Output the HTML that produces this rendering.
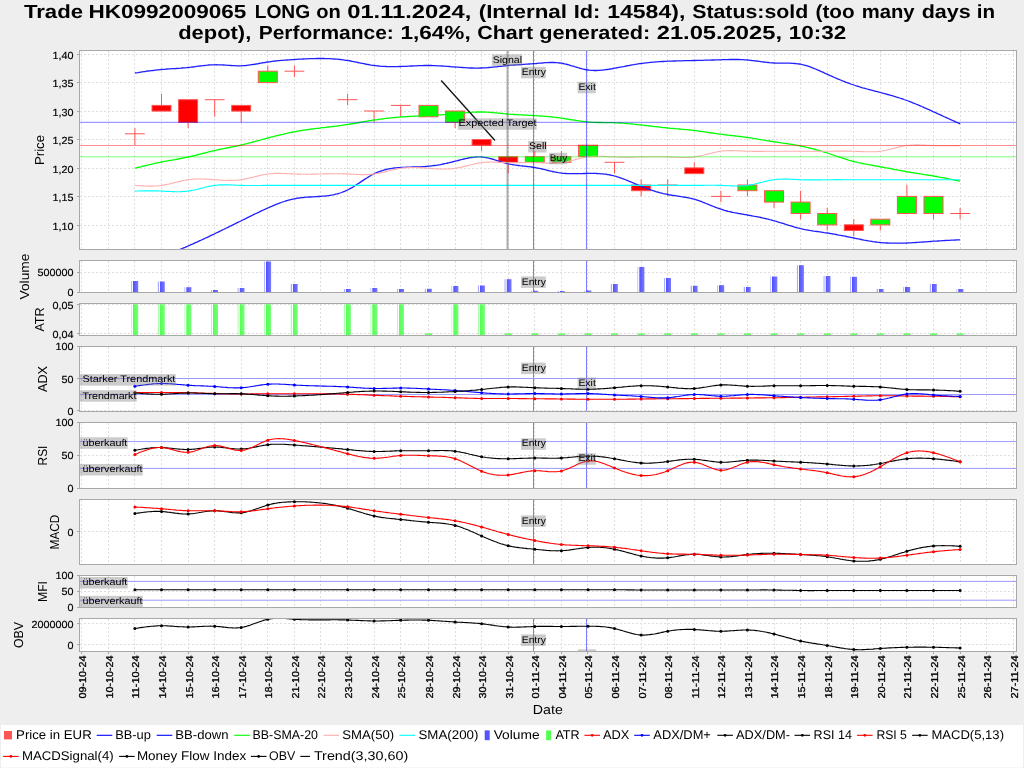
<!DOCTYPE html><html><head><meta charset="utf-8"><title>Trade chart</title>
<style>html,body{margin:0;padding:0;background:#eeeeee;overflow:hidden}svg{display:block;will-change:transform;transform:translateZ(0)}text{font-family:"Liberation Sans",sans-serif;fill:#000;text-rendering:geometricPrecision}.b{font-weight:bold}</style></head><body>
<svg width="1024" height="768" viewBox="0 0 1024 768">
<defs>
<linearGradient id="gv" x1="0" x2="1" y1="0" y2="0"><stop offset="0" stop-color="#b4b4ff"/><stop offset="0.13" stop-color="#a8a8ff"/><stop offset="0.16" stop-color="#fbfbff"/><stop offset="0.28" stop-color="#fbfbff"/><stop offset="0.31" stop-color="#5252ff"/><stop offset="1" stop-color="#7a7aff"/></linearGradient>
<linearGradient id="ga" x1="0" x2="1" y1="0" y2="0"><stop offset="0" stop-color="#b4ffb4"/><stop offset="0.13" stop-color="#a8ffa8"/><stop offset="0.16" stop-color="#fbfffb"/><stop offset="0.28" stop-color="#fbfffb"/><stop offset="0.31" stop-color="#52ff52"/><stop offset="1" stop-color="#7aff7a"/></linearGradient>
<clipPath id="c_price"><rect x="80.0" y="51.0" width="936.0" height="198.0"/></clipPath>
<clipPath id="c_vol"><rect x="80.0" y="261.0" width="936.0" height="31.0"/></clipPath>
<clipPath id="c_atr"><rect x="80.0" y="304.0" width="936.0" height="31.0"/></clipPath>
<clipPath id="c_adx"><rect x="80.0" y="347.0" width="936.0" height="64.0"/></clipPath>
<clipPath id="c_rsi"><rect x="80.0" y="423.0" width="936.0" height="65.0"/></clipPath>
<clipPath id="c_macd"><rect x="80.0" y="500.0" width="936.0" height="64.0"/></clipPath>
<clipPath id="c_mfi"><rect x="80.0" y="576.0" width="936.0" height="31.0"/></clipPath>
<clipPath id="c_obv"><rect x="80.0" y="619.0" width="936.0" height="32.0"/></clipPath>
</defs>
<rect width="1024" height="768" fill="#eeeeee"/>
<text class="b" x="23.9" y="18.0" font-size="18.9" textLength="59.1" lengthAdjust="spacingAndGlyphs">Trade</text>
<text class="b" x="88.5" y="18.0" font-size="18.9" textLength="157.8" lengthAdjust="spacingAndGlyphs">HK0992009065</text>
<text class="b" x="254.7" y="18.0" font-size="18.9" textLength="55.4" lengthAdjust="spacingAndGlyphs">LONG</text>
<text class="b" x="316.2" y="18.0" font-size="18.9" textLength="24.6" lengthAdjust="spacingAndGlyphs">on</text>
<text class="b" x="347.2" y="18.0" font-size="18.9" textLength="124.1" lengthAdjust="spacingAndGlyphs">01.11.2024,</text>
<text class="b" x="478.7" y="18.0" font-size="18.9" textLength="88.3" lengthAdjust="spacingAndGlyphs">(Internal</text>
<text class="b" x="573.7" y="18.0" font-size="18.9" textLength="26.6" lengthAdjust="spacingAndGlyphs">Id:</text>
<text class="b" x="607.2" y="18.0" font-size="18.9" textLength="78.1" lengthAdjust="spacingAndGlyphs">14584),</text>
<text class="b" x="692.2" y="18.0" font-size="18.9" textLength="116.1" lengthAdjust="spacingAndGlyphs">Status:sold</text>
<text class="b" x="815.5" y="18.0" font-size="18.9" textLength="39.1" lengthAdjust="spacingAndGlyphs">(too</text>
<text class="b" x="861.7" y="18.0" font-size="18.9" textLength="52.9" lengthAdjust="spacingAndGlyphs">many</text>
<text class="b" x="921.7" y="18.0" font-size="18.9" textLength="49.1" lengthAdjust="spacingAndGlyphs">days</text>
<text class="b" x="976.8" y="18.0" font-size="18.9" textLength="18.3" lengthAdjust="spacingAndGlyphs">in</text>
<text class="b" x="178.2" y="39.1" font-size="18.9" textLength="73.1" lengthAdjust="spacingAndGlyphs">depot),</text>
<text class="b" x="258.7" y="39.1" font-size="18.9" textLength="135.1" lengthAdjust="spacingAndGlyphs">Performance:</text>
<text class="b" x="400.4" y="39.1" font-size="18.9" textLength="70.3" lengthAdjust="spacingAndGlyphs">1,64%,</text>
<text class="b" x="477.2" y="39.1" font-size="18.9" textLength="56.1" lengthAdjust="spacingAndGlyphs">Chart</text>
<text class="b" x="539.2" y="39.1" font-size="18.9" textLength="111.1" lengthAdjust="spacingAndGlyphs">generated:</text>
<text class="b" x="656.7" y="39.1" font-size="18.9" textLength="125.3" lengthAdjust="spacingAndGlyphs">21.05.2025,</text>
<text class="b" x="788.7" y="39.1" font-size="18.9" textLength="57.6" lengthAdjust="spacingAndGlyphs">10:32</text>
<rect x="79.5" y="50.5" width="937.0" height="199.0" fill="#fff"/>
<path d="M81.5 51.0 V249.5 M108.5 51.0 V249.5 M134.5 51.0 V249.5 M161.5 51.0 V249.5 M188.5 51.0 V249.5 M214.5 51.0 V249.5 M241.5 51.0 V249.5 M267.5 51.0 V249.5 M294.5 51.0 V249.5 M320.5 51.0 V249.5 M347.5 51.0 V249.5 M374.5 51.0 V249.5 M400.5 51.0 V249.5 M428.5 51.0 V249.5 M455.5 51.0 V249.5 M481.5 51.0 V249.5 M508.5 51.0 V249.5 M534.5 51.0 V249.5 M561.5 51.0 V249.5 M587.5 51.0 V249.5 M614.5 51.0 V249.5 M641.5 51.0 V249.5 M667.5 51.0 V249.5 M694.5 51.0 V249.5 M720.5 51.0 V249.5 M747.5 51.0 V249.5 M774.5 51.0 V249.5 M800.5 51.0 V249.5 M827.5 51.0 V249.5 M853.5 51.0 V249.5 M880.5 51.0 V249.5 M906.5 51.0 V249.5 M933.5 51.0 V249.5 M960.5 51.0 V249.5 M986.5 51.0 V249.5 M1013.5 51.0 V249.5 M80.0 54.5 H1016.5 M80.0 82.5 H1016.5 M80.0 111.5 H1016.5 M80.0 139.5 H1016.5 M80.0 168.5 H1016.5 M80.0 196.5 H1016.5 M80.0 225.5 H1016.5" stroke="#dddddd" stroke-width="1" stroke-dasharray="2 2" fill="none"/>
<rect x="79.5" y="260.5" width="937.0" height="32.0" fill="#fff"/>
<path d="M81.5 261.0 V292.5 M108.5 261.0 V292.5 M134.5 261.0 V292.5 M161.5 261.0 V292.5 M188.5 261.0 V292.5 M214.5 261.0 V292.5 M241.5 261.0 V292.5 M267.5 261.0 V292.5 M294.5 261.0 V292.5 M320.5 261.0 V292.5 M347.5 261.0 V292.5 M374.5 261.0 V292.5 M400.5 261.0 V292.5 M428.5 261.0 V292.5 M455.5 261.0 V292.5 M481.5 261.0 V292.5 M508.5 261.0 V292.5 M534.5 261.0 V292.5 M561.5 261.0 V292.5 M587.5 261.0 V292.5 M614.5 261.0 V292.5 M641.5 261.0 V292.5 M667.5 261.0 V292.5 M694.5 261.0 V292.5 M720.5 261.0 V292.5 M747.5 261.0 V292.5 M774.5 261.0 V292.5 M800.5 261.0 V292.5 M827.5 261.0 V292.5 M853.5 261.0 V292.5 M880.5 261.0 V292.5 M906.5 261.0 V292.5 M933.5 261.0 V292.5 M960.5 261.0 V292.5 M986.5 261.0 V292.5 M1013.5 261.0 V292.5 M80.0 272.5 H1016.5 M80.0 292.5 H1016.5" stroke="#dddddd" stroke-width="1" stroke-dasharray="2 2" fill="none"/>
<rect x="79.5" y="303.5" width="937.0" height="32.0" fill="#fff"/>
<path d="M81.5 304.0 V335.5 M108.5 304.0 V335.5 M134.5 304.0 V335.5 M161.5 304.0 V335.5 M188.5 304.0 V335.5 M214.5 304.0 V335.5 M241.5 304.0 V335.5 M267.5 304.0 V335.5 M294.5 304.0 V335.5 M320.5 304.0 V335.5 M347.5 304.0 V335.5 M374.5 304.0 V335.5 M400.5 304.0 V335.5 M428.5 304.0 V335.5 M455.5 304.0 V335.5 M481.5 304.0 V335.5 M508.5 304.0 V335.5 M534.5 304.0 V335.5 M561.5 304.0 V335.5 M587.5 304.0 V335.5 M614.5 304.0 V335.5 M641.5 304.0 V335.5 M667.5 304.0 V335.5 M694.5 304.0 V335.5 M720.5 304.0 V335.5 M747.5 304.0 V335.5 M774.5 304.0 V335.5 M800.5 304.0 V335.5 M827.5 304.0 V335.5 M853.5 304.0 V335.5 M880.5 304.0 V335.5 M906.5 304.0 V335.5 M933.5 304.0 V335.5 M960.5 304.0 V335.5 M986.5 304.0 V335.5 M1013.5 304.0 V335.5 M80.0 304.5 H1016.5 M80.0 333.5 H1016.5" stroke="#dddddd" stroke-width="1" stroke-dasharray="2 2" fill="none"/>
<rect x="79.5" y="346.5" width="937.0" height="65.0" fill="#fff"/>
<path d="M81.5 347.0 V411.5 M108.5 347.0 V411.5 M134.5 347.0 V411.5 M161.5 347.0 V411.5 M188.5 347.0 V411.5 M214.5 347.0 V411.5 M241.5 347.0 V411.5 M267.5 347.0 V411.5 M294.5 347.0 V411.5 M320.5 347.0 V411.5 M347.5 347.0 V411.5 M374.5 347.0 V411.5 M400.5 347.0 V411.5 M428.5 347.0 V411.5 M455.5 347.0 V411.5 M481.5 347.0 V411.5 M508.5 347.0 V411.5 M534.5 347.0 V411.5 M561.5 347.0 V411.5 M587.5 347.0 V411.5 M614.5 347.0 V411.5 M641.5 347.0 V411.5 M667.5 347.0 V411.5 M694.5 347.0 V411.5 M720.5 347.0 V411.5 M747.5 347.0 V411.5 M774.5 347.0 V411.5 M800.5 347.0 V411.5 M827.5 347.0 V411.5 M853.5 347.0 V411.5 M880.5 347.0 V411.5 M906.5 347.0 V411.5 M933.5 347.0 V411.5 M960.5 347.0 V411.5 M986.5 347.0 V411.5 M1013.5 347.0 V411.5 M80.0 346.5 H1016.5 M80.0 378.5 H1016.5 M80.0 410.5 H1016.5" stroke="#dddddd" stroke-width="1" stroke-dasharray="2 2" fill="none"/>
<rect x="79.5" y="422.5" width="937.0" height="66.0" fill="#fff"/>
<path d="M81.5 423.0 V488.5 M108.5 423.0 V488.5 M134.5 423.0 V488.5 M161.5 423.0 V488.5 M188.5 423.0 V488.5 M214.5 423.0 V488.5 M241.5 423.0 V488.5 M267.5 423.0 V488.5 M294.5 423.0 V488.5 M320.5 423.0 V488.5 M347.5 423.0 V488.5 M374.5 423.0 V488.5 M400.5 423.0 V488.5 M428.5 423.0 V488.5 M455.5 423.0 V488.5 M481.5 423.0 V488.5 M508.5 423.0 V488.5 M534.5 423.0 V488.5 M561.5 423.0 V488.5 M587.5 423.0 V488.5 M614.5 423.0 V488.5 M641.5 423.0 V488.5 M667.5 423.0 V488.5 M694.5 423.0 V488.5 M720.5 423.0 V488.5 M747.5 423.0 V488.5 M774.5 423.0 V488.5 M800.5 423.0 V488.5 M827.5 423.0 V488.5 M853.5 423.0 V488.5 M880.5 423.0 V488.5 M906.5 423.0 V488.5 M933.5 423.0 V488.5 M960.5 423.0 V488.5 M986.5 423.0 V488.5 M1013.5 423.0 V488.5 M80.0 422.5 H1016.5 M80.0 455.5 H1016.5 M80.0 488.5 H1016.5" stroke="#dddddd" stroke-width="1" stroke-dasharray="2 2" fill="none"/>
<rect x="79.5" y="499.5" width="937.0" height="65.0" fill="#fff"/>
<path d="M81.5 500.0 V564.5 M108.5 500.0 V564.5 M134.5 500.0 V564.5 M161.5 500.0 V564.5 M188.5 500.0 V564.5 M214.5 500.0 V564.5 M241.5 500.0 V564.5 M267.5 500.0 V564.5 M294.5 500.0 V564.5 M320.5 500.0 V564.5 M347.5 500.0 V564.5 M374.5 500.0 V564.5 M400.5 500.0 V564.5 M428.5 500.0 V564.5 M455.5 500.0 V564.5 M481.5 500.0 V564.5 M508.5 500.0 V564.5 M534.5 500.0 V564.5 M561.5 500.0 V564.5 M587.5 500.0 V564.5 M614.5 500.0 V564.5 M641.5 500.0 V564.5 M667.5 500.0 V564.5 M694.5 500.0 V564.5 M720.5 500.0 V564.5 M747.5 500.0 V564.5 M774.5 500.0 V564.5 M800.5 500.0 V564.5 M827.5 500.0 V564.5 M853.5 500.0 V564.5 M880.5 500.0 V564.5 M906.5 500.0 V564.5 M933.5 500.0 V564.5 M960.5 500.0 V564.5 M986.5 500.0 V564.5 M1013.5 500.0 V564.5 M80.0 531.5 H1016.5" stroke="#dddddd" stroke-width="1" stroke-dasharray="2 2" fill="none"/>
<rect x="79.5" y="575.5" width="937.0" height="32.0" fill="#fff"/>
<path d="M81.5 576.0 V607.5 M108.5 576.0 V607.5 M134.5 576.0 V607.5 M161.5 576.0 V607.5 M188.5 576.0 V607.5 M214.5 576.0 V607.5 M241.5 576.0 V607.5 M267.5 576.0 V607.5 M294.5 576.0 V607.5 M320.5 576.0 V607.5 M347.5 576.0 V607.5 M374.5 576.0 V607.5 M400.5 576.0 V607.5 M428.5 576.0 V607.5 M455.5 576.0 V607.5 M481.5 576.0 V607.5 M508.5 576.0 V607.5 M534.5 576.0 V607.5 M561.5 576.0 V607.5 M587.5 576.0 V607.5 M614.5 576.0 V607.5 M641.5 576.0 V607.5 M667.5 576.0 V607.5 M694.5 576.0 V607.5 M720.5 576.0 V607.5 M747.5 576.0 V607.5 M774.5 576.0 V607.5 M800.5 576.0 V607.5 M827.5 576.0 V607.5 M853.5 576.0 V607.5 M880.5 576.0 V607.5 M906.5 576.0 V607.5 M933.5 576.0 V607.5 M960.5 576.0 V607.5 M986.5 576.0 V607.5 M1013.5 576.0 V607.5 M80.0 575.5 H1016.5 M80.0 591.5 H1016.5 M80.0 607.5 H1016.5" stroke="#dddddd" stroke-width="1" stroke-dasharray="2 2" fill="none"/>
<rect x="79.5" y="618.5" width="937.0" height="33.0" fill="#fff"/>
<path d="M81.5 619.0 V651.5 M108.5 619.0 V651.5 M134.5 619.0 V651.5 M161.5 619.0 V651.5 M188.5 619.0 V651.5 M214.5 619.0 V651.5 M241.5 619.0 V651.5 M267.5 619.0 V651.5 M294.5 619.0 V651.5 M320.5 619.0 V651.5 M347.5 619.0 V651.5 M374.5 619.0 V651.5 M400.5 619.0 V651.5 M428.5 619.0 V651.5 M455.5 619.0 V651.5 M481.5 619.0 V651.5 M508.5 619.0 V651.5 M534.5 619.0 V651.5 M561.5 619.0 V651.5 M587.5 619.0 V651.5 M614.5 619.0 V651.5 M641.5 619.0 V651.5 M667.5 619.0 V651.5 M694.5 619.0 V651.5 M720.5 619.0 V651.5 M747.5 619.0 V651.5 M774.5 619.0 V651.5 M800.5 619.0 V651.5 M827.5 619.0 V651.5 M853.5 619.0 V651.5 M880.5 619.0 V651.5 M906.5 619.0 V651.5 M933.5 619.0 V651.5 M960.5 619.0 V651.5 M986.5 619.0 V651.5 M1013.5 619.0 V651.5 M80.0 623.5 H1016.5 M80.0 644.5 H1016.5" stroke="#dddddd" stroke-width="1" stroke-dasharray="2 2" fill="none"/>
<g clip-path="url(#c_price)">
<path d="M134.9 128.1 V133.8" stroke="#ff5555" stroke-width="1"/>
<path d="M134.9 133.8 V145.2" stroke="#ff5555" stroke-width="1"/>
<path d="M125.0 133.8 H144.8" stroke="#ff5555" stroke-width="1"/>
<path d="M161.5 94.0 V105.4" stroke="#ff5555" stroke-width="1"/>
<rect x="152.0" y="105.4" width="19.0" height="5.7" fill="#ff0000" stroke="#ff5555" stroke-width="1"/>
<path d="M188.1 122.4 V128.1" stroke="#ff5555" stroke-width="1"/>
<rect x="178.6" y="99.7" width="19.0" height="22.8" fill="#ff0000" stroke="#ff5555" stroke-width="1"/>
<path d="M214.7 99.7 V116.7" stroke="#ff5555" stroke-width="1"/>
<path d="M204.8 99.7 H224.6" stroke="#ff5555" stroke-width="1"/>
<path d="M241.2 111.0 V122.4" stroke="#ff5555" stroke-width="1"/>
<rect x="231.7" y="105.4" width="19.0" height="5.7" fill="#ff0000" stroke="#ff5555" stroke-width="1"/>
<path d="M267.8 65.5 V71.2" stroke="#ff5555" stroke-width="1"/>
<rect x="258.3" y="71.2" width="19.0" height="11.4" fill="#00ff00" stroke="#ff5555" stroke-width="1"/>
<path d="M294.4 65.5 V71.2" stroke="#ff5555" stroke-width="1"/>
<path d="M294.4 71.2 V76.9" stroke="#ff5555" stroke-width="1"/>
<path d="M284.5 71.2 H304.3" stroke="#ff5555" stroke-width="1"/>
<path d="M347.6 94.0 V99.7" stroke="#ff5555" stroke-width="1"/>
<path d="M347.6 99.7 V105.4" stroke="#ff5555" stroke-width="1"/>
<path d="M337.7 99.7 H357.5" stroke="#ff5555" stroke-width="1"/>
<path d="M374.1 111.0 V122.4" stroke="#ff5555" stroke-width="1"/>
<path d="M364.2 111.0 H384.0" stroke="#ff5555" stroke-width="1"/>
<path d="M400.7 105.4 V116.7" stroke="#ff5555" stroke-width="1"/>
<path d="M390.8 105.4 H410.6" stroke="#ff5555" stroke-width="1"/>
<rect x="419.0" y="105.4" width="19.0" height="11.4" fill="#00ff00" stroke="#ff5555" stroke-width="1"/>
<path d="M455.1 122.4 V128.1" stroke="#ff5555" stroke-width="1"/>
<rect x="445.6" y="111.0" width="19.0" height="11.4" fill="#00ff00" stroke="#ff5555" stroke-width="1"/>
<path d="M481.6 145.2 V150.9" stroke="#ff5555" stroke-width="1"/>
<rect x="472.1" y="139.5" width="19.0" height="5.7" fill="#ff0000" stroke="#ff5555" stroke-width="1"/>
<path d="M508.2 162.3 V173.6" stroke="#ff5555" stroke-width="1"/>
<rect x="498.7" y="156.6" width="19.0" height="5.7" fill="#ff0000" stroke="#ff5555" stroke-width="1"/>
<path d="M534.8 150.9 V156.6" stroke="#ff5555" stroke-width="1"/>
<rect x="525.3" y="156.6" width="19.0" height="5.7" fill="#00ff00" stroke="#ff5555" stroke-width="1"/>
<path d="M561.4 150.9 V156.6" stroke="#ff5555" stroke-width="1"/>
<rect x="551.9" y="156.6" width="19.0" height="5.7" fill="#00ff00" stroke="#ff5555" stroke-width="1"/>
<rect x="578.5" y="145.2" width="19.0" height="11.4" fill="#00ff00" stroke="#ff5555" stroke-width="1"/>
<path d="M614.5 162.3 V173.6" stroke="#ff5555" stroke-width="1"/>
<path d="M604.6 162.3 H624.4" stroke="#ff5555" stroke-width="1"/>
<path d="M641.1 179.3 V185.0" stroke="#ff5555" stroke-width="1"/>
<path d="M641.1 190.7 V196.4" stroke="#ff5555" stroke-width="1"/>
<rect x="631.6" y="185.0" width="19.0" height="5.7" fill="#ff0000" stroke="#ff5555" stroke-width="1"/>
<path d="M667.7 179.3 V185.0" stroke="#ff5555" stroke-width="1"/>
<path d="M667.7 185.0 V196.4" stroke="#ff5555" stroke-width="1"/>
<path d="M657.8 185.0 H677.6" stroke="#ff5555" stroke-width="1"/>
<path d="M694.3 162.3 V167.9" stroke="#ff5555" stroke-width="1"/>
<rect x="684.8" y="167.9" width="19.0" height="5.7" fill="#ff0000" stroke="#ff5555" stroke-width="1"/>
<path d="M720.9 190.7 V196.4" stroke="#ff5555" stroke-width="1"/>
<path d="M720.9 196.4 V202.1" stroke="#ff5555" stroke-width="1"/>
<path d="M711.0 196.4 H730.8" stroke="#ff5555" stroke-width="1"/>
<path d="M747.4 179.3 V185.0" stroke="#ff5555" stroke-width="1"/>
<path d="M747.4 190.7 V196.4" stroke="#ff5555" stroke-width="1"/>
<rect x="737.9" y="185.0" width="19.0" height="5.7" fill="#00ff00" stroke="#ff5555" stroke-width="1"/>
<path d="M774.0 202.1 V207.8" stroke="#ff5555" stroke-width="1"/>
<rect x="764.5" y="190.7" width="19.0" height="11.4" fill="#00ff00" stroke="#ff5555" stroke-width="1"/>
<path d="M800.6 190.7 V202.1" stroke="#ff5555" stroke-width="1"/>
<path d="M800.6 213.5 V219.2" stroke="#ff5555" stroke-width="1"/>
<rect x="791.1" y="202.1" width="19.0" height="11.4" fill="#00ff00" stroke="#ff5555" stroke-width="1"/>
<path d="M827.2 207.8 V213.5" stroke="#ff5555" stroke-width="1"/>
<path d="M827.2 224.8 V230.5" stroke="#ff5555" stroke-width="1"/>
<rect x="817.7" y="213.5" width="19.0" height="11.4" fill="#00ff00" stroke="#ff5555" stroke-width="1"/>
<path d="M853.8 219.2 V224.8" stroke="#ff5555" stroke-width="1"/>
<path d="M853.8 230.5 V236.2" stroke="#ff5555" stroke-width="1"/>
<rect x="844.3" y="224.8" width="19.0" height="5.7" fill="#ff0000" stroke="#ff5555" stroke-width="1"/>
<path d="M880.3 224.8 V230.5" stroke="#ff5555" stroke-width="1"/>
<rect x="870.8" y="219.2" width="19.0" height="5.7" fill="#00ff00" stroke="#ff5555" stroke-width="1"/>
<path d="M906.9 185.0 V196.4" stroke="#ff5555" stroke-width="1"/>
<rect x="897.4" y="196.4" width="19.0" height="17.1" fill="#00ff00" stroke="#ff5555" stroke-width="1"/>
<path d="M933.5 213.5 V219.2" stroke="#ff5555" stroke-width="1"/>
<rect x="924.0" y="196.4" width="19.0" height="17.1" fill="#00ff00" stroke="#ff5555" stroke-width="1"/>
<path d="M960.1 207.8 V213.5" stroke="#ff5555" stroke-width="1"/>
<path d="M960.1 213.5 V219.2" stroke="#ff5555" stroke-width="1"/>
<path d="M950.2 213.5 H970.0" stroke="#ff5555" stroke-width="1"/>
<path d="M134.9 73.0 L136.4 72.8 L137.9 72.6 L139.4 72.3 L140.8 72.1 L142.3 71.9 L143.8 71.7 L145.3 71.5 L146.7 71.2 L148.2 71.0 L149.7 70.8 L151.2 70.6 L152.6 70.5 L154.1 70.3 L155.6 70.1 L157.1 69.9 L158.5 69.8 L160.0 69.6 L161.5 69.5 L163.0 69.4 L164.5 69.3 L165.9 69.1 L167.4 69.0 L168.9 68.9 L170.4 68.8 L171.8 68.7 L173.3 68.7 L174.8 68.6 L176.3 68.5 L177.7 68.4 L179.2 68.3 L180.7 68.2 L182.2 68.0 L183.6 67.9 L185.1 67.8 L186.6 67.7 L188.1 67.5 L189.6 67.3 L191.0 67.2 L192.5 67.0 L194.0 66.8 L195.5 66.6 L196.9 66.4 L198.4 66.2 L199.9 66.0 L201.4 65.8 L202.8 65.6 L204.3 65.5 L205.8 65.3 L207.3 65.2 L208.8 65.0 L210.2 64.9 L211.7 64.8 L213.2 64.8 L214.7 64.8 L216.1 64.7 L217.6 64.8 L219.1 64.8 L220.6 64.9 L222.0 64.9 L223.5 65.0 L225.0 65.1 L226.5 65.2 L227.9 65.3 L229.4 65.4 L230.9 65.5 L232.4 65.6 L233.9 65.7 L235.3 65.7 L236.8 65.8 L238.3 65.8 L239.8 65.8 L241.2 65.8 L242.7 65.7 L244.2 65.6 L245.7 65.5 L247.1 65.3 L248.6 65.1 L250.1 64.9 L251.6 64.7 L253.1 64.5 L254.5 64.3 L256.0 64.0 L257.5 63.8 L259.0 63.5 L260.4 63.2 L261.9 63.0 L263.4 62.7 L264.9 62.5 L266.3 62.2 L267.8 62.0 L269.3 61.8 L270.8 61.6 L272.2 61.4 L273.7 61.2 L275.2 61.0 L276.7 60.9 L278.2 60.7 L279.6 60.6 L281.1 60.4 L282.6 60.3 L284.1 60.2 L285.5 60.1 L287.0 60.0 L288.5 59.9 L290.0 59.8 L291.4 59.7 L292.9 59.6 L294.4 59.5 L295.9 59.4 L297.4 59.3 L298.8 59.2 L300.3 59.2 L301.8 59.1 L303.3 59.0 L304.7 58.9 L306.2 58.9 L307.7 58.8 L309.2 58.7 L310.6 58.7 L312.1 58.6 L313.6 58.6 L315.1 58.6 L316.5 58.5 L318.0 58.5 L319.5 58.5 L321.0 58.5 L322.5 58.5 L323.9 58.5 L325.4 58.6 L326.9 58.6 L328.4 58.7 L329.8 58.7 L331.3 58.8 L332.8 58.9 L334.3 59.0 L335.7 59.1 L337.2 59.2 L338.7 59.4 L340.2 59.5 L341.7 59.7 L343.1 59.9 L344.6 60.1 L346.1 60.3 L347.6 60.5 L349.0 60.7 L350.5 61.0 L352.0 61.3 L353.5 61.6 L354.9 61.9 L356.4 62.2 L357.9 62.5 L359.4 62.8 L360.8 63.1 L362.3 63.4 L363.8 63.7 L365.3 64.0 L366.8 64.3 L368.2 64.5 L369.7 64.8 L371.2 65.1 L372.7 65.3 L374.1 65.5 L375.6 65.7 L377.1 65.9 L378.6 66.0 L380.0 66.2 L381.5 66.3 L383.0 66.4 L384.5 66.4 L386.0 66.5 L387.4 66.6 L388.9 66.6 L390.4 66.6 L391.9 66.6 L393.3 66.6 L394.8 66.6 L396.3 66.6 L397.8 66.6 L399.2 66.5 L400.7 66.5 L402.2 66.4 L403.6 66.4 L405.1 66.3 L406.6 66.3 L408.0 66.2 L409.5 66.1 L410.9 66.0 L412.4 66.0 L413.9 65.9 L415.3 65.8 L416.8 65.8 L418.3 65.7 L419.7 65.7 L421.2 65.6 L422.6 65.6 L424.1 65.5 L425.6 65.5 L427.0 65.5 L428.5 65.5 L430.0 65.5 L431.4 65.5 L432.9 65.6 L434.4 65.6 L435.9 65.7 L437.3 65.8 L438.8 65.8 L440.3 65.9 L441.8 66.0 L443.2 66.1 L444.7 66.2 L446.2 66.3 L447.7 66.4 L449.2 66.5 L450.6 66.6 L452.1 66.8 L453.6 66.9 L455.1 67.0 L456.5 67.1 L458.0 67.2 L459.5 67.3 L461.0 67.4 L462.4 67.5 L463.9 67.6 L465.4 67.7 L466.9 67.8 L468.4 67.9 L469.8 68.0 L471.3 68.0 L472.8 68.0 L474.3 68.1 L475.7 68.1 L477.2 68.1 L478.7 68.1 L480.2 68.0 L481.6 68.0 L483.1 67.9 L484.6 67.9 L486.1 67.8 L487.5 67.6 L489.0 67.5 L490.5 67.4 L492.0 67.2 L493.5 67.1 L494.9 66.9 L496.4 66.8 L497.9 66.6 L499.4 66.4 L500.8 66.3 L502.3 66.1 L503.8 66.0 L505.3 65.8 L506.7 65.6 L508.2 65.5 L509.7 65.4 L511.2 65.2 L512.6 65.1 L514.1 65.0 L515.6 64.9 L517.1 64.8 L518.6 64.7 L520.0 64.6 L521.5 64.5 L523.0 64.4 L524.5 64.3 L525.9 64.2 L527.4 64.1 L528.9 64.0 L530.4 63.9 L531.8 63.8 L533.3 63.7 L534.8 63.6 L536.3 63.5 L537.8 63.3 L539.2 63.2 L540.7 63.1 L542.2 63.0 L543.7 62.8 L545.1 62.7 L546.6 62.7 L548.1 62.6 L549.6 62.5 L551.0 62.5 L552.5 62.5 L554.0 62.5 L555.5 62.6 L556.9 62.7 L558.4 62.8 L559.9 63.0 L561.4 63.2 L562.9 63.5 L564.3 63.8 L565.8 64.1 L567.3 64.5 L568.8 64.9 L570.2 65.3 L571.7 65.8 L573.2 66.2 L574.7 66.7 L576.1 67.1 L577.6 67.5 L579.1 68.0 L580.6 68.4 L582.1 68.8 L583.5 69.1 L585.0 69.5 L586.5 69.8 L588.0 70.0 L589.4 70.2 L590.9 70.3 L592.4 70.4 L593.9 70.5 L595.3 70.5 L596.8 70.5 L598.3 70.4 L599.8 70.3 L601.2 70.2 L602.7 70.1 L604.2 69.9 L605.7 69.7 L607.2 69.5 L608.6 69.3 L610.1 69.0 L611.6 68.8 L613.1 68.5 L614.5 68.2 L616.0 68.0 L617.5 67.7 L619.0 67.4 L620.4 67.1 L621.9 66.8 L623.4 66.6 L624.9 66.3 L626.4 66.0 L627.8 65.7 L629.3 65.5 L630.8 65.2 L632.3 64.9 L633.7 64.7 L635.2 64.4 L636.7 64.2 L638.2 63.9 L639.6 63.7 L641.1 63.5 L642.6 63.3 L644.1 63.1 L645.5 62.9 L647.0 62.8 L648.5 62.6 L650.0 62.4 L651.5 62.3 L652.9 62.2 L654.4 62.1 L655.9 61.9 L657.4 61.8 L658.8 61.7 L660.3 61.6 L661.8 61.5 L663.3 61.5 L664.7 61.4 L666.2 61.3 L667.7 61.2 L669.2 61.2 L670.7 61.1 L672.1 61.1 L673.6 61.0 L675.1 61.0 L676.6 60.9 L678.0 60.9 L679.5 60.8 L681.0 60.8 L682.5 60.8 L683.9 60.7 L685.4 60.7 L686.9 60.7 L688.4 60.6 L689.9 60.6 L691.3 60.6 L692.8 60.5 L694.3 60.5 L695.8 60.5 L697.2 60.4 L698.7 60.4 L700.2 60.3 L701.7 60.3 L703.1 60.3 L704.6 60.2 L706.1 60.2 L707.6 60.1 L709.0 60.1 L710.5 60.1 L712.0 60.0 L713.5 60.0 L715.0 59.9 L716.4 59.9 L717.9 59.8 L719.4 59.8 L720.9 59.8 L722.3 59.7 L723.8 59.7 L725.3 59.6 L726.8 59.6 L728.2 59.6 L729.7 59.5 L731.2 59.5 L732.7 59.5 L734.1 59.5 L735.6 59.5 L737.1 59.5 L738.6 59.5 L740.1 59.6 L741.5 59.6 L743.0 59.7 L744.5 59.8 L746.0 59.9 L747.4 60.0 L748.9 60.1 L750.4 60.3 L751.9 60.5 L753.3 60.6 L754.8 60.8 L756.3 61.0 L757.8 61.2 L759.3 61.4 L760.7 61.6 L762.2 61.8 L763.7 62.0 L765.2 62.2 L766.6 62.4 L768.1 62.5 L769.6 62.7 L771.1 62.8 L772.5 62.9 L774.0 63.0 L775.5 63.1 L777.0 63.1 L778.4 63.1 L779.9 63.1 L781.4 63.1 L782.9 63.1 L784.4 63.1 L785.8 63.1 L787.3 63.2 L788.8 63.2 L790.3 63.2 L791.7 63.3 L793.2 63.4 L794.7 63.5 L796.2 63.6 L797.6 63.8 L799.1 64.0 L800.6 64.2 L802.1 64.6 L803.6 64.9 L805.0 65.3 L806.5 65.7 L808.0 66.2 L809.5 66.7 L810.9 67.2 L812.4 67.8 L813.9 68.4 L815.4 69.0 L816.8 69.6 L818.3 70.2 L819.8 70.9 L821.3 71.6 L822.8 72.2 L824.2 72.9 L825.7 73.6 L827.2 74.2 L828.7 74.9 L830.1 75.6 L831.6 76.2 L833.1 76.9 L834.6 77.5 L836.0 78.2 L837.5 78.8 L839.0 79.4 L840.5 80.0 L841.9 80.6 L843.4 81.2 L844.9 81.8 L846.4 82.4 L847.9 82.9 L849.3 83.4 L850.8 84.0 L852.3 84.5 L853.8 85.0 L855.2 85.5 L856.7 86.0 L858.2 86.4 L859.7 86.9 L861.1 87.3 L862.6 87.8 L864.1 88.2 L865.6 88.6 L867.0 89.0 L868.5 89.4 L870.0 89.8 L871.5 90.2 L873.0 90.6 L874.4 91.0 L875.9 91.3 L877.4 91.7 L878.9 92.1 L880.3 92.5 L881.8 92.9 L883.3 93.3 L884.8 93.7 L886.2 94.1 L887.7 94.5 L889.2 94.9 L890.7 95.3 L892.2 95.7 L893.6 96.2 L895.1 96.6 L896.6 97.1 L898.1 97.5 L899.5 98.0 L901.0 98.5 L902.5 98.9 L904.0 99.5 L905.4 100.0 L906.9 100.5 L908.4 101.0 L909.9 101.6 L911.3 102.2 L912.8 102.8 L914.3 103.3 L915.8 104.0 L917.3 104.6 L918.7 105.2 L920.2 105.8 L921.7 106.5 L923.2 107.1 L924.6 107.8 L926.1 108.4 L927.6 109.1 L929.1 109.7 L930.5 110.4 L932.0 111.1 L933.5 111.8 L935.0 112.4 L936.5 113.1 L937.9 113.8 L939.4 114.4 L940.9 115.1 L942.4 115.8 L943.8 116.5 L945.3 117.1 L946.8 117.8 L948.3 118.5 L949.7 119.2 L951.2 119.8 L952.7 120.5 L954.2 121.2 L955.6 121.9 L957.1 122.5 L958.6 123.2 L960.1 123.9" fill="none" stroke="#2020ff" stroke-width="1.3" stroke-linejoin="round" />
<path d="M134.9 268.0 L136.4 267.4 L137.9 266.8 L139.4 266.2 L140.8 265.5 L142.3 264.9 L143.8 264.3 L145.3 263.7 L146.7 263.1 L148.2 262.5 L149.7 261.9 L151.2 261.2 L152.6 260.6 L154.1 260.0 L155.6 259.4 L157.1 258.8 L158.5 258.2 L160.0 257.6 L161.5 257.0 L163.0 256.4 L164.5 255.8 L165.9 255.2 L167.4 254.6 L168.9 254.0 L170.4 253.4 L171.8 252.8 L173.3 252.2 L174.8 251.6 L176.3 251.0 L177.7 250.4 L179.2 249.8 L180.7 249.1 L182.2 248.5 L183.6 247.9 L185.1 247.3 L186.6 246.6 L188.1 246.0 L189.6 245.4 L191.0 244.7 L192.5 244.1 L194.0 243.4 L195.5 242.7 L196.9 242.1 L198.4 241.4 L199.9 240.7 L201.4 240.0 L202.8 239.3 L204.3 238.7 L205.8 238.0 L207.3 237.3 L208.8 236.6 L210.2 235.9 L211.7 235.2 L213.2 234.5 L214.7 233.8 L216.1 233.0 L217.6 232.3 L219.1 231.6 L220.6 230.9 L222.0 230.2 L223.5 229.5 L225.0 228.7 L226.5 228.0 L227.9 227.3 L229.4 226.6 L230.9 225.8 L232.4 225.1 L233.9 224.4 L235.3 223.7 L236.8 222.9 L238.3 222.2 L239.8 221.5 L241.2 220.8 L242.7 220.0 L244.2 219.3 L245.7 218.6 L247.1 217.8 L248.6 217.1 L250.1 216.4 L251.6 215.7 L253.1 214.9 L254.5 214.2 L256.0 213.5 L257.5 212.8 L259.0 212.1 L260.4 211.4 L261.9 210.7 L263.4 210.0 L264.9 209.3 L266.3 208.7 L267.8 208.0 L269.3 207.3 L270.8 206.7 L272.2 206.1 L273.7 205.4 L275.2 204.8 L276.7 204.2 L278.2 203.7 L279.6 203.1 L281.1 202.5 L282.6 202.0 L284.1 201.5 L285.5 201.0 L287.0 200.6 L288.5 200.2 L290.0 199.8 L291.4 199.4 L292.9 199.1 L294.4 198.8 L295.9 198.5 L297.4 198.2 L298.8 198.0 L300.3 197.8 L301.8 197.6 L303.3 197.5 L304.7 197.4 L306.2 197.2 L307.7 197.1 L309.2 197.0 L310.6 197.0 L312.1 196.9 L313.6 196.8 L315.1 196.7 L316.5 196.6 L318.0 196.5 L319.5 196.5 L321.0 196.3 L322.5 196.2 L323.9 196.1 L325.4 196.0 L326.9 195.8 L328.4 195.6 L329.8 195.4 L331.3 195.1 L332.8 194.9 L334.3 194.6 L335.7 194.2 L337.2 193.9 L338.7 193.5 L340.2 193.0 L341.7 192.5 L343.1 191.9 L344.6 191.4 L346.1 190.7 L347.6 190.0 L349.0 189.2 L350.5 188.4 L352.0 187.6 L353.5 186.7 L354.9 185.8 L356.4 184.8 L357.9 183.8 L359.4 182.9 L360.8 181.9 L362.3 180.9 L363.8 179.9 L365.3 178.9 L366.8 178.0 L368.2 177.1 L369.7 176.2 L371.2 175.3 L372.7 174.5 L374.1 173.8 L375.6 173.0 L377.1 172.4 L378.6 171.8 L380.0 171.3 L381.5 170.8 L383.0 170.3 L384.5 169.9 L386.0 169.5 L387.4 169.2 L388.9 168.9 L390.4 168.6 L391.9 168.4 L393.3 168.2 L394.8 168.0 L396.3 167.9 L397.8 167.7 L399.2 167.6 L400.7 167.5 L402.2 167.4 L403.6 167.3 L405.1 167.3 L406.6 167.2 L408.0 167.2 L409.5 167.1 L410.9 167.1 L412.4 167.0 L413.9 167.0 L415.3 167.0 L416.8 166.9 L418.3 166.9 L419.7 166.8 L421.2 166.8 L422.6 166.7 L424.1 166.6 L425.6 166.5 L427.0 166.4 L428.5 166.2 L430.0 166.1 L431.4 165.9 L432.9 165.7 L434.4 165.5 L435.9 165.3 L437.3 165.1 L438.8 164.8 L440.3 164.6 L441.8 164.3 L443.2 164.0 L444.7 163.7 L446.2 163.4 L447.7 163.0 L449.2 162.7 L450.6 162.3 L452.1 162.0 L453.6 161.6 L455.1 161.2 L456.5 160.9 L458.0 160.5 L459.5 160.1 L461.0 159.7 L462.4 159.4 L463.9 159.0 L465.4 158.6 L466.9 158.3 L468.4 158.0 L469.8 157.7 L471.3 157.5 L472.8 157.3 L474.3 157.1 L475.7 157.0 L477.2 156.9 L478.7 156.9 L480.2 156.9 L481.6 157.0 L483.1 157.1 L484.6 157.3 L486.1 157.6 L487.5 157.9 L489.0 158.2 L490.5 158.6 L492.0 159.0 L493.5 159.4 L494.9 159.9 L496.4 160.3 L497.9 160.8 L499.4 161.2 L500.8 161.7 L502.3 162.1 L503.8 162.6 L505.3 163.0 L506.7 163.4 L508.2 163.8 L509.7 164.1 L511.2 164.4 L512.6 164.6 L514.1 164.9 L515.6 165.1 L517.1 165.3 L518.6 165.5 L520.0 165.7 L521.5 165.8 L523.0 166.0 L524.5 166.1 L525.9 166.3 L527.4 166.5 L528.9 166.6 L530.4 166.8 L531.8 167.0 L533.3 167.3 L534.8 167.5 L536.3 167.8 L537.8 168.1 L539.2 168.4 L540.7 168.7 L542.2 169.0 L543.7 169.4 L545.1 169.7 L546.6 170.1 L548.1 170.5 L549.6 170.8 L551.0 171.2 L552.5 171.5 L554.0 171.8 L555.5 172.1 L556.9 172.4 L558.4 172.7 L559.9 172.9 L561.4 173.1 L562.9 173.3 L564.3 173.4 L565.8 173.5 L567.3 173.6 L568.8 173.7 L570.2 173.7 L571.7 173.7 L573.2 173.7 L574.7 173.7 L576.1 173.7 L577.6 173.7 L579.1 173.6 L580.6 173.6 L582.1 173.6 L583.5 173.5 L585.0 173.5 L586.5 173.4 L588.0 173.4 L589.4 173.4 L590.9 173.4 L592.4 173.4 L593.9 173.4 L595.3 173.4 L596.8 173.5 L598.3 173.6 L599.8 173.6 L601.2 173.8 L602.7 173.9 L604.2 174.1 L605.7 174.2 L607.2 174.5 L608.6 174.7 L610.1 175.0 L611.6 175.3 L613.1 175.6 L614.5 176.0 L616.0 176.4 L617.5 176.9 L619.0 177.3 L620.4 177.8 L621.9 178.4 L623.4 178.9 L624.9 179.5 L626.4 180.1 L627.8 180.7 L629.3 181.3 L630.8 181.9 L632.3 182.5 L633.7 183.2 L635.2 183.8 L636.7 184.4 L638.2 185.1 L639.6 185.7 L641.1 186.3 L642.6 186.9 L644.1 187.5 L645.5 188.0 L647.0 188.6 L648.5 189.1 L650.0 189.7 L651.5 190.2 L652.9 190.6 L654.4 191.1 L655.9 191.6 L657.4 192.0 L658.8 192.4 L660.3 192.8 L661.8 193.2 L663.3 193.6 L664.7 193.9 L666.2 194.2 L667.7 194.5 L669.2 194.8 L670.7 195.0 L672.1 195.3 L673.6 195.5 L675.1 195.7 L676.6 195.9 L678.0 196.1 L679.5 196.3 L681.0 196.6 L682.5 196.8 L683.9 197.0 L685.4 197.3 L686.9 197.5 L688.4 197.8 L689.9 198.1 L691.3 198.5 L692.8 198.8 L694.3 199.2 L695.8 199.7 L697.2 200.2 L698.7 200.7 L700.2 201.2 L701.7 201.7 L703.1 202.3 L704.6 202.9 L706.1 203.5 L707.6 204.1 L709.0 204.7 L710.5 205.3 L712.0 205.9 L713.5 206.5 L715.0 207.1 L716.4 207.7 L717.9 208.2 L719.4 208.7 L720.9 209.2 L722.3 209.7 L723.8 210.2 L725.3 210.6 L726.8 211.0 L728.2 211.4 L729.7 211.7 L731.2 212.0 L732.7 212.4 L734.1 212.7 L735.6 212.9 L737.1 213.2 L738.6 213.5 L740.1 213.7 L741.5 214.0 L743.0 214.2 L744.5 214.5 L746.0 214.7 L747.4 215.0 L748.9 215.3 L750.4 215.5 L751.9 215.8 L753.3 216.1 L754.8 216.3 L756.3 216.6 L757.8 216.9 L759.3 217.2 L760.7 217.5 L762.2 217.8 L763.7 218.2 L765.2 218.5 L766.6 218.8 L768.1 219.2 L769.6 219.6 L771.1 219.9 L772.5 220.3 L774.0 220.8 L775.5 221.2 L777.0 221.6 L778.4 222.1 L779.9 222.5 L781.4 223.0 L782.9 223.4 L784.4 223.9 L785.8 224.4 L787.3 224.8 L788.8 225.3 L790.3 225.7 L791.7 226.2 L793.2 226.6 L794.7 227.1 L796.2 227.5 L797.6 227.9 L799.1 228.2 L800.6 228.6 L802.1 228.9 L803.6 229.3 L805.0 229.6 L806.5 229.8 L808.0 230.1 L809.5 230.4 L810.9 230.6 L812.4 230.8 L813.9 231.1 L815.4 231.3 L816.8 231.5 L818.3 231.7 L819.8 231.9 L821.3 232.1 L822.8 232.3 L824.2 232.6 L825.7 232.8 L827.2 233.0 L828.7 233.2 L830.1 233.5 L831.6 233.7 L833.1 234.0 L834.6 234.2 L836.0 234.5 L837.5 234.8 L839.0 235.1 L840.5 235.3 L841.9 235.6 L843.4 235.9 L844.9 236.2 L846.4 236.5 L847.9 236.8 L849.3 237.1 L850.8 237.4 L852.3 237.7 L853.8 238.0 L855.2 238.3 L856.7 238.6 L858.2 238.9 L859.7 239.2 L861.1 239.5 L862.6 239.8 L864.1 240.1 L865.6 240.3 L867.0 240.6 L868.5 240.9 L870.0 241.1 L871.5 241.3 L873.0 241.6 L874.4 241.8 L875.9 242.0 L877.4 242.2 L878.9 242.3 L880.3 242.5 L881.8 242.6 L883.3 242.8 L884.8 242.9 L886.2 243.0 L887.7 243.0 L889.2 243.1 L890.7 243.2 L892.2 243.2 L893.6 243.2 L895.1 243.2 L896.6 243.2 L898.1 243.2 L899.5 243.2 L901.0 243.2 L902.5 243.2 L904.0 243.1 L905.4 243.1 L906.9 243.0 L908.4 242.9 L909.9 242.9 L911.3 242.8 L912.8 242.7 L914.3 242.6 L915.8 242.5 L917.3 242.4 L918.7 242.3 L920.2 242.2 L921.7 242.1 L923.2 242.0 L924.6 241.9 L926.1 241.8 L927.6 241.7 L929.1 241.6 L930.5 241.5 L932.0 241.4 L933.5 241.2 L935.0 241.2 L936.5 241.1 L937.9 241.0 L939.4 240.9 L940.9 240.8 L942.4 240.7 L943.8 240.6 L945.3 240.5 L946.8 240.4 L948.3 240.4 L949.7 240.3 L951.2 240.2 L952.7 240.1 L954.2 240.1 L955.6 240.0 L957.1 239.9 L958.6 239.8 L960.1 239.8" fill="none" stroke="#2020ff" stroke-width="1.3" stroke-linejoin="round" />
<path d="M134.9 168.2 L136.4 167.9 L137.9 167.5 L139.4 167.1 L140.8 166.8 L142.3 166.4 L143.8 166.0 L145.3 165.7 L146.7 165.3 L148.2 164.9 L149.7 164.6 L151.2 164.3 L152.6 163.9 L154.1 163.6 L155.6 163.2 L157.1 162.9 L158.5 162.6 L160.0 162.3 L161.5 162.0 L163.0 161.7 L164.5 161.4 L165.9 161.1 L167.4 160.9 L168.9 160.6 L170.4 160.3 L171.8 160.1 L173.3 159.8 L174.8 159.6 L176.3 159.3 L177.7 159.0 L179.2 158.8 L180.7 158.5 L182.2 158.2 L183.6 157.9 L185.1 157.6 L186.6 157.3 L188.1 157.0 L189.6 156.7 L191.0 156.3 L192.5 156.0 L194.0 155.6 L195.5 155.3 L196.9 154.9 L198.4 154.5 L199.9 154.2 L201.4 153.8 L202.8 153.4 L204.3 153.0 L205.8 152.7 L207.3 152.3 L208.8 151.9 L210.2 151.5 L211.7 151.2 L213.2 150.8 L214.7 150.5 L216.1 150.2 L217.6 149.8 L219.1 149.5 L220.6 149.2 L222.0 148.9 L223.5 148.6 L225.0 148.3 L226.5 148.0 L227.9 147.8 L229.4 147.5 L230.9 147.2 L232.4 146.9 L233.9 146.6 L235.3 146.3 L236.8 146.0 L238.3 145.7 L239.8 145.3 L241.2 145.0 L242.7 144.7 L244.2 144.3 L245.7 143.9 L247.1 143.6 L248.6 143.2 L250.1 142.8 L251.6 142.4 L253.1 142.0 L254.5 141.6 L256.0 141.2 L257.5 140.8 L259.0 140.4 L260.4 140.0 L261.9 139.6 L263.4 139.2 L264.9 138.8 L266.3 138.4 L267.8 138.0 L269.3 137.6 L270.8 137.2 L272.2 136.8 L273.7 136.4 L275.2 136.1 L276.7 135.7 L278.2 135.3 L279.6 135.0 L281.1 134.6 L282.6 134.3 L284.1 133.9 L285.5 133.6 L287.0 133.3 L288.5 132.9 L290.0 132.6 L291.4 132.3 L292.9 132.0 L294.4 131.8 L295.9 131.5 L297.4 131.2 L298.8 131.0 L300.3 130.7 L301.8 130.5 L303.3 130.2 L304.7 130.0 L306.2 129.8 L307.7 129.6 L309.2 129.4 L310.6 129.2 L312.1 129.0 L313.6 128.8 L315.1 128.6 L316.5 128.4 L318.0 128.3 L319.5 128.1 L321.0 127.9 L322.5 127.7 L323.9 127.6 L325.4 127.4 L326.9 127.2 L328.4 127.0 L329.8 126.9 L331.3 126.7 L332.8 126.5 L334.3 126.3 L335.7 126.1 L337.2 126.0 L338.7 125.8 L340.2 125.6 L341.7 125.4 L343.1 125.2 L344.6 124.9 L346.1 124.7 L347.6 124.5 L349.0 124.3 L350.5 124.0 L352.0 123.8 L353.5 123.5 L354.9 123.3 L356.4 123.0 L357.9 122.8 L359.4 122.5 L360.8 122.2 L362.3 122.0 L363.8 121.7 L365.3 121.5 L366.8 121.2 L368.2 121.0 L369.7 120.7 L371.2 120.5 L372.7 120.2 L374.1 120.0 L375.6 119.8 L377.1 119.6 L378.6 119.3 L380.0 119.1 L381.5 119.0 L383.0 118.8 L384.5 118.6 L386.0 118.4 L387.4 118.2 L388.9 118.1 L390.4 117.9 L391.9 117.8 L393.3 117.6 L394.8 117.5 L396.3 117.4 L397.8 117.2 L399.2 117.1 L400.7 117.0 L402.2 116.9 L403.6 116.8 L405.1 116.7 L406.6 116.6 L408.0 116.5 L409.5 116.4 L410.9 116.4 L412.4 116.3 L413.9 116.2 L415.3 116.1 L416.8 116.1 L418.3 116.0 L419.7 115.9 L421.2 115.8 L422.6 115.8 L424.1 115.7 L425.6 115.6 L427.0 115.6 L428.5 115.5 L430.0 115.4 L431.4 115.4 L432.9 115.3 L434.4 115.2 L435.9 115.1 L437.3 115.0 L438.8 114.9 L440.3 114.9 L441.8 114.8 L443.2 114.7 L444.7 114.6 L446.2 114.5 L447.7 114.4 L449.2 114.2 L450.6 114.1 L452.1 114.0 L453.6 113.9 L455.1 113.8 L456.5 113.6 L458.0 113.5 L459.5 113.3 L461.0 113.2 L462.4 113.1 L463.9 112.9 L465.4 112.8 L466.9 112.7 L468.4 112.5 L469.8 112.4 L471.3 112.3 L472.8 112.2 L474.3 112.2 L475.7 112.1 L477.2 112.0 L478.7 112.0 L480.2 112.0 L481.6 112.0 L483.1 112.0 L484.6 112.1 L486.1 112.1 L487.5 112.2 L489.0 112.3 L490.5 112.4 L492.0 112.5 L493.5 112.7 L494.9 112.8 L496.4 112.9 L497.9 113.1 L499.4 113.2 L500.8 113.4 L502.3 113.5 L503.8 113.7 L505.3 113.8 L506.7 114.0 L508.2 114.1 L509.7 114.2 L511.2 114.3 L512.6 114.4 L514.1 114.5 L515.6 114.6 L517.1 114.7 L518.6 114.8 L520.0 114.9 L521.5 114.9 L523.0 115.0 L524.5 115.1 L525.9 115.2 L527.4 115.2 L528.9 115.3 L530.4 115.4 L531.8 115.4 L533.3 115.5 L534.8 115.6 L536.3 115.7 L537.8 115.8 L539.2 115.9 L540.7 116.0 L542.2 116.1 L543.7 116.2 L545.1 116.3 L546.6 116.4 L548.1 116.6 L549.6 116.7 L551.0 116.8 L552.5 117.0 L554.0 117.2 L555.5 117.3 L556.9 117.5 L558.4 117.7 L559.9 117.9 L561.4 118.1 L562.9 118.3 L564.3 118.5 L565.8 118.8 L567.3 119.0 L568.8 119.3 L570.2 119.5 L571.7 119.8 L573.2 120.0 L574.7 120.2 L576.1 120.5 L577.6 120.7 L579.1 120.9 L580.6 121.1 L582.1 121.3 L583.5 121.5 L585.0 121.7 L586.5 121.9 L588.0 122.0 L589.4 122.1 L590.9 122.2 L592.4 122.3 L593.9 122.4 L595.3 122.4 L596.8 122.5 L598.3 122.5 L599.8 122.5 L601.2 122.5 L602.7 122.6 L604.2 122.6 L605.7 122.6 L607.2 122.6 L608.6 122.6 L610.1 122.6 L611.6 122.7 L613.1 122.7 L614.5 122.8 L616.0 122.8 L617.5 122.9 L619.0 123.0 L620.4 123.0 L621.9 123.1 L623.4 123.2 L624.9 123.4 L626.4 123.5 L627.8 123.6 L629.3 123.7 L630.8 123.9 L632.3 124.0 L633.7 124.2 L635.2 124.3 L636.7 124.5 L638.2 124.7 L639.6 124.8 L641.1 125.0 L642.6 125.2 L644.1 125.3 L645.5 125.5 L647.0 125.7 L648.5 125.9 L650.0 126.0 L651.5 126.2 L652.9 126.4 L654.4 126.6 L655.9 126.7 L657.4 126.9 L658.8 127.1 L660.3 127.2 L661.8 127.4 L663.3 127.6 L664.7 127.7 L666.2 127.9 L667.7 128.0 L669.2 128.1 L670.7 128.3 L672.1 128.4 L673.6 128.5 L675.1 128.7 L676.6 128.8 L678.0 128.9 L679.5 129.0 L681.0 129.2 L682.5 129.3 L683.9 129.4 L685.4 129.6 L686.9 129.7 L688.4 129.9 L689.9 130.0 L691.3 130.2 L692.8 130.3 L694.3 130.5 L695.8 130.7 L697.2 130.9 L698.7 131.1 L700.2 131.3 L701.7 131.5 L703.1 131.7 L704.6 131.9 L706.1 132.1 L707.6 132.3 L709.0 132.5 L710.5 132.8 L712.0 133.0 L713.5 133.2 L715.0 133.4 L716.4 133.6 L717.9 133.8 L719.4 134.1 L720.9 134.2 L722.3 134.4 L723.8 134.6 L725.3 134.8 L726.8 135.0 L728.2 135.2 L729.7 135.3 L731.2 135.5 L732.7 135.7 L734.1 135.9 L735.6 136.0 L737.1 136.2 L738.6 136.4 L740.1 136.5 L741.5 136.7 L743.0 136.9 L744.5 137.1 L746.0 137.3 L747.4 137.5 L748.9 137.7 L750.4 137.9 L751.9 138.1 L753.3 138.4 L754.8 138.6 L756.3 138.8 L757.8 139.1 L759.3 139.3 L760.7 139.6 L762.2 139.8 L763.7 140.1 L765.2 140.3 L766.6 140.6 L768.1 140.8 L769.6 141.0 L771.1 141.3 L772.5 141.5 L774.0 141.8 L775.5 142.0 L777.0 142.2 L778.4 142.4 L779.9 142.6 L781.4 142.9 L782.9 143.1 L784.4 143.3 L785.8 143.5 L787.3 143.7 L788.8 144.0 L790.3 144.2 L791.7 144.4 L793.2 144.7 L794.7 144.9 L796.2 145.2 L797.6 145.4 L799.1 145.7 L800.6 146.0 L802.1 146.3 L803.6 146.6 L805.0 146.9 L806.5 147.3 L808.0 147.6 L809.5 148.0 L810.9 148.3 L812.4 148.7 L813.9 149.1 L815.4 149.5 L816.8 149.9 L818.3 150.3 L819.8 150.7 L821.3 151.2 L822.8 151.6 L824.2 152.1 L825.7 152.5 L827.2 153.0 L828.7 153.5 L830.1 154.0 L831.6 154.5 L833.1 155.0 L834.6 155.5 L836.0 156.0 L837.5 156.5 L839.0 157.0 L840.5 157.4 L841.9 157.9 L843.4 158.4 L844.9 158.9 L846.4 159.4 L847.9 159.8 L849.3 160.3 L850.8 160.7 L852.3 161.1 L853.8 161.5 L855.2 161.9 L856.7 162.2 L858.2 162.6 L859.7 162.9 L861.1 163.2 L862.6 163.5 L864.1 163.8 L865.6 164.1 L867.0 164.4 L868.5 164.7 L870.0 164.9 L871.5 165.2 L873.0 165.5 L874.4 165.7 L875.9 166.0 L877.4 166.2 L878.9 166.5 L880.3 166.8 L881.8 167.0 L883.3 167.3 L884.8 167.6 L886.2 167.8 L887.7 168.1 L889.2 168.4 L890.7 168.7 L892.2 169.0 L893.6 169.3 L895.1 169.6 L896.6 169.8 L898.1 170.1 L899.5 170.4 L901.0 170.7 L902.5 171.0 L904.0 171.2 L905.4 171.5 L906.9 171.8 L908.4 172.0 L909.9 172.2 L911.3 172.5 L912.8 172.7 L914.3 173.0 L915.8 173.2 L917.3 173.4 L918.7 173.6 L920.2 173.9 L921.7 174.1 L923.2 174.3 L924.6 174.6 L926.1 174.8 L927.6 175.0 L929.1 175.3 L930.5 175.5 L932.0 175.7 L933.5 176.0 L935.0 176.3 L936.5 176.5 L937.9 176.8 L939.4 177.1 L940.9 177.3 L942.4 177.6 L943.8 177.9 L945.3 178.2 L946.8 178.5 L948.3 178.8 L949.7 179.1 L951.2 179.4 L952.7 179.7 L954.2 180.0 L955.6 180.3 L957.1 180.6 L958.6 180.9 L960.1 181.2" fill="none" stroke="#00ff00" stroke-width="1.3" stroke-linejoin="round" />
<path d="M134.9 185.4 L136.4 185.5 L137.9 185.6 L139.4 185.7 L140.8 185.8 L142.3 185.9 L143.8 185.9 L145.3 186.0 L146.7 186.0 L148.2 186.1 L149.7 186.1 L151.2 186.1 L152.6 186.1 L154.1 186.0 L155.6 186.0 L157.1 185.9 L158.5 185.7 L160.0 185.6 L161.5 185.4 L163.0 185.1 L164.5 184.9 L165.9 184.6 L167.4 184.3 L168.9 184.0 L170.4 183.6 L171.8 183.3 L173.3 182.9 L174.8 182.5 L176.3 182.2 L177.7 181.8 L179.2 181.4 L180.7 181.1 L182.2 180.8 L183.6 180.5 L185.1 180.2 L186.6 179.9 L188.1 179.7 L189.6 179.5 L191.0 179.3 L192.5 179.2 L194.0 179.1 L195.5 179.0 L196.9 179.0 L198.4 179.0 L199.9 178.9 L201.4 179.0 L202.8 179.0 L204.3 179.1 L205.8 179.1 L207.3 179.2 L208.8 179.3 L210.2 179.4 L211.7 179.5 L213.2 179.6 L214.7 179.7 L216.1 179.8 L217.6 179.9 L219.1 180.0 L220.6 180.1 L222.0 180.2 L223.5 180.2 L225.0 180.3 L226.5 180.4 L227.9 180.4 L229.4 180.4 L230.9 180.4 L232.4 180.4 L233.9 180.3 L235.3 180.3 L236.8 180.2 L238.3 180.0 L239.8 179.9 L241.2 179.7 L242.7 179.4 L244.2 179.2 L245.7 178.9 L247.1 178.6 L248.6 178.2 L250.1 177.9 L251.6 177.5 L253.1 177.2 L254.5 176.8 L256.0 176.4 L257.5 176.1 L259.0 175.7 L260.4 175.4 L261.9 175.0 L263.4 174.7 L264.9 174.5 L266.3 174.2 L267.8 174.0 L269.3 173.8 L270.8 173.7 L272.2 173.6 L273.7 173.5 L275.2 173.4 L276.7 173.4 L278.2 173.4 L279.6 173.4 L281.1 173.4 L282.6 173.5 L284.1 173.5 L285.5 173.6 L287.0 173.6 L288.5 173.7 L290.0 173.8 L291.4 173.9 L292.9 173.9 L294.4 174.0 L295.9 174.0 L297.4 174.1 L298.8 174.1 L300.3 174.1 L301.8 174.2 L303.3 174.2 L304.7 174.2 L306.2 174.2 L307.7 174.2 L309.2 174.2 L310.6 174.2 L312.1 174.1 L313.6 174.1 L315.1 174.1 L316.5 174.1 L318.0 174.0 L319.5 174.0 L321.0 174.0 L322.5 174.0 L323.9 173.9 L325.4 173.9 L326.9 173.9 L328.4 173.9 L329.8 173.8 L331.3 173.8 L332.8 173.8 L334.3 173.8 L335.7 173.8 L337.2 173.8 L338.7 173.8 L340.2 173.8 L341.7 173.8 L343.1 173.9 L344.6 173.9 L346.1 173.9 L347.6 174.0 L349.0 174.1 L350.5 174.1 L352.0 174.2 L353.5 174.3 L354.9 174.3 L356.4 174.4 L357.9 174.5 L359.4 174.5 L360.8 174.6 L362.3 174.6 L363.8 174.6 L365.3 174.6 L366.8 174.6 L368.2 174.5 L369.7 174.4 L371.2 174.3 L372.7 174.2 L374.1 174.0 L375.6 173.8 L377.1 173.5 L378.6 173.3 L380.0 172.9 L381.5 172.6 L383.0 172.3 L384.5 171.9 L386.0 171.6 L387.4 171.2 L388.9 170.8 L390.4 170.5 L391.9 170.1 L393.3 169.7 L394.8 169.4 L396.3 169.1 L397.8 168.8 L399.2 168.5 L400.7 168.3 L402.2 168.1 L403.6 167.9 L405.1 167.8 L406.6 167.7 L408.0 167.6 L409.5 167.6 L410.9 167.5 L412.4 167.5 L413.9 167.5 L415.3 167.5 L416.8 167.6 L418.3 167.6 L419.7 167.7 L421.2 167.8 L422.6 167.9 L424.1 168.0 L425.6 168.1 L427.0 168.2 L428.5 168.3 L430.0 168.4 L431.4 168.5 L432.9 168.6 L434.4 168.7 L435.9 168.8 L437.3 168.9 L438.8 168.9 L440.3 169.0 L441.8 169.0 L443.2 169.0 L444.7 169.0 L446.2 169.0 L447.7 169.0 L449.2 168.9 L450.6 168.8 L452.1 168.7 L453.6 168.5 L455.1 168.3 L456.5 168.1 L458.0 167.8 L459.5 167.5 L461.0 167.2 L462.4 166.9 L463.9 166.5 L465.4 166.1 L466.9 165.8 L468.4 165.4 L469.8 165.0 L471.3 164.7 L472.8 164.3 L474.3 164.0 L475.7 163.6 L477.2 163.3 L478.7 163.1 L480.2 162.8 L481.6 162.6 L483.1 162.4 L484.6 162.3 L486.1 162.2 L487.5 162.1 L489.0 162.1 L490.5 162.0 L492.0 162.0 L493.5 162.1 L494.9 162.1 L496.4 162.1 L497.9 162.2 L499.4 162.3 L500.8 162.3 L502.3 162.4 L503.8 162.4 L505.3 162.5 L506.7 162.6 L508.2 162.6 L509.7 162.6 L511.2 162.7 L512.6 162.7 L514.1 162.7 L515.6 162.7 L517.1 162.7 L518.6 162.6 L520.0 162.6 L521.5 162.6 L523.0 162.6 L524.5 162.6 L525.9 162.6 L527.4 162.5 L528.9 162.5 L530.4 162.5 L531.8 162.6 L533.3 162.6 L534.8 162.6 L536.3 162.7 L537.8 162.7 L539.2 162.8 L540.7 162.8 L542.2 162.9 L543.7 163.0 L545.1 163.0 L546.6 163.1 L548.1 163.1 L549.6 163.2 L551.0 163.2 L552.5 163.2 L554.0 163.2 L555.5 163.1 L556.9 163.0 L558.4 162.9 L559.9 162.8 L561.4 162.6 L562.9 162.4 L564.3 162.1 L565.8 161.9 L567.3 161.6 L568.8 161.2 L570.2 160.9 L571.7 160.5 L573.2 160.2 L574.7 159.8 L576.1 159.4 L577.6 159.0 L579.1 158.7 L580.6 158.3 L582.1 158.0 L583.5 157.7 L585.0 157.4 L586.5 157.1 L588.0 156.9 L589.4 156.7 L590.9 156.6 L592.4 156.5 L593.9 156.4 L595.3 156.3 L596.8 156.3 L598.3 156.3 L599.8 156.3 L601.2 156.3 L602.7 156.4 L604.2 156.4 L605.7 156.5 L607.2 156.6 L608.6 156.6 L610.1 156.7 L611.6 156.8 L613.1 156.9 L614.5 156.9 L616.0 157.0 L617.5 157.0 L619.0 157.1 L620.4 157.1 L621.9 157.1 L623.4 157.1 L624.9 157.1 L626.4 157.1 L627.8 157.1 L629.3 157.1 L630.8 157.1 L632.3 157.1 L633.7 157.1 L635.2 157.0 L636.7 157.0 L638.2 157.0 L639.6 156.9 L641.1 156.9 L642.6 156.9 L644.1 156.9 L645.5 156.8 L647.0 156.8 L648.5 156.8 L650.0 156.8 L651.5 156.7 L652.9 156.7 L654.4 156.7 L655.9 156.7 L657.4 156.7 L658.8 156.7 L660.3 156.7 L661.8 156.8 L663.3 156.8 L664.7 156.8 L666.2 156.9 L667.7 156.9 L669.2 157.0 L670.7 157.1 L672.1 157.1 L673.6 157.2 L675.1 157.3 L676.6 157.3 L678.0 157.4 L679.5 157.5 L681.0 157.5 L682.5 157.5 L683.9 157.5 L685.4 157.5 L686.9 157.5 L688.4 157.4 L689.9 157.4 L691.3 157.2 L692.8 157.1 L694.3 156.9 L695.8 156.7 L697.2 156.4 L698.7 156.2 L700.2 155.9 L701.7 155.5 L703.1 155.2 L704.6 154.8 L706.1 154.4 L707.6 154.1 L709.0 153.7 L710.5 153.3 L712.0 153.0 L713.5 152.6 L715.0 152.3 L716.4 152.0 L717.9 151.7 L719.4 151.4 L720.9 151.2 L722.3 151.0 L723.8 150.9 L725.3 150.8 L726.8 150.7 L728.2 150.7 L729.7 150.6 L731.2 150.6 L732.7 150.6 L734.1 150.7 L735.6 150.7 L737.1 150.8 L738.6 150.8 L740.1 150.9 L741.5 151.0 L743.0 151.0 L744.5 151.1 L746.0 151.2 L747.4 151.2 L748.9 151.3 L750.4 151.3 L751.9 151.3 L753.3 151.4 L754.8 151.4 L756.3 151.4 L757.8 151.4 L759.3 151.4 L760.7 151.4 L762.2 151.4 L763.7 151.4 L765.2 151.3 L766.6 151.3 L768.1 151.3 L769.6 151.3 L771.1 151.3 L772.5 151.2 L774.0 151.2 L775.5 151.2 L777.0 151.2 L778.4 151.2 L779.9 151.2 L781.4 151.2 L782.9 151.2 L784.4 151.2 L785.8 151.2 L787.3 151.2 L788.8 151.2 L790.3 151.2 L791.7 151.2 L793.2 151.2 L794.7 151.2 L796.2 151.2 L797.6 151.2 L799.1 151.2 L800.6 151.2 L802.1 151.2 L803.6 151.2 L805.0 151.3 L806.5 151.3 L808.0 151.3 L809.5 151.3 L810.9 151.3 L812.4 151.3 L813.9 151.3 L815.4 151.3 L816.8 151.3 L818.3 151.3 L819.8 151.3 L821.3 151.3 L822.8 151.3 L824.2 151.3 L825.7 151.2 L827.2 151.2 L828.7 151.2 L830.1 151.2 L831.6 151.2 L833.1 151.2 L834.6 151.1 L836.0 151.1 L837.5 151.1 L839.0 151.1 L840.5 151.1 L841.9 151.1 L843.4 151.1 L844.9 151.1 L846.4 151.1 L847.9 151.1 L849.3 151.1 L850.8 151.1 L852.3 151.2 L853.8 151.2 L855.2 151.3 L856.7 151.4 L858.2 151.4 L859.7 151.5 L861.1 151.6 L862.6 151.6 L864.1 151.7 L865.6 151.8 L867.0 151.8 L868.5 151.8 L870.0 151.8 L871.5 151.8 L873.0 151.8 L874.4 151.8 L875.9 151.7 L877.4 151.6 L878.9 151.4 L880.3 151.2 L881.8 151.0 L883.3 150.8 L884.8 150.5 L886.2 150.2 L887.7 149.8 L889.2 149.5 L890.7 149.1 L892.2 148.8 L893.6 148.4 L895.1 148.0 L896.6 147.6 L898.1 147.3 L899.5 146.9 L901.0 146.6 L902.5 146.3 L904.0 146.0 L905.4 145.8 L906.9 145.5 L908.4 145.4 L909.9 145.2 L911.3 145.1 L912.8 145.0 L914.3 145.0 L915.8 144.9 L917.3 144.9 L918.7 144.9 L920.2 145.0 L921.7 145.0 L923.2 145.1 L924.6 145.1 L926.1 145.2 L927.6 145.3 L929.1 145.3 L930.5 145.4 L932.0 145.5 L933.5 145.5 L935.0 145.6 L936.5 145.6 L937.9 145.7 L939.4 145.7 L940.9 145.7 L942.4 145.7 L943.8 145.7 L945.3 145.7 L946.8 145.7 L948.3 145.7 L949.7 145.7 L951.2 145.7 L952.7 145.7 L954.2 145.6 L955.6 145.6 L957.1 145.6 L958.6 145.6 L960.1 145.5" fill="none" stroke="#ffafaf" stroke-width="1.1" stroke-linejoin="round" />
<path d="M134.9 191.1 L136.4 191.0 L137.9 191.0 L139.4 191.0 L140.8 191.0 L142.3 190.9 L143.8 190.9 L145.3 190.9 L146.7 190.9 L148.2 190.9 L149.7 190.9 L151.2 190.9 L152.6 190.9 L154.1 190.9 L155.6 190.9 L157.1 190.9 L158.5 191.0 L160.0 191.0 L161.5 191.1 L163.0 191.1 L164.5 191.2 L165.9 191.3 L167.4 191.3 L168.9 191.4 L170.4 191.5 L171.8 191.6 L173.3 191.6 L174.8 191.7 L176.3 191.7 L177.7 191.7 L179.2 191.7 L180.7 191.7 L182.2 191.6 L183.6 191.5 L185.1 191.4 L186.6 191.3 L188.1 191.1 L189.6 190.9 L191.0 190.6 L192.5 190.3 L194.0 190.0 L195.5 189.7 L196.9 189.3 L198.4 189.0 L199.9 188.6 L201.4 188.2 L202.8 187.8 L204.3 187.5 L205.8 187.1 L207.3 186.8 L208.8 186.4 L210.2 186.1 L211.7 185.9 L213.2 185.6 L214.7 185.4 L216.1 185.2 L217.6 185.1 L219.1 184.9 L220.6 184.9 L222.0 184.8 L223.5 184.8 L225.0 184.8 L226.5 184.8 L227.9 184.8 L229.4 184.9 L230.9 184.9 L232.4 185.0 L233.9 185.0 L235.3 185.1 L236.8 185.2 L238.3 185.3 L239.8 185.3 L241.2 185.4 L242.7 185.4 L244.2 185.5 L245.7 185.5 L247.1 185.5 L248.6 185.5 L250.1 185.5 L251.6 185.5 L253.1 185.5 L254.5 185.5 L256.0 185.5 L257.5 185.5 L259.0 185.5 L260.4 185.5 L261.9 185.5 L263.4 185.4 L264.9 185.4 L266.3 185.4 L267.8 185.4 L269.3 185.4 L270.8 185.4 L272.2 185.3 L273.7 185.3 L275.2 185.3 L276.7 185.3 L278.2 185.3 L279.6 185.3 L281.1 185.3 L282.6 185.3 L284.1 185.3 L285.5 185.3 L287.0 185.4 L288.5 185.4 L290.0 185.4 L291.4 185.4 L292.9 185.4 L294.4 185.4 L295.9 185.4 L297.4 185.4 L298.8 185.4 L300.3 185.4 L301.8 185.4 L303.3 185.4 L304.7 185.4 L306.2 185.4 L307.7 185.4 L309.2 185.4 L310.6 185.4 L312.1 185.4 L313.6 185.4 L315.1 185.4 L316.5 185.4 L318.0 185.4 L319.5 185.4 L321.0 185.4 L322.5 185.4 L323.9 185.4 L325.4 185.4 L326.9 185.4 L328.4 185.4 L329.8 185.4 L331.3 185.4 L332.8 185.4 L334.3 185.4 L335.7 185.4 L337.2 185.4 L338.7 185.4 L340.2 185.4 L341.7 185.4 L343.1 185.4 L344.6 185.4 L346.1 185.4 L347.6 185.4 L349.0 185.4 L350.5 185.4 L352.0 185.4 L353.5 185.4 L354.9 185.4 L356.4 185.4 L357.9 185.4 L359.4 185.4 L360.8 185.4 L362.3 185.4 L363.8 185.4 L365.3 185.4 L366.8 185.4 L368.2 185.4 L369.7 185.4 L371.2 185.4 L372.7 185.4 L374.1 185.4 L375.6 185.4 L377.1 185.4 L378.6 185.4 L380.0 185.4 L381.5 185.4 L383.0 185.4 L384.5 185.4 L386.0 185.4 L387.4 185.4 L388.9 185.4 L390.4 185.4 L391.9 185.4 L393.3 185.4 L394.8 185.4 L396.3 185.4 L397.8 185.4 L399.2 185.4 L400.7 185.4 L402.2 185.4 L403.6 185.4 L405.1 185.4 L406.6 185.4 L408.0 185.4 L409.5 185.4 L410.9 185.4 L412.4 185.4 L413.9 185.4 L415.3 185.4 L416.8 185.4 L418.3 185.4 L419.7 185.4 L421.2 185.4 L422.6 185.4 L424.1 185.4 L425.6 185.4 L427.0 185.4 L428.5 185.4 L430.0 185.4 L431.4 185.4 L432.9 185.4 L434.4 185.4 L435.9 185.4 L437.3 185.4 L438.8 185.4 L440.3 185.4 L441.8 185.4 L443.2 185.4 L444.7 185.4 L446.2 185.4 L447.7 185.4 L449.2 185.4 L450.6 185.4 L452.1 185.4 L453.6 185.4 L455.1 185.4 L456.5 185.4 L458.0 185.4 L459.5 185.4 L461.0 185.4 L462.4 185.4 L463.9 185.4 L465.4 185.4 L466.9 185.4 L468.4 185.4 L469.8 185.4 L471.3 185.4 L472.8 185.4 L474.3 185.4 L475.7 185.4 L477.2 185.4 L478.7 185.4 L480.2 185.4 L481.6 185.4 L483.1 185.4 L484.6 185.4 L486.1 185.4 L487.5 185.4 L489.0 185.4 L490.5 185.4 L492.0 185.4 L493.5 185.4 L494.9 185.4 L496.4 185.4 L497.9 185.4 L499.4 185.4 L500.8 185.4 L502.3 185.4 L503.8 185.4 L505.3 185.4 L506.7 185.4 L508.2 185.4 L509.7 185.4 L511.2 185.4 L512.6 185.4 L514.1 185.4 L515.6 185.4 L517.1 185.4 L518.6 185.4 L520.0 185.4 L521.5 185.4 L523.0 185.4 L524.5 185.4 L525.9 185.4 L527.4 185.4 L528.9 185.4 L530.4 185.4 L531.8 185.4 L533.3 185.4 L534.8 185.4 L536.3 185.4 L537.8 185.4 L539.2 185.4 L540.7 185.4 L542.2 185.4 L543.7 185.4 L545.1 185.4 L546.6 185.4 L548.1 185.4 L549.6 185.4 L551.0 185.4 L552.5 185.4 L554.0 185.4 L555.5 185.4 L556.9 185.4 L558.4 185.4 L559.9 185.4 L561.4 185.4 L562.9 185.4 L564.3 185.4 L565.8 185.4 L567.3 185.4 L568.8 185.4 L570.2 185.4 L571.7 185.4 L573.2 185.4 L574.7 185.4 L576.1 185.4 L577.6 185.4 L579.1 185.4 L580.6 185.4 L582.1 185.4 L583.5 185.4 L585.0 185.4 L586.5 185.4 L588.0 185.4 L589.4 185.4 L590.9 185.4 L592.4 185.4 L593.9 185.4 L595.3 185.4 L596.8 185.4 L598.3 185.4 L599.8 185.4 L601.2 185.4 L602.7 185.4 L604.2 185.4 L605.7 185.4 L607.2 185.4 L608.6 185.4 L610.1 185.4 L611.6 185.4 L613.1 185.4 L614.5 185.4 L616.0 185.4 L617.5 185.4 L619.0 185.4 L620.4 185.4 L621.9 185.4 L623.4 185.4 L624.9 185.4 L626.4 185.4 L627.8 185.4 L629.3 185.4 L630.8 185.4 L632.3 185.4 L633.7 185.4 L635.2 185.4 L636.7 185.4 L638.2 185.4 L639.6 185.4 L641.1 185.4 L642.6 185.4 L644.1 185.4 L645.5 185.4 L647.0 185.4 L648.5 185.4 L650.0 185.4 L651.5 185.4 L652.9 185.4 L654.4 185.4 L655.9 185.4 L657.4 185.4 L658.8 185.4 L660.3 185.4 L661.8 185.4 L663.3 185.4 L664.7 185.4 L666.2 185.4 L667.7 185.4 L669.2 185.4 L670.7 185.4 L672.1 185.4 L673.6 185.4 L675.1 185.4 L676.6 185.4 L678.0 185.4 L679.5 185.4 L681.0 185.4 L682.5 185.4 L683.9 185.4 L685.4 185.4 L686.9 185.4 L688.4 185.4 L689.9 185.4 L691.3 185.4 L692.8 185.4 L694.3 185.4 L695.8 185.4 L697.2 185.3 L698.7 185.3 L700.2 185.3 L701.7 185.3 L703.1 185.3 L704.6 185.3 L706.1 185.2 L707.6 185.2 L709.0 185.2 L710.5 185.2 L712.0 185.2 L713.5 185.2 L715.0 185.2 L716.4 185.3 L717.9 185.3 L719.4 185.3 L720.9 185.4 L722.3 185.4 L723.8 185.5 L725.3 185.6 L726.8 185.6 L728.2 185.7 L729.7 185.8 L731.2 185.9 L732.7 185.9 L734.1 186.0 L735.6 186.0 L737.1 186.0 L738.6 186.0 L740.1 186.0 L741.5 185.9 L743.0 185.8 L744.5 185.7 L746.0 185.6 L747.4 185.4 L748.9 185.2 L750.4 184.9 L751.9 184.6 L753.3 184.3 L754.8 184.0 L756.3 183.6 L757.8 183.3 L759.3 182.9 L760.7 182.5 L762.2 182.2 L763.7 181.8 L765.2 181.4 L766.6 181.1 L768.1 180.8 L769.6 180.4 L771.1 180.2 L772.5 179.9 L774.0 179.7 L775.5 179.5 L777.0 179.4 L778.4 179.3 L779.9 179.2 L781.4 179.1 L782.9 179.1 L784.4 179.1 L785.8 179.1 L787.3 179.1 L788.8 179.2 L790.3 179.2 L791.7 179.3 L793.2 179.3 L794.7 179.4 L796.2 179.5 L797.6 179.6 L799.1 179.6 L800.6 179.7 L802.1 179.7 L803.6 179.8 L805.0 179.8 L806.5 179.8 L808.0 179.8 L809.5 179.9 L810.9 179.9 L812.4 179.9 L813.9 179.8 L815.4 179.8 L816.8 179.8 L818.3 179.8 L819.8 179.8 L821.3 179.8 L822.8 179.7 L824.2 179.7 L825.7 179.7 L827.2 179.7 L828.7 179.7 L830.1 179.7 L831.6 179.7 L833.1 179.7 L834.6 179.6 L836.0 179.6 L837.5 179.6 L839.0 179.6 L840.5 179.6 L841.9 179.7 L843.4 179.7 L844.9 179.7 L846.4 179.7 L847.9 179.7 L849.3 179.7 L850.8 179.7 L852.3 179.7 L853.8 179.7 L855.2 179.7 L856.7 179.7 L858.2 179.7 L859.7 179.7 L861.1 179.7 L862.6 179.7 L864.1 179.7 L865.6 179.7 L867.0 179.7 L868.5 179.7 L870.0 179.7 L871.5 179.7 L873.0 179.7 L874.4 179.7 L875.9 179.7 L877.4 179.7 L878.9 179.7 L880.3 179.7 L881.8 179.7 L883.3 179.7 L884.8 179.7 L886.2 179.7 L887.7 179.7 L889.2 179.7 L890.7 179.7 L892.2 179.7 L893.6 179.7 L895.1 179.7 L896.6 179.7 L898.1 179.7 L899.5 179.7 L901.0 179.7 L902.5 179.7 L904.0 179.7 L905.4 179.7 L906.9 179.7 L908.4 179.7 L909.9 179.7 L911.3 179.7 L912.8 179.7 L914.3 179.7 L915.8 179.7 L917.3 179.7 L918.7 179.7 L920.2 179.7 L921.7 179.7 L923.2 179.7 L924.6 179.7 L926.1 179.7 L927.6 179.7 L929.1 179.7 L930.5 179.7 L932.0 179.7 L933.5 179.7 L935.0 179.7 L936.5 179.7 L937.9 179.7 L939.4 179.7 L940.9 179.7 L942.4 179.7 L943.8 179.7 L945.3 179.7 L946.8 179.7 L948.3 179.7 L949.7 179.7 L951.2 179.7 L952.7 179.7 L954.2 179.7 L955.6 179.7 L957.1 179.7 L958.6 179.7 L960.1 179.7" fill="none" stroke="#00ffff" stroke-width="1.15" stroke-linejoin="round" />
<path d="M441.2 80.5 L495 140.5" stroke="#111" stroke-width="1.3"/>
<path d="M79.5 122.35 H1016.5" stroke="#0000ff" stroke-opacity="0.4" stroke-width="1.15"/>
<path d="M79.5 145.45 H1016.5" stroke="#ff0000" stroke-opacity="0.45" stroke-width="1.05"/>
<path d="M79.5 156.7 H1016.5" stroke="#00ff00" stroke-opacity="0.34" stroke-width="1.6"/>
<path d="M507.5 50.5 V249.5" stroke="#5a5a5a" stroke-opacity="0.5" stroke-width="2"/>
<path d="M533.5 50.5 V249.5 M586.5 50.5 V249.5" stroke="#0000ff" stroke-opacity="0.5" stroke-width="1.05"/>
<rect x="491.9" y="54.4" width="30.2" height="11.5" fill="#808080" fill-opacity="0.4"/><text x="492.7" y="62.5" font-size="9.6" textLength="29.4" lengthAdjust="spacingAndGlyphs">Signal</text>
<rect x="521.0" y="66.8" width="24.8" height="11.5" fill="#808080" fill-opacity="0.4"/><text x="521.8" y="74.9" font-size="9.6" textLength="24.0" lengthAdjust="spacingAndGlyphs">Entry</text>
<rect x="577.6" y="81.8" width="18.2" height="11.5" fill="#808080" fill-opacity="0.4"/><text x="578.4" y="89.9" font-size="9.6" textLength="17.4" lengthAdjust="spacingAndGlyphs">Exit</text>
<rect x="457.8" y="118.3" width="78.8" height="11.5" fill="#808080" fill-opacity="0.4"/><text x="458.6" y="126.4" font-size="9.6" textLength="78.0" lengthAdjust="spacingAndGlyphs">Expected Target</text>
<rect x="528.2" y="141.0" width="18.4" height="11.5" fill="#808080" fill-opacity="0.4"/><text x="529.0" y="149.1" font-size="9.6" textLength="17.6" lengthAdjust="spacingAndGlyphs">Sell</text>
<rect x="549.0" y="152.8" width="18.2" height="11.5" fill="#808080" fill-opacity="0.4"/><text x="549.8" y="160.9" font-size="9.6" textLength="17.4" lengthAdjust="spacingAndGlyphs">Buy</text>
</g>
<g clip-path="url(#c_vol)">
<path d="M533.5 260.5 V292.5" stroke="#7c7cff" stroke-width="1"/>
<path d="M586.5 260.5 V292.5" stroke="#7c7cff" stroke-width="1"/>
<rect x="131.2" y="281.0" width="7" height="11.5" fill="url(#gv)"/>
<rect x="157.8" y="281.5" width="7" height="11.0" fill="url(#gv)"/>
<rect x="184.4" y="287.2" width="7" height="5.2" fill="url(#gv)"/>
<rect x="211.0" y="290.0" width="7" height="2.5" fill="url(#gv)"/>
<rect x="237.5" y="288.0" width="7" height="4.5" fill="url(#gv)"/>
<rect x="264.1" y="261.5" width="7" height="31.0" fill="url(#gv)"/>
<rect x="290.7" y="284.0" width="7" height="8.5" fill="url(#gv)"/>
<rect x="343.9" y="289.0" width="7" height="3.5" fill="url(#gv)"/>
<rect x="370.4" y="288.0" width="7" height="4.5" fill="url(#gv)"/>
<rect x="397.0" y="289.0" width="7" height="3.5" fill="url(#gv)"/>
<rect x="424.8" y="288.8" width="7" height="3.8" fill="url(#gv)"/>
<rect x="451.4" y="286.0" width="7" height="6.5" fill="url(#gv)"/>
<rect x="477.9" y="285.5" width="7" height="7.0" fill="url(#gv)"/>
<rect x="504.5" y="279.2" width="7" height="13.2" fill="url(#gv)"/>
<rect x="531.1" y="290.8" width="7" height="1.8" fill="url(#gv)"/>
<rect x="557.7" y="291.0" width="7" height="1.5" fill="url(#gv)"/>
<rect x="584.3" y="290.5" width="7" height="2.0" fill="url(#gv)"/>
<rect x="610.8" y="284.0" width="7" height="8.5" fill="url(#gv)"/>
<rect x="637.4" y="267.0" width="7" height="25.5" fill="url(#gv)"/>
<rect x="664.0" y="278.0" width="7" height="14.5" fill="url(#gv)"/>
<rect x="690.6" y="285.8" width="7" height="6.8" fill="url(#gv)"/>
<rect x="717.2" y="285.2" width="7" height="7.2" fill="url(#gv)"/>
<rect x="743.7" y="287.0" width="7" height="5.5" fill="url(#gv)"/>
<rect x="770.3" y="276.5" width="7" height="16.0" fill="url(#gv)"/>
<rect x="796.9" y="265.2" width="7" height="27.2" fill="url(#gv)"/>
<rect x="823.5" y="276.0" width="7" height="16.5" fill="url(#gv)"/>
<rect x="850.1" y="276.8" width="7" height="15.8" fill="url(#gv)"/>
<rect x="876.6" y="289.0" width="7" height="3.5" fill="url(#gv)"/>
<rect x="903.2" y="287.0" width="7" height="5.5" fill="url(#gv)"/>
<rect x="929.8" y="284.0" width="7" height="8.5" fill="url(#gv)"/>
<rect x="956.4" y="289.0" width="7" height="3.5" fill="url(#gv)"/>
<rect x="521.0" y="276.4" width="24.8" height="11.5" fill="#808080" fill-opacity="0.4"/><text x="521.8" y="284.5" font-size="9.6" textLength="24.0" lengthAdjust="spacingAndGlyphs">Entry</text>
</g>
<g clip-path="url(#c_atr)">
<rect x="131.2" y="304.3" width="7" height="31.2" fill="url(#ga)"/>
<rect x="157.8" y="304.3" width="7" height="31.2" fill="url(#ga)"/>
<rect x="184.4" y="304.3" width="7" height="31.2" fill="url(#ga)"/>
<rect x="211.0" y="304.3" width="7" height="31.2" fill="url(#ga)"/>
<rect x="237.5" y="304.3" width="7" height="31.2" fill="url(#ga)"/>
<rect x="264.1" y="304.3" width="7" height="31.2" fill="url(#ga)"/>
<rect x="290.7" y="304.3" width="7" height="31.2" fill="url(#ga)"/>
<rect x="343.9" y="304.3" width="7" height="31.2" fill="url(#ga)"/>
<rect x="370.4" y="304.3" width="7" height="31.2" fill="url(#ga)"/>
<rect x="397.0" y="304.3" width="7" height="31.2" fill="url(#ga)"/>
<rect x="425.0" y="333.4" width="7" height="2.1" fill="#66ff66"/>
<rect x="451.4" y="304.3" width="7" height="31.2" fill="url(#ga)"/>
<rect x="477.9" y="304.3" width="7" height="31.2" fill="url(#ga)"/>
<rect x="504.7" y="333.4" width="7" height="2.1" fill="#66ff66"/>
<rect x="531.3" y="333.4" width="7" height="2.1" fill="#66ff66"/>
<rect x="557.9" y="333.4" width="7" height="2.1" fill="#66ff66"/>
<rect x="584.5" y="333.4" width="7" height="2.1" fill="#66ff66"/>
<rect x="611.0" y="333.4" width="7" height="2.1" fill="#66ff66"/>
<rect x="637.6" y="333.4" width="7" height="2.1" fill="#66ff66"/>
<rect x="664.2" y="333.4" width="7" height="2.1" fill="#66ff66"/>
<rect x="690.8" y="333.4" width="7" height="2.1" fill="#66ff66"/>
<rect x="717.4" y="333.4" width="7" height="2.1" fill="#66ff66"/>
<rect x="743.9" y="333.4" width="7" height="2.1" fill="#66ff66"/>
<rect x="770.5" y="333.4" width="7" height="2.1" fill="#66ff66"/>
<rect x="797.1" y="333.4" width="7" height="2.1" fill="#66ff66"/>
<rect x="823.7" y="333.4" width="7" height="2.1" fill="#66ff66"/>
<rect x="850.3" y="333.4" width="7" height="2.1" fill="#66ff66"/>
<rect x="876.8" y="333.4" width="7" height="2.1" fill="#66ff66"/>
<rect x="903.4" y="333.4" width="7" height="2.1" fill="#66ff66"/>
<rect x="930.0" y="333.4" width="7" height="2.1" fill="#66ff66"/>
<rect x="956.6" y="333.4" width="7" height="2.1" fill="#66ff66"/>
</g>
<g clip-path="url(#c_adx)">
<path d="M533.5 346.5 V411.5" stroke="#7c7cff" stroke-width="1"/>
<path d="M586.5 346.5 V411.5" stroke="#7c7cff" stroke-width="1"/>
<path d="M79.5 378.5 H1016.5" stroke="#9a9aff" stroke-width="1"/>
<path d="M79.5 394.5 H1016.5" stroke="#9a9aff" stroke-width="1"/>
<path d="M134.9 392.5 L136.4 392.5 L137.9 392.5 L139.4 392.5 L140.8 392.5 L142.3 392.5 L143.8 392.5 L145.3 392.5 L146.7 392.5 L148.2 392.5 L149.7 392.5 L151.2 392.5 L152.6 392.5 L154.1 392.5 L155.6 392.5 L157.1 392.5 L158.5 392.5 L160.0 392.5 L161.5 392.5 L163.0 392.5 L164.5 392.5 L165.9 392.5 L167.4 392.5 L168.9 392.5 L170.4 392.5 L171.8 392.5 L173.3 392.6 L174.8 392.6 L176.3 392.6 L177.7 392.6 L179.2 392.6 L180.7 392.6 L182.2 392.6 L183.6 392.7 L185.1 392.7 L186.6 392.7 L188.1 392.8 L189.6 392.8 L191.0 392.8 L192.5 392.8 L194.0 392.9 L195.5 392.9 L196.9 393.0 L198.4 393.0 L199.9 393.0 L201.4 393.1 L202.8 393.1 L204.3 393.2 L205.8 393.2 L207.3 393.3 L208.8 393.3 L210.2 393.4 L211.7 393.4 L213.2 393.5 L214.7 393.5 L216.1 393.5 L217.6 393.6 L219.1 393.6 L220.6 393.7 L222.0 393.7 L223.5 393.7 L225.0 393.8 L226.5 393.8 L227.9 393.8 L229.4 393.9 L230.9 393.9 L232.4 393.9 L233.9 393.9 L235.3 394.0 L236.8 394.0 L238.3 394.0 L239.8 394.0 L241.2 394.0 L242.7 394.0 L244.2 394.0 L245.7 394.0 L247.1 394.0 L248.6 394.0 L250.1 394.0 L251.6 393.9 L253.1 393.9 L254.5 393.9 L256.0 393.9 L257.5 393.9 L259.0 393.9 L260.4 393.8 L261.9 393.8 L263.4 393.8 L264.9 393.8 L266.3 393.8 L267.8 393.8 L269.3 393.7 L270.8 393.7 L272.2 393.7 L273.7 393.7 L275.2 393.7 L276.7 393.7 L278.2 393.7 L279.6 393.7 L281.1 393.7 L282.6 393.7 L284.1 393.7 L285.5 393.7 L287.0 393.7 L288.5 393.7 L290.0 393.7 L291.4 393.7 L292.9 393.7 L294.4 393.8 L295.9 393.8 L297.4 393.8 L298.8 393.8 L300.3 393.8 L301.8 393.8 L303.3 393.8 L304.7 393.8 L306.2 393.8 L307.7 393.8 L309.2 393.8 L310.6 393.8 L312.1 393.8 L313.6 393.8 L315.1 393.8 L316.5 393.8 L318.0 393.8 L319.5 393.8 L321.0 393.8 L322.5 393.8 L323.9 393.9 L325.4 393.9 L326.9 393.9 L328.4 393.9 L329.8 393.9 L331.3 393.9 L332.8 393.9 L334.3 394.0 L335.7 394.0 L337.2 394.0 L338.7 394.0 L340.2 394.1 L341.7 394.1 L343.1 394.1 L344.6 394.2 L346.1 394.2 L347.6 394.2 L349.0 394.3 L350.5 394.3 L352.0 394.4 L353.5 394.4 L354.9 394.5 L356.4 394.5 L357.9 394.6 L359.4 394.6 L360.8 394.7 L362.3 394.8 L363.8 394.8 L365.3 394.9 L366.8 394.9 L368.2 395.0 L369.7 395.1 L371.2 395.1 L372.7 395.2 L374.1 395.2 L375.6 395.3 L377.1 395.4 L378.6 395.4 L380.0 395.5 L381.5 395.6 L383.0 395.6 L384.5 395.7 L386.0 395.7 L387.4 395.8 L388.9 395.8 L390.4 395.9 L391.9 395.9 L393.3 396.0 L394.8 396.1 L396.3 396.1 L397.8 396.2 L399.2 396.2 L400.7 396.2 L402.2 396.3 L403.6 396.3 L405.1 396.4 L406.6 396.4 L408.0 396.5 L409.5 396.5 L410.9 396.6 L412.4 396.6 L413.9 396.6 L415.3 396.7 L416.8 396.7 L418.3 396.7 L419.7 396.8 L421.2 396.8 L422.6 396.9 L424.1 396.9 L425.6 396.9 L427.0 397.0 L428.5 397.0 L430.0 397.0 L431.4 397.1 L432.9 397.1 L434.4 397.2 L435.9 397.2 L437.3 397.2 L438.8 397.3 L440.3 397.3 L441.8 397.3 L443.2 397.4 L444.7 397.4 L446.2 397.5 L447.7 397.5 L449.2 397.6 L450.6 397.6 L452.1 397.7 L453.6 397.7 L455.1 397.8 L456.5 397.8 L458.0 397.8 L459.5 397.9 L461.0 397.9 L462.4 398.0 L463.9 398.0 L465.4 398.1 L466.9 398.1 L468.4 398.2 L469.8 398.2 L471.3 398.3 L472.8 398.3 L474.3 398.4 L475.7 398.4 L477.2 398.4 L478.7 398.5 L480.2 398.5 L481.6 398.5 L483.1 398.5 L484.6 398.5 L486.1 398.5 L487.5 398.5 L489.0 398.5 L490.5 398.5 L492.0 398.5 L493.5 398.5 L494.9 398.5 L496.4 398.5 L497.9 398.5 L499.4 398.5 L500.8 398.5 L502.3 398.5 L503.8 398.5 L505.3 398.5 L506.7 398.5 L508.2 398.5 L509.7 398.5 L511.2 398.5 L512.6 398.5 L514.1 398.5 L515.6 398.5 L517.1 398.5 L518.6 398.6 L520.0 398.6 L521.5 398.6 L523.0 398.6 L524.5 398.6 L525.9 398.6 L527.4 398.7 L528.9 398.7 L530.4 398.7 L531.8 398.7 L533.3 398.7 L534.8 398.8 L536.3 398.8 L537.8 398.8 L539.2 398.8 L540.7 398.8 L542.2 398.8 L543.7 398.8 L545.1 398.9 L546.6 398.9 L548.1 398.9 L549.6 398.9 L551.0 398.9 L552.5 398.9 L554.0 398.9 L555.5 398.9 L556.9 399.0 L558.4 399.0 L559.9 399.0 L561.4 399.0 L562.9 399.0 L564.3 399.0 L565.8 399.0 L567.3 399.1 L568.8 399.1 L570.2 399.1 L571.7 399.1 L573.2 399.1 L574.7 399.1 L576.1 399.2 L577.6 399.2 L579.1 399.2 L580.6 399.2 L582.1 399.2 L583.5 399.2 L585.0 399.2 L586.5 399.2 L588.0 399.2 L589.4 399.3 L590.9 399.3 L592.4 399.3 L593.9 399.3 L595.3 399.3 L596.8 399.3 L598.3 399.3 L599.8 399.3 L601.2 399.3 L602.7 399.3 L604.2 399.3 L605.7 399.3 L607.2 399.3 L608.6 399.3 L610.1 399.3 L611.6 399.3 L613.1 399.3 L614.5 399.2 L616.0 399.2 L617.5 399.2 L619.0 399.2 L620.4 399.2 L621.9 399.2 L623.4 399.2 L624.9 399.2 L626.4 399.2 L627.8 399.1 L629.3 399.1 L630.8 399.1 L632.3 399.1 L633.7 399.1 L635.2 399.1 L636.7 399.0 L638.2 399.0 L639.6 399.0 L641.1 399.0 L642.6 399.0 L644.1 399.0 L645.5 399.0 L647.0 398.9 L648.5 398.9 L650.0 398.9 L651.5 398.9 L652.9 398.9 L654.4 398.9 L655.9 398.9 L657.4 398.8 L658.8 398.8 L660.3 398.8 L661.8 398.8 L663.3 398.8 L664.7 398.8 L666.2 398.8 L667.7 398.8 L669.2 398.7 L670.7 398.7 L672.1 398.7 L673.6 398.7 L675.1 398.7 L676.6 398.7 L678.0 398.7 L679.5 398.6 L681.0 398.6 L682.5 398.6 L683.9 398.6 L685.4 398.6 L686.9 398.6 L688.4 398.6 L689.9 398.5 L691.3 398.5 L692.8 398.5 L694.3 398.5 L695.8 398.5 L697.2 398.5 L698.7 398.5 L700.2 398.4 L701.7 398.4 L703.1 398.4 L704.6 398.4 L706.1 398.4 L707.6 398.4 L709.0 398.4 L710.5 398.3 L712.0 398.3 L713.5 398.3 L715.0 398.3 L716.4 398.3 L717.9 398.3 L719.4 398.3 L720.9 398.2 L722.3 398.2 L723.8 398.2 L725.3 398.2 L726.8 398.2 L728.2 398.2 L729.7 398.2 L731.2 398.1 L732.7 398.1 L734.1 398.1 L735.6 398.1 L737.1 398.1 L738.6 398.1 L740.1 398.1 L741.5 398.1 L743.0 398.0 L744.5 398.0 L746.0 398.0 L747.4 398.0 L748.9 398.0 L750.4 398.0 L751.9 398.0 L753.3 398.0 L754.8 397.9 L756.3 397.9 L757.8 397.9 L759.3 397.9 L760.7 397.9 L762.2 397.9 L763.7 397.9 L765.2 397.9 L766.6 397.8 L768.1 397.8 L769.6 397.8 L771.1 397.8 L772.5 397.8 L774.0 397.8 L775.5 397.7 L777.0 397.7 L778.4 397.7 L779.9 397.7 L781.4 397.6 L782.9 397.6 L784.4 397.6 L785.8 397.5 L787.3 397.5 L788.8 397.5 L790.3 397.5 L791.7 397.4 L793.2 397.4 L794.7 397.4 L796.2 397.3 L797.6 397.3 L799.1 397.3 L800.6 397.2 L802.1 397.2 L803.6 397.2 L805.0 397.2 L806.5 397.1 L808.0 397.1 L809.5 397.1 L810.9 397.0 L812.4 397.0 L813.9 397.0 L815.4 397.0 L816.8 396.9 L818.3 396.9 L819.8 396.9 L821.3 396.9 L822.8 396.8 L824.2 396.8 L825.7 396.8 L827.2 396.8 L828.7 396.7 L830.1 396.7 L831.6 396.7 L833.1 396.6 L834.6 396.6 L836.0 396.6 L837.5 396.6 L839.0 396.5 L840.5 396.5 L841.9 396.5 L843.4 396.5 L844.9 396.4 L846.4 396.4 L847.9 396.4 L849.3 396.3 L850.8 396.3 L852.3 396.3 L853.8 396.2 L855.2 396.2 L856.7 396.2 L858.2 396.1 L859.7 396.1 L861.1 396.1 L862.6 396.0 L864.1 396.0 L865.6 396.0 L867.0 395.9 L868.5 395.9 L870.0 395.9 L871.5 395.9 L873.0 395.8 L874.4 395.8 L875.9 395.8 L877.4 395.8 L878.9 395.8 L880.3 395.8 L881.8 395.7 L883.3 395.7 L884.8 395.7 L886.2 395.8 L887.7 395.8 L889.2 395.8 L890.7 395.8 L892.2 395.8 L893.6 395.8 L895.1 395.8 L896.6 395.9 L898.1 395.9 L899.5 395.9 L901.0 395.9 L902.5 395.9 L904.0 396.0 L905.4 396.0 L906.9 396.0 L908.4 396.0 L909.9 396.0 L911.3 396.0 L912.8 396.1 L914.3 396.1 L915.8 396.1 L917.3 396.1 L918.7 396.1 L920.2 396.1 L921.7 396.1 L923.2 396.1 L924.6 396.2 L926.1 396.2 L927.6 396.2 L929.1 396.2 L930.5 396.2 L932.0 396.2 L933.5 396.2 L935.0 396.3 L936.5 396.3 L937.9 396.3 L939.4 396.3 L940.9 396.4 L942.4 396.4 L943.8 396.4 L945.3 396.4 L946.8 396.5 L948.3 396.5 L949.7 396.5 L951.2 396.6 L952.7 396.6 L954.2 396.6 L955.6 396.7 L957.1 396.7 L958.6 396.7 L960.1 396.8" fill="none" stroke="#ff0000" stroke-width="1.1" stroke-linejoin="round" />
<circle cx="134.9" cy="392.5" r="1.5" fill="#ff0000"/><circle cx="161.5" cy="392.5" r="1.5" fill="#ff0000"/><circle cx="188.1" cy="392.8" r="1.5" fill="#ff0000"/><circle cx="214.7" cy="393.5" r="1.5" fill="#ff0000"/><circle cx="241.2" cy="394.0" r="1.5" fill="#ff0000"/><circle cx="267.8" cy="393.8" r="1.5" fill="#ff0000"/><circle cx="294.4" cy="393.8" r="1.5" fill="#ff0000"/><circle cx="347.6" cy="394.2" r="1.5" fill="#ff0000"/><circle cx="374.1" cy="395.2" r="1.5" fill="#ff0000"/><circle cx="400.7" cy="396.2" r="1.5" fill="#ff0000"/><circle cx="428.5" cy="397.0" r="1.5" fill="#ff0000"/><circle cx="455.1" cy="397.8" r="1.5" fill="#ff0000"/><circle cx="481.6" cy="398.5" r="1.5" fill="#ff0000"/><circle cx="508.2" cy="398.5" r="1.5" fill="#ff0000"/><circle cx="534.8" cy="398.8" r="1.5" fill="#ff0000"/><circle cx="561.4" cy="399.0" r="1.5" fill="#ff0000"/><circle cx="588.0" cy="399.2" r="1.5" fill="#ff0000"/><circle cx="614.5" cy="399.2" r="1.5" fill="#ff0000"/><circle cx="641.1" cy="399.0" r="1.5" fill="#ff0000"/><circle cx="667.7" cy="398.8" r="1.5" fill="#ff0000"/><circle cx="694.3" cy="398.5" r="1.5" fill="#ff0000"/><circle cx="720.9" cy="398.2" r="1.5" fill="#ff0000"/><circle cx="747.4" cy="398.0" r="1.5" fill="#ff0000"/><circle cx="774.0" cy="397.8" r="1.5" fill="#ff0000"/><circle cx="800.6" cy="397.2" r="1.5" fill="#ff0000"/><circle cx="827.2" cy="396.8" r="1.5" fill="#ff0000"/><circle cx="853.8" cy="396.2" r="1.5" fill="#ff0000"/><circle cx="880.3" cy="395.8" r="1.5" fill="#ff0000"/><circle cx="906.9" cy="396.0" r="1.5" fill="#ff0000"/><circle cx="933.5" cy="396.2" r="1.5" fill="#ff0000"/><circle cx="960.1" cy="396.8" r="1.5" fill="#ff0000"/>
<path d="M134.9 386.2 L136.4 386.0 L137.9 385.8 L139.4 385.6 L140.8 385.4 L142.3 385.2 L143.8 385.0 L145.3 384.8 L146.7 384.6 L148.2 384.4 L149.7 384.2 L151.2 384.1 L152.6 383.9 L154.1 383.8 L155.6 383.7 L157.1 383.6 L158.5 383.6 L160.0 383.5 L161.5 383.5 L163.0 383.5 L164.5 383.5 L165.9 383.6 L167.4 383.6 L168.9 383.7 L170.4 383.8 L171.8 383.9 L173.3 384.0 L174.8 384.1 L176.3 384.2 L177.7 384.4 L179.2 384.5 L180.7 384.6 L182.2 384.8 L183.6 384.9 L185.1 385.0 L186.6 385.1 L188.1 385.2 L189.6 385.3 L191.0 385.4 L192.5 385.5 L194.0 385.6 L195.5 385.7 L196.9 385.7 L198.4 385.8 L199.9 385.8 L201.4 385.9 L202.8 385.9 L204.3 386.0 L205.8 386.0 L207.3 386.1 L208.8 386.2 L210.2 386.2 L211.7 386.3 L213.2 386.4 L214.7 386.5 L216.1 386.6 L217.6 386.7 L219.1 386.8 L220.6 387.0 L222.0 387.1 L223.5 387.2 L225.0 387.3 L226.5 387.4 L227.9 387.6 L229.4 387.7 L230.9 387.7 L232.4 387.8 L233.9 387.9 L235.3 387.9 L236.8 387.9 L238.3 387.9 L239.8 387.8 L241.2 387.8 L242.7 387.6 L244.2 387.5 L245.7 387.4 L247.1 387.2 L248.6 387.0 L250.1 386.8 L251.6 386.5 L253.1 386.3 L254.5 386.1 L256.0 385.8 L257.5 385.6 L259.0 385.3 L260.4 385.1 L261.9 384.9 L263.4 384.7 L264.9 384.5 L266.3 384.4 L267.8 384.2 L269.3 384.1 L270.8 384.1 L272.2 384.0 L273.7 384.0 L275.2 384.0 L276.7 384.0 L278.2 384.0 L279.6 384.1 L281.1 384.2 L282.6 384.2 L284.1 384.3 L285.5 384.4 L287.0 384.5 L288.5 384.6 L290.0 384.7 L291.4 384.8 L292.9 384.9 L294.4 385.0 L295.9 385.1 L297.4 385.2 L298.8 385.3 L300.3 385.3 L301.8 385.4 L303.3 385.5 L304.7 385.5 L306.2 385.6 L307.7 385.6 L309.2 385.7 L310.6 385.7 L312.1 385.8 L313.6 385.8 L315.1 385.9 L316.5 385.9 L318.0 385.9 L319.5 386.0 L321.0 386.0 L322.5 386.1 L323.9 386.1 L325.4 386.1 L326.9 386.2 L328.4 386.2 L329.8 386.3 L331.3 386.3 L332.8 386.3 L334.3 386.4 L335.7 386.4 L337.2 386.5 L338.7 386.6 L340.2 386.6 L341.7 386.7 L343.1 386.8 L344.6 386.8 L346.1 386.9 L347.6 387.0 L349.0 387.1 L350.5 387.2 L352.0 387.3 L353.5 387.4 L354.9 387.5 L356.4 387.6 L357.9 387.7 L359.4 387.8 L360.8 387.9 L362.3 388.0 L363.8 388.1 L365.3 388.2 L366.8 388.3 L368.2 388.3 L369.7 388.4 L371.2 388.4 L372.7 388.5 L374.1 388.5 L375.6 388.5 L377.1 388.5 L378.6 388.5 L380.0 388.5 L381.5 388.5 L383.0 388.4 L384.5 388.4 L386.0 388.4 L387.4 388.3 L388.9 388.3 L390.4 388.2 L391.9 388.2 L393.3 388.1 L394.8 388.1 L396.3 388.1 L397.8 388.0 L399.2 388.0 L400.7 388.0 L402.2 388.0 L403.6 388.0 L405.1 388.0 L406.6 388.0 L408.0 388.1 L409.5 388.1 L410.9 388.2 L412.4 388.2 L413.9 388.3 L415.3 388.3 L416.8 388.4 L418.3 388.5 L419.7 388.5 L421.2 388.6 L422.6 388.7 L424.1 388.8 L425.6 388.8 L427.0 388.9 L428.5 389.0 L430.0 389.1 L431.4 389.2 L432.9 389.2 L434.4 389.3 L435.9 389.4 L437.3 389.5 L438.8 389.5 L440.3 389.6 L441.8 389.7 L443.2 389.8 L444.7 389.8 L446.2 389.9 L447.7 390.0 L449.2 390.1 L450.6 390.2 L452.1 390.3 L453.6 390.4 L455.1 390.5 L456.5 390.6 L458.0 390.7 L459.5 390.8 L461.0 391.0 L462.4 391.1 L463.9 391.2 L465.4 391.3 L466.9 391.5 L468.4 391.6 L469.8 391.7 L471.3 391.9 L472.8 392.0 L474.3 392.1 L475.7 392.3 L477.2 392.4 L478.7 392.5 L480.2 392.6 L481.6 392.8 L483.1 392.9 L484.6 393.0 L486.1 393.1 L487.5 393.2 L489.0 393.3 L490.5 393.4 L492.0 393.5 L493.5 393.6 L494.9 393.6 L496.4 393.7 L497.9 393.8 L499.4 393.8 L500.8 393.9 L502.3 393.9 L503.8 394.0 L505.3 394.0 L506.7 394.0 L508.2 394.0 L509.7 394.0 L511.2 394.0 L512.6 394.0 L514.1 393.9 L515.6 393.9 L517.1 393.9 L518.6 393.8 L520.0 393.8 L521.5 393.8 L523.0 393.7 L524.5 393.7 L525.9 393.6 L527.4 393.6 L528.9 393.6 L530.4 393.5 L531.8 393.5 L533.3 393.5 L534.8 393.5 L536.3 393.5 L537.8 393.5 L539.2 393.5 L540.7 393.6 L542.2 393.6 L543.7 393.6 L545.1 393.7 L546.6 393.7 L548.1 393.8 L549.6 393.8 L551.0 393.8 L552.5 393.9 L554.0 393.9 L555.5 394.0 L556.9 394.0 L558.4 394.0 L559.9 394.0 L561.4 394.0 L562.9 394.0 L564.3 394.0 L565.8 393.9 L567.3 393.9 L568.8 393.9 L570.2 393.8 L571.7 393.8 L573.2 393.7 L574.7 393.7 L576.1 393.6 L577.6 393.6 L579.1 393.6 L580.6 393.5 L582.1 393.5 L583.5 393.5 L585.0 393.5 L586.5 393.5 L588.0 393.5 L589.4 393.5 L590.9 393.6 L592.4 393.6 L593.9 393.7 L595.3 393.7 L596.8 393.8 L598.3 393.9 L599.8 394.0 L601.2 394.1 L602.7 394.2 L604.2 394.3 L605.7 394.4 L607.2 394.5 L608.6 394.6 L610.1 394.7 L611.6 394.8 L613.1 394.9 L614.5 395.0 L616.0 395.1 L617.5 395.2 L619.0 395.3 L620.4 395.3 L621.9 395.4 L623.4 395.5 L624.9 395.5 L626.4 395.6 L627.8 395.7 L629.3 395.8 L630.8 395.8 L632.3 395.9 L633.7 396.0 L635.2 396.1 L636.7 396.2 L638.2 396.3 L639.6 396.4 L641.1 396.5 L642.6 396.6 L644.1 396.7 L645.5 396.9 L647.0 397.0 L648.5 397.1 L650.0 397.3 L651.5 397.4 L652.9 397.5 L654.4 397.6 L655.9 397.7 L657.4 397.8 L658.8 397.9 L660.3 397.9 L661.8 397.9 L663.3 397.9 L664.7 397.9 L666.2 397.8 L667.7 397.8 L669.2 397.6 L670.7 397.5 L672.1 397.3 L673.6 397.1 L675.1 396.9 L676.6 396.7 L678.0 396.5 L679.5 396.2 L681.0 396.0 L682.5 395.8 L683.9 395.5 L685.4 395.3 L686.9 395.1 L688.4 394.9 L689.9 394.8 L691.3 394.7 L692.8 394.6 L694.3 394.5 L695.8 394.5 L697.2 394.5 L698.7 394.5 L700.2 394.6 L701.7 394.7 L703.1 394.8 L704.6 394.9 L706.1 395.1 L707.6 395.2 L709.0 395.4 L710.5 395.5 L712.0 395.7 L713.5 395.8 L715.0 395.9 L716.4 396.1 L717.9 396.1 L719.4 396.2 L720.9 396.2 L722.3 396.3 L723.8 396.2 L725.3 396.2 L726.8 396.1 L728.2 396.0 L729.7 395.9 L731.2 395.8 L732.7 395.7 L734.1 395.6 L735.6 395.4 L737.1 395.3 L738.6 395.1 L740.1 395.0 L741.5 394.9 L743.0 394.8 L744.5 394.7 L746.0 394.6 L747.4 394.5 L748.9 394.5 L750.4 394.4 L751.9 394.4 L753.3 394.4 L754.8 394.5 L756.3 394.5 L757.8 394.6 L759.3 394.6 L760.7 394.7 L762.2 394.8 L763.7 394.9 L765.2 395.0 L766.6 395.1 L768.1 395.3 L769.6 395.4 L771.1 395.5 L772.5 395.6 L774.0 395.8 L775.5 395.9 L777.0 396.0 L778.4 396.1 L779.9 396.2 L781.4 396.3 L782.9 396.4 L784.4 396.5 L785.8 396.6 L787.3 396.7 L788.8 396.8 L790.3 396.9 L791.7 397.0 L793.2 397.1 L794.7 397.2 L796.2 397.3 L797.6 397.3 L799.1 397.4 L800.6 397.5 L802.1 397.6 L803.6 397.7 L805.0 397.7 L806.5 397.8 L808.0 397.9 L809.5 397.9 L810.9 398.0 L812.4 398.0 L813.9 398.1 L815.4 398.2 L816.8 398.2 L818.3 398.3 L819.8 398.3 L821.3 398.4 L822.8 398.4 L824.2 398.4 L825.7 398.5 L827.2 398.5 L828.7 398.5 L830.1 398.6 L831.6 398.6 L833.1 398.6 L834.6 398.6 L836.0 398.7 L837.5 398.7 L839.0 398.7 L840.5 398.7 L841.9 398.8 L843.4 398.8 L844.9 398.8 L846.4 398.9 L847.9 398.9 L849.3 399.0 L850.8 399.1 L852.3 399.2 L853.8 399.2 L855.2 399.3 L856.7 399.5 L858.2 399.6 L859.7 399.7 L861.1 399.8 L862.6 399.9 L864.1 400.0 L865.6 400.1 L867.0 400.2 L868.5 400.2 L870.0 400.3 L871.5 400.3 L873.0 400.3 L874.4 400.2 L875.9 400.2 L877.4 400.1 L878.9 399.9 L880.3 399.8 L881.8 399.5 L883.3 399.3 L884.8 399.0 L886.2 398.7 L887.7 398.3 L889.2 398.0 L890.7 397.6 L892.2 397.2 L893.6 396.8 L895.1 396.5 L896.6 396.1 L898.1 395.7 L899.5 395.4 L901.0 395.0 L902.5 394.7 L904.0 394.4 L905.4 394.2 L906.9 394.0 L908.4 393.8 L909.9 393.7 L911.3 393.6 L912.8 393.6 L914.3 393.6 L915.8 393.6 L917.3 393.6 L918.7 393.7 L920.2 393.8 L921.7 393.9 L923.2 394.0 L924.6 394.1 L926.1 394.3 L927.6 394.4 L929.1 394.6 L930.5 394.7 L932.0 394.9 L933.5 395.0 L935.0 395.1 L936.5 395.3 L937.9 395.4 L939.4 395.5 L940.9 395.6 L942.4 395.7 L943.8 395.8 L945.3 395.8 L946.8 395.9 L948.3 396.0 L949.7 396.1 L951.2 396.1 L952.7 396.2 L954.2 396.3 L955.6 396.3 L957.1 396.4 L958.6 396.4 L960.1 396.5" fill="none" stroke="#0000ff" stroke-width="1.1" stroke-linejoin="round" />
<circle cx="134.9" cy="386.2" r="1.5" fill="#0000ff"/><circle cx="161.5" cy="383.5" r="1.5" fill="#0000ff"/><circle cx="188.1" cy="385.2" r="1.5" fill="#0000ff"/><circle cx="214.7" cy="386.5" r="1.5" fill="#0000ff"/><circle cx="241.2" cy="387.8" r="1.5" fill="#0000ff"/><circle cx="267.8" cy="384.2" r="1.5" fill="#0000ff"/><circle cx="294.4" cy="385.0" r="1.5" fill="#0000ff"/><circle cx="347.6" cy="387.0" r="1.5" fill="#0000ff"/><circle cx="374.1" cy="388.5" r="1.5" fill="#0000ff"/><circle cx="400.7" cy="388.0" r="1.5" fill="#0000ff"/><circle cx="428.5" cy="389.0" r="1.5" fill="#0000ff"/><circle cx="455.1" cy="390.5" r="1.5" fill="#0000ff"/><circle cx="481.6" cy="392.8" r="1.5" fill="#0000ff"/><circle cx="508.2" cy="394.0" r="1.5" fill="#0000ff"/><circle cx="534.8" cy="393.5" r="1.5" fill="#0000ff"/><circle cx="561.4" cy="394.0" r="1.5" fill="#0000ff"/><circle cx="588.0" cy="393.5" r="1.5" fill="#0000ff"/><circle cx="614.5" cy="395.0" r="1.5" fill="#0000ff"/><circle cx="641.1" cy="396.5" r="1.5" fill="#0000ff"/><circle cx="667.7" cy="397.8" r="1.5" fill="#0000ff"/><circle cx="694.3" cy="394.5" r="1.5" fill="#0000ff"/><circle cx="720.9" cy="396.2" r="1.5" fill="#0000ff"/><circle cx="747.4" cy="394.5" r="1.5" fill="#0000ff"/><circle cx="774.0" cy="395.8" r="1.5" fill="#0000ff"/><circle cx="800.6" cy="397.5" r="1.5" fill="#0000ff"/><circle cx="827.2" cy="398.5" r="1.5" fill="#0000ff"/><circle cx="853.8" cy="399.2" r="1.5" fill="#0000ff"/><circle cx="880.3" cy="399.8" r="1.5" fill="#0000ff"/><circle cx="906.9" cy="394.0" r="1.5" fill="#0000ff"/><circle cx="933.5" cy="395.0" r="1.5" fill="#0000ff"/><circle cx="960.1" cy="396.5" r="1.5" fill="#0000ff"/>
<path d="M134.9 393.0 L136.4 393.1 L137.9 393.2 L139.4 393.3 L140.8 393.5 L142.3 393.6 L143.8 393.7 L145.3 393.8 L146.7 393.9 L148.2 393.9 L149.7 394.0 L151.2 394.1 L152.6 394.1 L154.1 394.2 L155.6 394.2 L157.1 394.3 L158.5 394.3 L160.0 394.3 L161.5 394.2 L163.0 394.2 L164.5 394.2 L165.9 394.1 L167.4 394.0 L168.9 394.0 L170.4 393.9 L171.8 393.8 L173.3 393.7 L174.8 393.6 L176.3 393.5 L177.7 393.4 L179.2 393.3 L180.7 393.3 L182.2 393.2 L183.6 393.1 L185.1 393.1 L186.6 393.0 L188.1 393.0 L189.6 393.0 L191.0 393.0 L192.5 393.0 L194.0 393.0 L195.5 393.1 L196.9 393.1 L198.4 393.2 L199.9 393.2 L201.4 393.3 L202.8 393.3 L204.3 393.4 L205.8 393.5 L207.3 393.5 L208.8 393.6 L210.2 393.6 L211.7 393.7 L213.2 393.7 L214.7 393.8 L216.1 393.8 L217.6 393.8 L219.1 393.8 L220.6 393.8 L222.0 393.8 L223.5 393.7 L225.0 393.7 L226.5 393.7 L227.9 393.7 L229.4 393.7 L230.9 393.6 L232.4 393.6 L233.9 393.6 L235.3 393.6 L236.8 393.6 L238.3 393.7 L239.8 393.7 L241.2 393.8 L242.7 393.8 L244.2 393.9 L245.7 394.0 L247.1 394.1 L248.6 394.2 L250.1 394.3 L251.6 394.4 L253.1 394.5 L254.5 394.7 L256.0 394.8 L257.5 394.9 L259.0 395.1 L260.4 395.2 L261.9 395.3 L263.4 395.4 L264.9 395.5 L266.3 395.7 L267.8 395.8 L269.3 395.8 L270.8 395.9 L272.2 396.0 L273.7 396.0 L275.2 396.1 L276.7 396.1 L278.2 396.1 L279.6 396.2 L281.1 396.2 L282.6 396.2 L284.1 396.2 L285.5 396.2 L287.0 396.2 L288.5 396.1 L290.0 396.1 L291.4 396.1 L292.9 396.0 L294.4 396.0 L295.9 396.0 L297.4 395.9 L298.8 395.8 L300.3 395.8 L301.8 395.7 L303.3 395.6 L304.7 395.6 L306.2 395.5 L307.7 395.4 L309.2 395.3 L310.6 395.3 L312.1 395.2 L313.6 395.1 L315.1 395.0 L316.5 394.9 L318.0 394.8 L319.5 394.7 L321.0 394.6 L322.5 394.5 L323.9 394.4 L325.4 394.3 L326.9 394.1 L328.4 394.0 L329.8 393.9 L331.3 393.8 L332.8 393.7 L334.3 393.6 L335.7 393.5 L337.2 393.3 L338.7 393.2 L340.2 393.1 L341.7 393.0 L343.1 392.9 L344.6 392.7 L346.1 392.6 L347.6 392.5 L349.0 392.4 L350.5 392.3 L352.0 392.2 L353.5 392.0 L354.9 391.9 L356.4 391.8 L357.9 391.7 L359.4 391.6 L360.8 391.5 L362.3 391.4 L363.8 391.4 L365.3 391.3 L366.8 391.2 L368.2 391.2 L369.7 391.1 L371.2 391.1 L372.7 391.0 L374.1 391.0 L375.6 391.0 L377.1 391.0 L378.6 391.0 L380.0 391.0 L381.5 391.0 L383.0 391.1 L384.5 391.1 L386.0 391.1 L387.4 391.2 L388.9 391.2 L390.4 391.3 L391.9 391.3 L393.3 391.4 L394.8 391.5 L396.3 391.5 L397.8 391.6 L399.2 391.7 L400.7 391.8 L402.2 391.8 L403.6 391.9 L405.1 391.9 L406.6 392.0 L408.0 392.1 L409.5 392.1 L410.9 392.2 L412.4 392.2 L413.9 392.3 L415.3 392.3 L416.8 392.4 L418.3 392.4 L419.7 392.4 L421.2 392.5 L422.6 392.5 L424.1 392.5 L425.6 392.5 L427.0 392.5 L428.5 392.5 L430.0 392.5 L431.4 392.5 L432.9 392.4 L434.4 392.4 L435.9 392.4 L437.3 392.3 L438.8 392.3 L440.3 392.2 L441.8 392.2 L443.2 392.1 L444.7 392.0 L446.2 392.0 L447.7 391.9 L449.2 391.8 L450.6 391.7 L452.1 391.7 L453.6 391.6 L455.1 391.5 L456.5 391.4 L458.0 391.3 L459.5 391.2 L461.0 391.1 L462.4 391.1 L463.9 391.0 L465.4 390.9 L466.9 390.8 L468.4 390.7 L469.8 390.5 L471.3 390.4 L472.8 390.3 L474.3 390.2 L475.7 390.1 L477.2 389.9 L478.7 389.8 L480.2 389.7 L481.6 389.5 L483.1 389.3 L484.6 389.2 L486.1 389.0 L487.5 388.8 L489.0 388.7 L490.5 388.5 L492.0 388.3 L493.5 388.2 L494.9 388.0 L496.4 387.9 L497.9 387.7 L499.4 387.6 L500.8 387.4 L502.3 387.3 L503.8 387.2 L505.3 387.1 L506.7 387.1 L508.2 387.0 L509.7 387.0 L511.2 386.9 L512.6 386.9 L514.1 386.9 L515.6 386.9 L517.1 387.0 L518.6 387.0 L520.0 387.1 L521.5 387.1 L523.0 387.2 L524.5 387.3 L525.9 387.3 L527.4 387.4 L528.9 387.5 L530.4 387.5 L531.8 387.6 L533.3 387.7 L534.8 387.8 L536.3 387.8 L537.8 387.9 L539.2 387.9 L540.7 388.0 L542.2 388.0 L543.7 388.0 L545.1 388.1 L546.6 388.1 L548.1 388.2 L549.6 388.2 L551.0 388.2 L552.5 388.3 L554.0 388.3 L555.5 388.3 L556.9 388.4 L558.4 388.4 L559.9 388.5 L561.4 388.5 L562.9 388.6 L564.3 388.6 L565.8 388.7 L567.3 388.7 L568.8 388.8 L570.2 388.8 L571.7 388.9 L573.2 389.0 L574.7 389.0 L576.1 389.1 L577.6 389.1 L579.1 389.1 L580.6 389.2 L582.1 389.2 L583.5 389.2 L585.0 389.2 L586.5 389.3 L588.0 389.2 L589.4 389.2 L590.9 389.2 L592.4 389.2 L593.9 389.1 L595.3 389.1 L596.8 389.0 L598.3 388.9 L599.8 388.9 L601.2 388.8 L602.7 388.7 L604.2 388.6 L605.7 388.5 L607.2 388.4 L608.6 388.3 L610.1 388.1 L611.6 388.0 L613.1 387.9 L614.5 387.8 L616.0 387.6 L617.5 387.5 L619.0 387.3 L620.4 387.2 L621.9 387.1 L623.4 386.9 L624.9 386.8 L626.4 386.7 L627.8 386.5 L629.3 386.4 L630.8 386.3 L632.3 386.2 L633.7 386.1 L635.2 386.0 L636.7 385.9 L638.2 385.8 L639.6 385.8 L641.1 385.8 L642.6 385.7 L644.1 385.7 L645.5 385.7 L647.0 385.7 L648.5 385.7 L650.0 385.8 L651.5 385.8 L652.9 385.9 L654.4 386.0 L655.9 386.0 L657.4 386.1 L658.8 386.2 L660.3 386.3 L661.8 386.5 L663.3 386.6 L664.7 386.7 L666.2 386.9 L667.7 387.0 L669.2 387.2 L670.7 387.3 L672.1 387.5 L673.6 387.6 L675.1 387.8 L676.6 387.9 L678.0 388.1 L679.5 388.2 L681.0 388.3 L682.5 388.4 L683.9 388.5 L685.4 388.6 L686.9 388.6 L688.4 388.7 L689.9 388.7 L691.3 388.6 L692.8 388.6 L694.3 388.5 L695.8 388.4 L697.2 388.2 L698.7 388.1 L700.2 387.9 L701.7 387.7 L703.1 387.4 L704.6 387.2 L706.1 387.0 L707.6 386.7 L709.0 386.5 L710.5 386.2 L712.0 386.0 L713.5 385.8 L715.0 385.6 L716.4 385.4 L717.9 385.2 L719.4 385.1 L720.9 385.0 L722.3 384.9 L723.8 384.9 L725.3 384.9 L726.8 384.9 L728.2 385.0 L729.7 385.0 L731.2 385.1 L732.7 385.2 L734.1 385.3 L735.6 385.4 L737.1 385.5 L738.6 385.7 L740.1 385.8 L741.5 385.9 L743.0 386.0 L744.5 386.1 L746.0 386.2 L747.4 386.2 L748.9 386.3 L750.4 386.3 L751.9 386.4 L753.3 386.4 L754.8 386.3 L756.3 386.3 L757.8 386.3 L759.3 386.3 L760.7 386.2 L762.2 386.2 L763.7 386.1 L765.2 386.1 L766.6 386.0 L768.1 385.9 L769.6 385.9 L771.1 385.8 L772.5 385.8 L774.0 385.8 L775.5 385.7 L777.0 385.7 L778.4 385.7 L779.9 385.7 L781.4 385.7 L782.9 385.7 L784.4 385.7 L785.8 385.7 L787.3 385.7 L788.8 385.7 L790.3 385.7 L791.7 385.7 L793.2 385.7 L794.7 385.7 L796.2 385.7 L797.6 385.8 L799.1 385.8 L800.6 385.8 L802.1 385.7 L803.6 385.7 L805.0 385.7 L806.5 385.7 L808.0 385.7 L809.5 385.7 L810.9 385.6 L812.4 385.6 L813.9 385.6 L815.4 385.6 L816.8 385.5 L818.3 385.5 L819.8 385.5 L821.3 385.5 L822.8 385.5 L824.2 385.5 L825.7 385.5 L827.2 385.5 L828.7 385.5 L830.1 385.5 L831.6 385.6 L833.1 385.6 L834.6 385.6 L836.0 385.7 L837.5 385.7 L839.0 385.8 L840.5 385.8 L841.9 385.9 L843.4 385.9 L844.9 386.0 L846.4 386.0 L847.9 386.1 L849.3 386.1 L850.8 386.2 L852.3 386.2 L853.8 386.2 L855.2 386.3 L856.7 386.3 L858.2 386.3 L859.7 386.4 L861.1 386.4 L862.6 386.4 L864.1 386.4 L865.6 386.4 L867.0 386.5 L868.5 386.5 L870.0 386.5 L871.5 386.6 L873.0 386.6 L874.4 386.7 L875.9 386.7 L877.4 386.8 L878.9 386.9 L880.3 387.0 L881.8 387.1 L883.3 387.2 L884.8 387.4 L886.2 387.5 L887.7 387.7 L889.2 387.8 L890.7 388.0 L892.2 388.1 L893.6 388.3 L895.1 388.4 L896.6 388.6 L898.1 388.7 L899.5 388.9 L901.0 389.0 L902.5 389.2 L904.0 389.3 L905.4 389.4 L906.9 389.5 L908.4 389.6 L909.9 389.7 L911.3 389.7 L912.8 389.8 L914.3 389.8 L915.8 389.8 L917.3 389.9 L918.7 389.9 L920.2 389.9 L921.7 389.9 L923.2 389.9 L924.6 389.9 L926.1 389.9 L927.6 389.9 L929.1 389.9 L930.5 390.0 L932.0 390.0 L933.5 390.0 L935.0 390.0 L936.5 390.1 L937.9 390.1 L939.4 390.2 L940.9 390.2 L942.4 390.3 L943.8 390.3 L945.3 390.4 L946.8 390.5 L948.3 390.6 L949.7 390.6 L951.2 390.7 L952.7 390.8 L954.2 390.9 L955.6 391.0 L957.1 391.1 L958.6 391.2 L960.1 391.2" fill="none" stroke="#000" stroke-width="1.1" stroke-linejoin="round" />
<circle cx="134.9" cy="393.0" r="1.5" fill="#000"/><circle cx="161.5" cy="394.2" r="1.5" fill="#000"/><circle cx="188.1" cy="393.0" r="1.5" fill="#000"/><circle cx="214.7" cy="393.8" r="1.5" fill="#000"/><circle cx="241.2" cy="393.8" r="1.5" fill="#000"/><circle cx="267.8" cy="395.8" r="1.5" fill="#000"/><circle cx="294.4" cy="396.0" r="1.5" fill="#000"/><circle cx="347.6" cy="392.5" r="1.5" fill="#000"/><circle cx="374.1" cy="391.0" r="1.5" fill="#000"/><circle cx="400.7" cy="391.8" r="1.5" fill="#000"/><circle cx="428.5" cy="392.5" r="1.5" fill="#000"/><circle cx="455.1" cy="391.5" r="1.5" fill="#000"/><circle cx="481.6" cy="389.5" r="1.5" fill="#000"/><circle cx="508.2" cy="387.0" r="1.5" fill="#000"/><circle cx="534.8" cy="387.8" r="1.5" fill="#000"/><circle cx="561.4" cy="388.5" r="1.5" fill="#000"/><circle cx="588.0" cy="389.2" r="1.5" fill="#000"/><circle cx="614.5" cy="387.8" r="1.5" fill="#000"/><circle cx="641.1" cy="385.8" r="1.5" fill="#000"/><circle cx="667.7" cy="387.0" r="1.5" fill="#000"/><circle cx="694.3" cy="388.5" r="1.5" fill="#000"/><circle cx="720.9" cy="385.0" r="1.5" fill="#000"/><circle cx="747.4" cy="386.2" r="1.5" fill="#000"/><circle cx="774.0" cy="385.8" r="1.5" fill="#000"/><circle cx="800.6" cy="385.8" r="1.5" fill="#000"/><circle cx="827.2" cy="385.5" r="1.5" fill="#000"/><circle cx="853.8" cy="386.2" r="1.5" fill="#000"/><circle cx="880.3" cy="387.0" r="1.5" fill="#000"/><circle cx="906.9" cy="389.5" r="1.5" fill="#000"/><circle cx="933.5" cy="390.0" r="1.5" fill="#000"/><circle cx="960.1" cy="391.2" r="1.5" fill="#000"/>
<rect x="79.5" y="374.1" width="96.2" height="11.5" fill="#808080" fill-opacity="0.4"/><text x="82.4" y="382.2" font-size="9.6" textLength="93.0" lengthAdjust="spacingAndGlyphs">Starker Trendmarkt</text>
<rect x="79.5" y="390.2" width="57.2" height="11.5" fill="#808080" fill-opacity="0.4"/><text x="82.4" y="399.0" font-size="9.6" textLength="54.0" lengthAdjust="spacingAndGlyphs">Trendmarkt</text>
<rect x="521.0" y="362.6" width="24.8" height="11.5" fill="#808080" fill-opacity="0.4"/><text x="521.8" y="370.7" font-size="9.6" textLength="24.0" lengthAdjust="spacingAndGlyphs">Entry</text>
<rect x="577.6" y="377.5" width="18.2" height="11.5" fill="#808080" fill-opacity="0.4"/><text x="578.4" y="385.6" font-size="9.6" textLength="17.4" lengthAdjust="spacingAndGlyphs">Exit</text>
</g>
<g clip-path="url(#c_rsi)">
<path d="M533.5 422.5 V488.5" stroke="#7c7cff" stroke-width="1"/>
<path d="M586.5 422.5 V488.5" stroke="#7c7cff" stroke-width="1"/>
<path d="M79.5 441.6 H1016.5" stroke="#9a9aff" stroke-width="1"/>
<path d="M79.5 468.4 H1016.5" stroke="#9a9aff" stroke-width="1"/>
<path d="M134.9 450.2 L136.4 450.0 L137.9 449.8 L139.4 449.5 L140.8 449.3 L142.3 449.0 L143.8 448.8 L145.3 448.6 L146.7 448.4 L148.2 448.2 L149.7 448.1 L151.2 447.9 L152.6 447.8 L154.1 447.7 L155.6 447.6 L157.1 447.5 L158.5 447.5 L160.0 447.5 L161.5 447.5 L163.0 447.6 L164.5 447.6 L165.9 447.7 L167.4 447.9 L168.9 448.0 L170.4 448.2 L171.8 448.3 L173.3 448.5 L174.8 448.7 L176.3 448.8 L177.7 449.0 L179.2 449.1 L180.7 449.2 L182.2 449.3 L183.6 449.4 L185.1 449.5 L186.6 449.5 L188.1 449.5 L189.6 449.5 L191.0 449.4 L192.5 449.3 L194.0 449.1 L195.5 449.0 L196.9 448.8 L198.4 448.6 L199.9 448.4 L201.4 448.2 L202.8 448.0 L204.3 447.8 L205.8 447.6 L207.3 447.4 L208.8 447.3 L210.2 447.2 L211.7 447.1 L213.2 447.0 L214.7 447.0 L216.1 447.0 L217.6 447.1 L219.1 447.2 L220.6 447.3 L222.0 447.4 L223.5 447.6 L225.0 447.7 L226.5 447.9 L227.9 448.1 L229.4 448.3 L230.9 448.5 L232.4 448.6 L233.9 448.7 L235.3 448.9 L236.8 449.0 L238.3 449.0 L239.8 449.0 L241.2 449.0 L242.7 448.9 L244.2 448.8 L245.7 448.7 L247.1 448.5 L248.6 448.3 L250.1 448.0 L251.6 447.8 L253.1 447.5 L254.5 447.2 L256.0 446.9 L257.5 446.6 L259.0 446.3 L260.4 446.0 L261.9 445.7 L263.4 445.4 L264.9 445.2 L266.3 444.9 L267.8 444.8 L269.3 444.6 L270.8 444.4 L272.2 444.3 L273.7 444.3 L275.2 444.2 L276.7 444.2 L278.2 444.2 L279.6 444.2 L281.1 444.2 L282.6 444.3 L284.1 444.3 L285.5 444.4 L287.0 444.5 L288.5 444.6 L290.0 444.7 L291.4 444.8 L292.9 444.9 L294.4 445.0 L295.9 445.1 L297.4 445.2 L298.8 445.3 L300.3 445.5 L301.8 445.6 L303.3 445.7 L304.7 445.8 L306.2 445.9 L307.7 446.0 L309.2 446.1 L310.6 446.3 L312.1 446.4 L313.6 446.5 L315.1 446.6 L316.5 446.7 L318.0 446.9 L319.5 447.0 L321.0 447.1 L322.5 447.2 L323.9 447.3 L325.4 447.5 L326.9 447.6 L328.4 447.7 L329.8 447.9 L331.3 448.0 L332.8 448.1 L334.3 448.2 L335.7 448.4 L337.2 448.5 L338.7 448.6 L340.2 448.8 L341.7 448.9 L343.1 449.1 L344.6 449.2 L346.1 449.4 L347.6 449.5 L349.0 449.6 L350.5 449.8 L352.0 449.9 L353.5 450.1 L354.9 450.2 L356.4 450.4 L357.9 450.5 L359.4 450.6 L360.8 450.8 L362.3 450.9 L363.8 451.0 L365.3 451.1 L366.8 451.2 L368.2 451.3 L369.7 451.4 L371.2 451.4 L372.7 451.5 L374.1 451.5 L375.6 451.5 L377.1 451.5 L378.6 451.5 L380.0 451.5 L381.5 451.5 L383.0 451.4 L384.5 451.4 L386.0 451.3 L387.4 451.3 L388.9 451.2 L390.4 451.1 L391.9 451.1 L393.3 451.0 L394.8 450.9 L396.3 450.9 L397.8 450.8 L399.2 450.8 L400.7 450.8 L402.2 450.7 L403.6 450.7 L405.1 450.7 L406.6 450.7 L408.0 450.7 L409.5 450.7 L410.9 450.7 L412.4 450.7 L413.9 450.7 L415.3 450.7 L416.8 450.7 L418.3 450.7 L419.7 450.8 L421.2 450.8 L422.6 450.8 L424.1 450.8 L425.6 450.8 L427.0 450.8 L428.5 450.8 L430.0 450.7 L431.4 450.7 L432.9 450.7 L434.4 450.6 L435.9 450.6 L437.3 450.6 L438.8 450.6 L440.3 450.5 L441.8 450.5 L443.2 450.5 L444.7 450.6 L446.2 450.6 L447.7 450.6 L449.2 450.7 L450.6 450.8 L452.1 450.9 L453.6 451.1 L455.1 451.2 L456.5 451.5 L458.0 451.7 L459.5 451.9 L461.0 452.2 L462.4 452.5 L463.9 452.8 L465.4 453.1 L466.9 453.5 L468.4 453.8 L469.8 454.2 L471.3 454.5 L472.8 454.9 L474.3 455.2 L475.7 455.5 L477.2 455.9 L478.7 456.2 L480.2 456.5 L481.6 456.8 L483.1 457.0 L484.6 457.2 L486.1 457.5 L487.5 457.7 L489.0 457.8 L490.5 458.0 L492.0 458.1 L493.5 458.3 L494.9 458.4 L496.4 458.5 L497.9 458.6 L499.4 458.6 L500.8 458.7 L502.3 458.7 L503.8 458.7 L505.3 458.8 L506.7 458.8 L508.2 458.8 L509.7 458.7 L511.2 458.7 L512.6 458.7 L514.1 458.6 L515.6 458.6 L517.1 458.5 L518.6 458.5 L520.0 458.4 L521.5 458.4 L523.0 458.3 L524.5 458.3 L525.9 458.2 L527.4 458.2 L528.9 458.1 L530.4 458.1 L531.8 458.0 L533.3 458.0 L534.8 458.0 L536.3 458.0 L537.8 458.0 L539.2 458.0 L540.7 458.0 L542.2 458.1 L543.7 458.1 L545.1 458.1 L546.6 458.1 L548.1 458.2 L549.6 458.2 L551.0 458.2 L552.5 458.2 L554.0 458.2 L555.5 458.2 L556.9 458.2 L558.4 458.1 L559.9 458.1 L561.4 458.0 L562.9 457.9 L564.3 457.8 L565.8 457.7 L567.3 457.6 L568.8 457.4 L570.2 457.3 L571.7 457.2 L573.2 457.0 L574.7 456.9 L576.1 456.7 L577.6 456.6 L579.1 456.5 L580.6 456.3 L582.1 456.2 L583.5 456.2 L585.0 456.1 L586.5 456.0 L588.0 456.0 L589.4 456.0 L590.9 456.0 L592.4 456.1 L593.9 456.1 L595.3 456.2 L596.8 456.3 L598.3 456.4 L599.8 456.6 L601.2 456.7 L602.7 456.9 L604.2 457.1 L605.7 457.3 L607.2 457.5 L608.6 457.7 L610.1 458.0 L611.6 458.2 L613.1 458.5 L614.5 458.8 L616.0 459.0 L617.5 459.3 L619.0 459.6 L620.4 459.9 L621.9 460.2 L623.4 460.4 L624.9 460.7 L626.4 461.0 L627.8 461.3 L629.3 461.5 L630.8 461.8 L632.3 462.0 L633.7 462.2 L635.2 462.4 L636.7 462.6 L638.2 462.8 L639.6 462.9 L641.1 463.0 L642.6 463.1 L644.1 463.1 L645.5 463.2 L647.0 463.2 L648.5 463.2 L650.0 463.1 L651.5 463.1 L652.9 463.0 L654.4 462.9 L655.9 462.8 L657.4 462.7 L658.8 462.5 L660.3 462.4 L661.8 462.2 L663.3 462.1 L664.7 461.9 L666.2 461.7 L667.7 461.5 L669.2 461.3 L670.7 461.1 L672.1 460.9 L673.6 460.7 L675.1 460.5 L676.6 460.3 L678.0 460.1 L679.5 459.9 L681.0 459.8 L682.5 459.6 L683.9 459.5 L685.4 459.4 L686.9 459.3 L688.4 459.2 L689.9 459.2 L691.3 459.2 L692.8 459.2 L694.3 459.2 L695.8 459.3 L697.2 459.5 L698.7 459.6 L700.2 459.8 L701.7 460.0 L703.1 460.2 L704.6 460.4 L706.1 460.6 L707.6 460.8 L709.0 461.0 L710.5 461.2 L712.0 461.4 L713.5 461.6 L715.0 461.8 L716.4 462.0 L717.9 462.1 L719.4 462.2 L720.9 462.2 L722.3 462.3 L723.8 462.3 L725.3 462.2 L726.8 462.2 L728.2 462.1 L729.7 462.0 L731.2 461.8 L732.7 461.7 L734.1 461.5 L735.6 461.4 L737.1 461.2 L738.6 461.1 L740.1 460.9 L741.5 460.7 L743.0 460.6 L744.5 460.5 L746.0 460.3 L747.4 460.2 L748.9 460.2 L750.4 460.1 L751.9 460.1 L753.3 460.1 L754.8 460.1 L756.3 460.1 L757.8 460.1 L759.3 460.2 L760.7 460.2 L762.2 460.3 L763.7 460.4 L765.2 460.5 L766.6 460.5 L768.1 460.6 L769.6 460.7 L771.1 460.8 L772.5 460.9 L774.0 461.0 L775.5 461.1 L777.0 461.2 L778.4 461.2 L779.9 461.3 L781.4 461.4 L782.9 461.5 L784.4 461.5 L785.8 461.6 L787.3 461.7 L788.8 461.7 L790.3 461.8 L791.7 461.9 L793.2 461.9 L794.7 462.0 L796.2 462.0 L797.6 462.1 L799.1 462.2 L800.6 462.2 L802.1 462.3 L803.6 462.4 L805.0 462.5 L806.5 462.5 L808.0 462.6 L809.5 462.7 L810.9 462.8 L812.4 462.9 L813.9 463.0 L815.4 463.1 L816.8 463.2 L818.3 463.3 L819.8 463.4 L821.3 463.5 L822.8 463.6 L824.2 463.7 L825.7 463.9 L827.2 464.0 L828.7 464.1 L830.1 464.3 L831.6 464.4 L833.1 464.6 L834.6 464.7 L836.0 464.9 L837.5 465.0 L839.0 465.1 L840.5 465.3 L841.9 465.4 L843.4 465.5 L844.9 465.6 L846.4 465.7 L847.9 465.8 L849.3 465.9 L850.8 465.9 L852.3 466.0 L853.8 466.0 L855.2 466.0 L856.7 466.0 L858.2 465.9 L859.7 465.9 L861.1 465.8 L862.6 465.7 L864.1 465.6 L865.6 465.5 L867.0 465.4 L868.5 465.2 L870.0 465.1 L871.5 464.9 L873.0 464.7 L874.4 464.5 L875.9 464.2 L877.4 464.0 L878.9 463.8 L880.3 463.5 L881.8 463.2 L883.3 463.0 L884.8 462.7 L886.2 462.4 L887.7 462.1 L889.2 461.8 L890.7 461.5 L892.2 461.2 L893.6 460.9 L895.1 460.6 L896.6 460.3 L898.1 460.1 L899.5 459.8 L901.0 459.6 L902.5 459.3 L904.0 459.1 L905.4 458.9 L906.9 458.8 L908.4 458.6 L909.9 458.5 L911.3 458.4 L912.8 458.3 L914.3 458.2 L915.8 458.2 L917.3 458.1 L918.7 458.1 L920.2 458.1 L921.7 458.1 L923.2 458.2 L924.6 458.2 L926.1 458.3 L927.6 458.4 L929.1 458.4 L930.5 458.5 L932.0 458.6 L933.5 458.8 L935.0 458.9 L936.5 459.0 L937.9 459.1 L939.4 459.3 L940.9 459.4 L942.4 459.6 L943.8 459.7 L945.3 459.9 L946.8 460.1 L948.3 460.3 L949.7 460.4 L951.2 460.6 L952.7 460.8 L954.2 461.0 L955.6 461.2 L957.1 461.4 L958.6 461.6 L960.1 461.8" fill="none" stroke="#000" stroke-width="1.1" stroke-linejoin="round" />
<circle cx="134.9" cy="450.2" r="1.5" fill="#000"/><circle cx="161.5" cy="447.5" r="1.5" fill="#000"/><circle cx="188.1" cy="449.5" r="1.5" fill="#000"/><circle cx="214.7" cy="447.0" r="1.5" fill="#000"/><circle cx="241.2" cy="449.0" r="1.5" fill="#000"/><circle cx="267.8" cy="444.8" r="1.5" fill="#000"/><circle cx="294.4" cy="445.0" r="1.5" fill="#000"/><circle cx="347.6" cy="449.5" r="1.5" fill="#000"/><circle cx="374.1" cy="451.5" r="1.5" fill="#000"/><circle cx="400.7" cy="450.8" r="1.5" fill="#000"/><circle cx="428.5" cy="450.8" r="1.5" fill="#000"/><circle cx="455.1" cy="451.2" r="1.5" fill="#000"/><circle cx="481.6" cy="456.8" r="1.5" fill="#000"/><circle cx="508.2" cy="458.8" r="1.5" fill="#000"/><circle cx="534.8" cy="458.0" r="1.5" fill="#000"/><circle cx="561.4" cy="458.0" r="1.5" fill="#000"/><circle cx="588.0" cy="456.0" r="1.5" fill="#000"/><circle cx="614.5" cy="458.8" r="1.5" fill="#000"/><circle cx="641.1" cy="463.0" r="1.5" fill="#000"/><circle cx="667.7" cy="461.5" r="1.5" fill="#000"/><circle cx="694.3" cy="459.2" r="1.5" fill="#000"/><circle cx="720.9" cy="462.2" r="1.5" fill="#000"/><circle cx="747.4" cy="460.2" r="1.5" fill="#000"/><circle cx="774.0" cy="461.0" r="1.5" fill="#000"/><circle cx="800.6" cy="462.2" r="1.5" fill="#000"/><circle cx="827.2" cy="464.0" r="1.5" fill="#000"/><circle cx="853.8" cy="466.0" r="1.5" fill="#000"/><circle cx="880.3" cy="463.5" r="1.5" fill="#000"/><circle cx="906.9" cy="458.8" r="1.5" fill="#000"/><circle cx="933.5" cy="458.8" r="1.5" fill="#000"/><circle cx="960.1" cy="461.8" r="1.5" fill="#000"/>
<path d="M134.9 454.5 L136.4 453.9 L137.9 453.3 L139.4 452.6 L140.8 452.0 L142.3 451.5 L143.8 450.9 L145.3 450.4 L146.7 449.9 L148.2 449.4 L149.7 449.0 L151.2 448.6 L152.6 448.2 L154.1 448.0 L155.6 447.7 L157.1 447.6 L158.5 447.5 L160.0 447.5 L161.5 447.5 L163.0 447.6 L164.5 447.8 L165.9 448.1 L167.4 448.4 L168.9 448.7 L170.4 449.1 L171.8 449.5 L173.3 449.9 L174.8 450.3 L176.3 450.7 L177.7 451.1 L179.2 451.4 L180.7 451.7 L182.2 452.0 L183.6 452.1 L185.1 452.3 L186.6 452.3 L188.1 452.2 L189.6 452.1 L191.0 451.9 L192.5 451.6 L194.0 451.2 L195.5 450.7 L196.9 450.3 L198.4 449.8 L199.9 449.2 L201.4 448.7 L202.8 448.2 L204.3 447.7 L205.8 447.2 L207.3 446.7 L208.8 446.3 L210.2 446.0 L211.7 445.7 L213.2 445.6 L214.7 445.5 L216.1 445.5 L217.6 445.7 L219.1 445.9 L220.6 446.1 L222.0 446.5 L223.5 446.9 L225.0 447.3 L226.5 447.7 L227.9 448.2 L229.4 448.6 L230.9 449.0 L232.4 449.4 L233.9 449.8 L235.3 450.1 L236.8 450.3 L238.3 450.5 L239.8 450.5 L241.2 450.5 L242.7 450.3 L244.2 450.1 L245.7 449.7 L247.1 449.3 L248.6 448.8 L250.1 448.2 L251.6 447.6 L253.1 446.9 L254.5 446.2 L256.0 445.5 L257.5 444.7 L259.0 444.0 L260.4 443.3 L261.9 442.6 L263.4 441.9 L264.9 441.3 L266.3 440.8 L267.8 440.2 L269.3 439.8 L270.8 439.5 L272.2 439.2 L273.7 439.0 L275.2 438.8 L276.7 438.7 L278.2 438.6 L279.6 438.6 L281.1 438.7 L282.6 438.8 L284.1 438.9 L285.5 439.0 L287.0 439.2 L288.5 439.4 L290.0 439.7 L291.4 439.9 L292.9 440.2 L294.4 440.5 L295.9 440.8 L297.4 441.1 L298.8 441.4 L300.3 441.7 L301.8 442.0 L303.3 442.4 L304.7 442.7 L306.2 443.0 L307.7 443.4 L309.2 443.7 L310.6 444.1 L312.1 444.5 L313.6 444.8 L315.1 445.2 L316.5 445.6 L318.0 445.9 L319.5 446.3 L321.0 446.7 L322.5 447.1 L323.9 447.5 L325.4 447.9 L326.9 448.3 L328.4 448.6 L329.8 449.0 L331.3 449.4 L332.8 449.8 L334.3 450.2 L335.7 450.6 L337.2 451.0 L338.7 451.4 L340.2 451.8 L341.7 452.2 L343.1 452.6 L344.6 453.0 L346.1 453.4 L347.6 453.8 L349.0 454.1 L350.5 454.5 L352.0 454.9 L353.5 455.2 L354.9 455.6 L356.4 455.9 L357.9 456.3 L359.4 456.6 L360.8 456.8 L362.3 457.1 L363.8 457.4 L365.3 457.6 L366.8 457.8 L368.2 457.9 L369.7 458.1 L371.2 458.2 L372.7 458.2 L374.1 458.2 L375.6 458.2 L377.1 458.2 L378.6 458.1 L380.0 458.0 L381.5 457.9 L383.0 457.7 L384.5 457.5 L386.0 457.4 L387.4 457.2 L388.9 457.0 L390.4 456.7 L391.9 456.5 L393.3 456.3 L394.8 456.1 L396.3 456.0 L397.8 455.8 L399.2 455.6 L400.7 455.5 L402.2 455.4 L403.6 455.3 L405.1 455.2 L406.6 455.2 L408.0 455.2 L409.5 455.2 L410.9 455.2 L412.4 455.2 L413.9 455.2 L415.3 455.3 L416.8 455.3 L418.3 455.4 L419.7 455.4 L421.2 455.5 L422.6 455.5 L424.1 455.6 L425.6 455.7 L427.0 455.7 L428.5 455.8 L430.0 455.8 L431.4 455.8 L432.9 455.9 L434.4 455.9 L435.9 455.9 L437.3 456.0 L438.8 456.1 L440.3 456.1 L441.8 456.3 L443.2 456.4 L444.7 456.5 L446.2 456.7 L447.7 457.0 L449.2 457.2 L450.6 457.5 L452.1 457.9 L453.6 458.3 L455.1 458.8 L456.5 459.3 L458.0 459.8 L459.5 460.4 L461.0 461.1 L462.4 461.8 L463.9 462.5 L465.4 463.2 L466.9 464.0 L468.4 464.8 L469.8 465.5 L471.3 466.3 L472.8 467.1 L474.3 467.8 L475.7 468.6 L477.2 469.3 L478.7 470.0 L480.2 470.6 L481.6 471.2 L483.1 471.8 L484.6 472.4 L486.1 472.8 L487.5 473.3 L489.0 473.7 L490.5 474.0 L492.0 474.3 L493.5 474.6 L494.9 474.8 L496.4 475.0 L497.9 475.1 L499.4 475.2 L500.8 475.3 L502.3 475.3 L503.8 475.3 L505.3 475.2 L506.7 475.1 L508.2 475.0 L509.7 474.8 L511.2 474.6 L512.6 474.4 L514.1 474.1 L515.6 473.8 L517.1 473.5 L518.6 473.2 L520.0 472.9 L521.5 472.6 L523.0 472.3 L524.5 472.0 L525.9 471.7 L527.4 471.5 L528.9 471.3 L530.4 471.1 L531.8 470.9 L533.3 470.8 L534.8 470.8 L536.3 470.7 L537.8 470.8 L539.2 470.8 L540.7 470.9 L542.2 471.0 L543.7 471.2 L545.1 471.3 L546.6 471.4 L548.1 471.6 L549.6 471.7 L551.0 471.8 L552.5 471.8 L554.0 471.8 L555.5 471.8 L556.9 471.7 L558.4 471.5 L559.9 471.3 L561.4 471.0 L562.9 470.6 L564.3 470.1 L565.8 469.6 L567.3 469.0 L568.8 468.4 L570.2 467.7 L571.7 467.1 L573.2 466.4 L574.7 465.7 L576.1 465.0 L577.6 464.3 L579.1 463.6 L580.6 463.0 L582.1 462.5 L583.5 462.0 L585.0 461.6 L586.5 461.2 L588.0 461.0 L589.4 460.9 L590.9 460.8 L592.4 460.9 L593.9 461.0 L595.3 461.2 L596.8 461.5 L598.3 461.8 L599.8 462.2 L601.2 462.7 L602.7 463.2 L604.2 463.7 L605.7 464.3 L607.2 464.9 L608.6 465.5 L610.1 466.1 L611.6 466.7 L613.1 467.4 L614.5 468.0 L616.0 468.6 L617.5 469.2 L619.0 469.8 L620.4 470.4 L621.9 470.9 L623.4 471.5 L624.9 472.0 L626.4 472.5 L627.8 472.9 L629.3 473.3 L630.8 473.7 L632.3 474.1 L633.7 474.4 L635.2 474.7 L636.7 475.0 L638.2 475.2 L639.6 475.4 L641.1 475.5 L642.6 475.6 L644.1 475.6 L645.5 475.6 L647.0 475.6 L648.5 475.5 L650.0 475.4 L651.5 475.2 L652.9 475.0 L654.4 474.7 L655.9 474.5 L657.4 474.1 L658.8 473.8 L660.3 473.3 L661.8 472.9 L663.3 472.4 L664.7 471.9 L666.2 471.3 L667.7 470.8 L669.2 470.1 L670.7 469.5 L672.1 468.8 L673.6 468.1 L675.1 467.4 L676.6 466.8 L678.0 466.1 L679.5 465.5 L681.0 464.9 L682.5 464.3 L683.9 463.8 L685.4 463.3 L686.9 462.9 L688.4 462.6 L689.9 462.4 L691.3 462.2 L692.8 462.2 L694.3 462.2 L695.8 462.4 L697.2 462.7 L698.7 463.1 L700.2 463.5 L701.7 464.0 L703.1 464.6 L704.6 465.2 L706.1 465.8 L707.6 466.4 L709.0 467.0 L710.5 467.6 L712.0 468.2 L713.5 468.7 L715.0 469.2 L716.4 469.6 L717.9 469.9 L719.4 470.1 L720.9 470.2 L722.3 470.2 L723.8 470.1 L725.3 469.9 L726.8 469.6 L728.2 469.2 L729.7 468.7 L731.2 468.2 L732.7 467.7 L734.1 467.1 L735.6 466.5 L737.1 465.9 L738.6 465.2 L740.1 464.6 L741.5 464.1 L743.0 463.5 L744.5 463.0 L746.0 462.6 L747.4 462.2 L748.9 462.0 L750.4 461.8 L751.9 461.6 L753.3 461.6 L754.8 461.6 L756.3 461.6 L757.8 461.7 L759.3 461.9 L760.7 462.1 L762.2 462.3 L763.7 462.5 L765.2 462.8 L766.6 463.1 L768.1 463.4 L769.6 463.8 L771.1 464.1 L772.5 464.4 L774.0 464.8 L775.5 465.1 L777.0 465.4 L778.4 465.7 L779.9 465.9 L781.4 466.2 L782.9 466.5 L784.4 466.7 L785.8 467.0 L787.3 467.2 L788.8 467.4 L790.3 467.6 L791.7 467.8 L793.2 468.1 L794.7 468.3 L796.2 468.4 L797.6 468.6 L799.1 468.8 L800.6 469.0 L802.1 469.2 L803.6 469.3 L805.0 469.5 L806.5 469.7 L808.0 469.9 L809.5 470.0 L810.9 470.2 L812.4 470.4 L813.9 470.6 L815.4 470.8 L816.8 471.0 L818.3 471.2 L819.8 471.4 L821.3 471.7 L822.8 471.9 L824.2 472.2 L825.7 472.5 L827.2 472.8 L828.7 473.1 L830.1 473.4 L831.6 473.7 L833.1 474.1 L834.6 474.4 L836.0 474.8 L837.5 475.1 L839.0 475.4 L840.5 475.7 L841.9 476.0 L843.4 476.2 L844.9 476.4 L846.4 476.6 L847.9 476.7 L849.3 476.8 L850.8 476.9 L852.3 476.8 L853.8 476.8 L855.2 476.6 L856.7 476.4 L858.2 476.1 L859.7 475.8 L861.1 475.4 L862.6 475.0 L864.1 474.5 L865.6 474.0 L867.0 473.4 L868.5 472.8 L870.0 472.2 L871.5 471.5 L873.0 470.8 L874.4 470.0 L875.9 469.2 L877.4 468.4 L878.9 467.6 L880.3 466.8 L881.8 465.9 L883.3 465.0 L884.8 464.1 L886.2 463.2 L887.7 462.3 L889.2 461.4 L890.7 460.6 L892.2 459.7 L893.6 458.8 L895.1 458.0 L896.6 457.2 L898.1 456.4 L899.5 455.7 L901.0 455.0 L902.5 454.4 L904.0 453.8 L905.4 453.2 L906.9 452.8 L908.4 452.3 L909.9 452.0 L911.3 451.7 L912.8 451.4 L914.3 451.2 L915.8 451.1 L917.3 451.0 L918.7 450.9 L920.2 451.0 L921.7 451.0 L923.2 451.1 L924.6 451.2 L926.1 451.4 L927.6 451.6 L929.1 451.8 L930.5 452.1 L932.0 452.4 L933.5 452.8 L935.0 453.1 L936.5 453.5 L937.9 453.9 L939.4 454.3 L940.9 454.8 L942.4 455.2 L943.8 455.7 L945.3 456.2 L946.8 456.7 L948.3 457.3 L949.7 457.8 L951.2 458.3 L952.7 458.9 L954.2 459.5 L955.6 460.0 L957.1 460.6 L958.6 461.2 L960.1 461.8" fill="none" stroke="#ff0000" stroke-width="1.1" stroke-linejoin="round" />
<circle cx="134.9" cy="454.5" r="1.5" fill="#ff0000"/><circle cx="161.5" cy="447.5" r="1.5" fill="#ff0000"/><circle cx="188.1" cy="452.2" r="1.5" fill="#ff0000"/><circle cx="214.7" cy="445.5" r="1.5" fill="#ff0000"/><circle cx="241.2" cy="450.5" r="1.5" fill="#ff0000"/><circle cx="267.8" cy="440.2" r="1.5" fill="#ff0000"/><circle cx="294.4" cy="440.5" r="1.5" fill="#ff0000"/><circle cx="347.6" cy="453.8" r="1.5" fill="#ff0000"/><circle cx="374.1" cy="458.2" r="1.5" fill="#ff0000"/><circle cx="400.7" cy="455.5" r="1.5" fill="#ff0000"/><circle cx="428.5" cy="455.8" r="1.5" fill="#ff0000"/><circle cx="455.1" cy="458.8" r="1.5" fill="#ff0000"/><circle cx="481.6" cy="471.2" r="1.5" fill="#ff0000"/><circle cx="508.2" cy="475.0" r="1.5" fill="#ff0000"/><circle cx="534.8" cy="470.8" r="1.5" fill="#ff0000"/><circle cx="561.4" cy="471.0" r="1.5" fill="#ff0000"/><circle cx="588.0" cy="461.0" r="1.5" fill="#ff0000"/><circle cx="614.5" cy="468.0" r="1.5" fill="#ff0000"/><circle cx="641.1" cy="475.5" r="1.5" fill="#ff0000"/><circle cx="667.7" cy="470.8" r="1.5" fill="#ff0000"/><circle cx="694.3" cy="462.2" r="1.5" fill="#ff0000"/><circle cx="720.9" cy="470.2" r="1.5" fill="#ff0000"/><circle cx="747.4" cy="462.2" r="1.5" fill="#ff0000"/><circle cx="774.0" cy="464.8" r="1.5" fill="#ff0000"/><circle cx="800.6" cy="469.0" r="1.5" fill="#ff0000"/><circle cx="827.2" cy="472.8" r="1.5" fill="#ff0000"/><circle cx="853.8" cy="476.8" r="1.5" fill="#ff0000"/><circle cx="880.3" cy="466.8" r="1.5" fill="#ff0000"/><circle cx="906.9" cy="452.8" r="1.5" fill="#ff0000"/><circle cx="933.5" cy="452.8" r="1.5" fill="#ff0000"/><circle cx="960.1" cy="461.8" r="1.5" fill="#ff0000"/>
<rect x="79.5" y="437.3" width="48.2" height="11.5" fill="#808080" fill-opacity="0.4"/><text x="82.4" y="445.9" font-size="9.6" textLength="45.0" lengthAdjust="spacingAndGlyphs">überkauft</text>
<rect x="79.5" y="464.0" width="63.2" height="11.5" fill="#808080" fill-opacity="0.4"/><text x="82.4" y="472.1" font-size="9.6" textLength="60.0" lengthAdjust="spacingAndGlyphs">überverkauft</text>
<rect x="521.0" y="438.3" width="24.8" height="11.5" fill="#808080" fill-opacity="0.4"/><text x="521.8" y="446.4" font-size="9.6" textLength="24.0" lengthAdjust="spacingAndGlyphs">Entry</text>
<rect x="577.6" y="453.3" width="18.2" height="11.5" fill="#808080" fill-opacity="0.4"/><text x="578.4" y="461.4" font-size="9.6" textLength="17.4" lengthAdjust="spacingAndGlyphs">Exit</text>
</g>
<g clip-path="url(#c_macd)">
<path d="M533.5 499.5 V564.5" stroke="#7c7cff" stroke-width="1"/>
<path d="M134.9 513.5 L136.4 513.3 L137.9 513.1 L139.4 512.9 L140.8 512.7 L142.3 512.5 L143.8 512.3 L145.3 512.1 L146.7 512.0 L148.2 511.8 L149.7 511.7 L151.2 511.6 L152.6 511.5 L154.1 511.4 L155.6 511.4 L157.1 511.4 L158.5 511.4 L160.0 511.4 L161.5 511.5 L163.0 511.6 L164.5 511.7 L165.9 511.9 L167.4 512.1 L168.9 512.2 L170.4 512.4 L171.8 512.7 L173.3 512.9 L174.8 513.1 L176.3 513.3 L177.7 513.4 L179.2 513.6 L180.7 513.7 L182.2 513.9 L183.6 514.0 L185.1 514.0 L186.6 514.0 L188.1 514.0 L189.6 513.9 L191.0 513.8 L192.5 513.7 L194.0 513.5 L195.5 513.3 L196.9 513.0 L198.4 512.8 L199.9 512.5 L201.4 512.3 L202.8 512.0 L204.3 511.8 L205.8 511.5 L207.3 511.3 L208.8 511.1 L210.2 511.0 L211.7 510.9 L213.2 510.8 L214.7 510.8 L216.1 510.8 L217.6 510.8 L219.1 510.9 L220.6 511.1 L222.0 511.2 L223.5 511.4 L225.0 511.6 L226.5 511.8 L227.9 512.0 L229.4 512.2 L230.9 512.4 L232.4 512.6 L233.9 512.7 L235.3 512.8 L236.8 512.9 L238.3 512.9 L239.8 512.9 L241.2 512.8 L242.7 512.6 L244.2 512.4 L245.7 512.1 L247.1 511.7 L248.6 511.4 L250.1 510.9 L251.6 510.5 L253.1 510.0 L254.5 509.5 L256.0 509.0 L257.5 508.5 L259.0 508.0 L260.4 507.4 L261.9 506.9 L263.4 506.4 L264.9 505.9 L266.3 505.4 L267.8 505.0 L269.3 504.6 L270.8 504.2 L272.2 503.9 L273.7 503.6 L275.2 503.3 L276.7 503.1 L278.2 502.8 L279.6 502.6 L281.1 502.5 L282.6 502.3 L284.1 502.2 L285.5 502.1 L287.0 502.0 L288.5 501.9 L290.0 501.9 L291.4 501.8 L292.9 501.8 L294.4 501.8 L295.9 501.7 L297.4 501.7 L298.8 501.7 L300.3 501.7 L301.8 501.8 L303.3 501.8 L304.7 501.8 L306.2 501.9 L307.7 502.0 L309.2 502.0 L310.6 502.1 L312.1 502.2 L313.6 502.3 L315.1 502.5 L316.5 502.6 L318.0 502.7 L319.5 502.9 L321.0 503.0 L322.5 503.2 L323.9 503.4 L325.4 503.6 L326.9 503.8 L328.4 504.1 L329.8 504.3 L331.3 504.6 L332.8 504.8 L334.3 505.1 L335.7 505.4 L337.2 505.7 L338.7 506.0 L340.2 506.4 L341.7 506.7 L343.1 507.1 L344.6 507.5 L346.1 507.8 L347.6 508.2 L349.0 508.7 L350.5 509.1 L352.0 509.6 L353.5 510.0 L354.9 510.5 L356.4 510.9 L357.9 511.4 L359.4 511.9 L360.8 512.3 L362.3 512.8 L363.8 513.2 L365.3 513.7 L366.8 514.1 L368.2 514.5 L369.7 514.9 L371.2 515.3 L372.7 515.7 L374.1 516.0 L375.6 516.3 L377.1 516.6 L378.6 516.9 L380.0 517.1 L381.5 517.4 L383.0 517.6 L384.5 517.8 L386.0 518.0 L387.4 518.2 L388.9 518.3 L390.4 518.5 L391.9 518.6 L393.3 518.8 L394.8 518.9 L396.3 519.1 L397.8 519.2 L399.2 519.4 L400.7 519.5 L402.2 519.6 L403.6 519.8 L405.1 519.9 L406.6 520.1 L408.0 520.3 L409.5 520.4 L410.9 520.6 L412.4 520.7 L413.9 520.9 L415.3 521.0 L416.8 521.2 L418.3 521.3 L419.7 521.5 L421.2 521.6 L422.6 521.8 L424.1 521.9 L425.6 522.0 L427.0 522.1 L428.5 522.2 L430.0 522.4 L431.4 522.5 L432.9 522.6 L434.4 522.7 L435.9 522.8 L437.3 522.9 L438.8 523.0 L440.3 523.1 L441.8 523.3 L443.2 523.4 L444.7 523.6 L446.2 523.8 L447.7 524.0 L449.2 524.3 L450.6 524.5 L452.1 524.8 L453.6 525.1 L455.1 525.5 L456.5 525.9 L458.0 526.3 L459.5 526.8 L461.0 527.3 L462.4 527.8 L463.9 528.4 L465.4 528.9 L466.9 529.5 L468.4 530.1 L469.8 530.7 L471.3 531.4 L472.8 532.0 L474.3 532.7 L475.7 533.3 L477.2 534.0 L478.7 534.7 L480.2 535.3 L481.6 536.0 L483.1 536.7 L484.6 537.3 L486.1 538.0 L487.5 538.6 L489.0 539.2 L490.5 539.8 L492.0 540.4 L493.5 541.0 L494.9 541.6 L496.4 542.1 L497.9 542.7 L499.4 543.2 L500.8 543.7 L502.3 544.1 L503.8 544.6 L505.3 545.0 L506.7 545.4 L508.2 545.8 L509.7 546.1 L511.2 546.4 L512.6 546.7 L514.1 546.9 L515.6 547.2 L517.1 547.4 L518.6 547.6 L520.0 547.8 L521.5 548.0 L523.0 548.1 L524.5 548.3 L525.9 548.4 L527.4 548.6 L528.9 548.7 L530.4 548.8 L531.8 549.0 L533.3 549.1 L534.8 549.2 L536.3 549.4 L537.8 549.5 L539.2 549.7 L540.7 549.8 L542.2 550.0 L543.7 550.1 L545.1 550.2 L546.6 550.4 L548.1 550.5 L549.6 550.6 L551.0 550.7 L552.5 550.8 L554.0 550.8 L555.5 550.8 L556.9 550.9 L558.4 550.8 L559.9 550.8 L561.4 550.8 L562.9 550.7 L564.3 550.5 L565.8 550.4 L567.3 550.2 L568.8 550.1 L570.2 549.9 L571.7 549.7 L573.2 549.4 L574.7 549.2 L576.1 549.0 L577.6 548.8 L579.1 548.6 L580.6 548.3 L582.1 548.1 L583.5 548.0 L585.0 547.8 L586.5 547.6 L588.0 547.5 L589.4 547.4 L590.9 547.3 L592.4 547.3 L593.9 547.2 L595.3 547.2 L596.8 547.2 L598.3 547.3 L599.8 547.3 L601.2 547.4 L602.7 547.5 L604.2 547.7 L605.7 547.8 L607.2 548.0 L608.6 548.2 L610.1 548.4 L611.6 548.7 L613.1 549.0 L614.5 549.2 L616.0 549.6 L617.5 549.9 L619.0 550.3 L620.4 550.6 L621.9 551.0 L623.4 551.4 L624.9 551.8 L626.4 552.2 L627.8 552.6 L629.3 553.0 L630.8 553.4 L632.3 553.8 L633.7 554.2 L635.2 554.6 L636.7 555.0 L638.2 555.3 L639.6 555.7 L641.1 556.0 L642.6 556.3 L644.1 556.6 L645.5 556.8 L647.0 557.1 L648.5 557.3 L650.0 557.5 L651.5 557.7 L652.9 557.8 L654.4 557.9 L655.9 558.0 L657.4 558.1 L658.8 558.1 L660.3 558.1 L661.8 558.1 L663.3 558.1 L664.7 558.0 L666.2 557.9 L667.7 557.8 L669.2 557.6 L670.7 557.4 L672.1 557.2 L673.6 557.0 L675.1 556.7 L676.6 556.5 L678.0 556.2 L679.5 555.9 L681.0 555.7 L682.5 555.4 L683.9 555.2 L685.4 555.0 L686.9 554.8 L688.4 554.6 L689.9 554.5 L691.3 554.4 L692.8 554.3 L694.3 554.2 L695.8 554.3 L697.2 554.3 L698.7 554.4 L700.2 554.5 L701.7 554.7 L703.1 554.9 L704.6 555.1 L706.1 555.3 L707.6 555.5 L709.0 555.7 L710.5 555.9 L712.0 556.1 L713.5 556.3 L715.0 556.5 L716.4 556.7 L717.9 556.8 L719.4 556.9 L720.9 557.0 L722.3 557.0 L723.8 557.0 L725.3 557.0 L726.8 556.9 L728.2 556.9 L729.7 556.7 L731.2 556.6 L732.7 556.4 L734.1 556.3 L735.6 556.1 L737.1 555.9 L738.6 555.7 L740.1 555.5 L741.5 555.3 L743.0 555.1 L744.5 554.9 L746.0 554.7 L747.4 554.5 L748.9 554.3 L750.4 554.2 L751.9 554.0 L753.3 553.9 L754.8 553.8 L756.3 553.7 L757.8 553.6 L759.3 553.5 L760.7 553.4 L762.2 553.4 L763.7 553.3 L765.2 553.3 L766.6 553.3 L768.1 553.2 L769.6 553.2 L771.1 553.2 L772.5 553.2 L774.0 553.2 L775.5 553.3 L777.0 553.3 L778.4 553.4 L779.9 553.4 L781.4 553.5 L782.9 553.5 L784.4 553.6 L785.8 553.7 L787.3 553.7 L788.8 553.8 L790.3 553.9 L791.7 554.0 L793.2 554.1 L794.7 554.1 L796.2 554.2 L797.6 554.3 L799.1 554.4 L800.6 554.5 L802.1 554.6 L803.6 554.7 L805.0 554.8 L806.5 554.8 L808.0 554.9 L809.5 555.0 L810.9 555.1 L812.4 555.2 L813.9 555.3 L815.4 555.4 L816.8 555.6 L818.3 555.7 L819.8 555.8 L821.3 556.0 L822.8 556.2 L824.2 556.3 L825.7 556.5 L827.2 556.8 L828.7 557.0 L830.1 557.2 L831.6 557.5 L833.1 557.7 L834.6 558.0 L836.0 558.3 L837.5 558.5 L839.0 558.8 L840.5 559.1 L841.9 559.3 L843.4 559.6 L844.9 559.8 L846.4 560.1 L847.9 560.3 L849.3 560.5 L850.8 560.7 L852.3 560.9 L853.8 561.0 L855.2 561.1 L856.7 561.2 L858.2 561.3 L859.7 561.3 L861.1 561.3 L862.6 561.3 L864.1 561.3 L865.6 561.2 L867.0 561.2 L868.5 561.1 L870.0 560.9 L871.5 560.8 L873.0 560.6 L874.4 560.4 L875.9 560.1 L877.4 559.9 L878.9 559.6 L880.3 559.2 L881.8 558.9 L883.3 558.5 L884.8 558.2 L886.2 557.7 L887.7 557.3 L889.2 556.9 L890.7 556.4 L892.2 556.0 L893.6 555.5 L895.1 555.0 L896.6 554.5 L898.1 554.1 L899.5 553.6 L901.0 553.1 L902.5 552.6 L904.0 552.2 L905.4 551.7 L906.9 551.2 L908.4 550.8 L909.9 550.4 L911.3 550.0 L912.8 549.6 L914.3 549.2 L915.8 548.9 L917.3 548.5 L918.7 548.2 L920.2 547.9 L921.7 547.6 L923.2 547.3 L924.6 547.1 L926.1 546.9 L927.6 546.6 L929.1 546.5 L930.5 546.3 L932.0 546.1 L933.5 546.0 L935.0 545.9 L936.5 545.8 L937.9 545.7 L939.4 545.7 L940.9 545.7 L942.4 545.6 L943.8 545.6 L945.3 545.7 L946.8 545.7 L948.3 545.7 L949.7 545.8 L951.2 545.8 L952.7 545.9 L954.2 545.9 L955.6 546.0 L957.1 546.1 L958.6 546.2 L960.1 546.2" fill="none" stroke="#000" stroke-width="1.1" stroke-linejoin="round" />
<circle cx="134.9" cy="513.5" r="1.5" fill="#000"/><circle cx="161.5" cy="511.5" r="1.5" fill="#000"/><circle cx="188.1" cy="514.0" r="1.5" fill="#000"/><circle cx="214.7" cy="510.8" r="1.5" fill="#000"/><circle cx="241.2" cy="512.8" r="1.5" fill="#000"/><circle cx="267.8" cy="505.0" r="1.5" fill="#000"/><circle cx="294.4" cy="501.8" r="1.5" fill="#000"/><circle cx="347.6" cy="508.2" r="1.5" fill="#000"/><circle cx="374.1" cy="516.0" r="1.5" fill="#000"/><circle cx="400.7" cy="519.5" r="1.5" fill="#000"/><circle cx="428.5" cy="522.2" r="1.5" fill="#000"/><circle cx="455.1" cy="525.5" r="1.5" fill="#000"/><circle cx="481.6" cy="536.0" r="1.5" fill="#000"/><circle cx="508.2" cy="545.8" r="1.5" fill="#000"/><circle cx="534.8" cy="549.2" r="1.5" fill="#000"/><circle cx="561.4" cy="550.8" r="1.5" fill="#000"/><circle cx="588.0" cy="547.5" r="1.5" fill="#000"/><circle cx="614.5" cy="549.2" r="1.5" fill="#000"/><circle cx="641.1" cy="556.0" r="1.5" fill="#000"/><circle cx="667.7" cy="557.8" r="1.5" fill="#000"/><circle cx="694.3" cy="554.2" r="1.5" fill="#000"/><circle cx="720.9" cy="557.0" r="1.5" fill="#000"/><circle cx="747.4" cy="554.5" r="1.5" fill="#000"/><circle cx="774.0" cy="553.2" r="1.5" fill="#000"/><circle cx="800.6" cy="554.5" r="1.5" fill="#000"/><circle cx="827.2" cy="556.8" r="1.5" fill="#000"/><circle cx="853.8" cy="561.0" r="1.5" fill="#000"/><circle cx="880.3" cy="559.2" r="1.5" fill="#000"/><circle cx="906.9" cy="551.2" r="1.5" fill="#000"/><circle cx="933.5" cy="546.0" r="1.5" fill="#000"/><circle cx="960.1" cy="546.2" r="1.5" fill="#000"/>
<path d="M134.9 507.0 L136.4 507.1 L137.9 507.2 L139.4 507.3 L140.8 507.3 L142.3 507.4 L143.8 507.5 L145.3 507.6 L146.7 507.7 L148.2 507.8 L149.7 507.9 L151.2 508.0 L152.6 508.1 L154.1 508.2 L155.6 508.3 L157.1 508.4 L158.5 508.5 L160.0 508.6 L161.5 508.8 L163.0 508.9 L164.5 509.0 L165.9 509.1 L167.4 509.3 L168.9 509.4 L170.4 509.5 L171.8 509.7 L173.3 509.8 L174.8 509.9 L176.3 510.1 L177.7 510.2 L179.2 510.3 L180.7 510.4 L182.2 510.5 L183.6 510.6 L185.1 510.6 L186.6 510.7 L188.1 510.8 L189.6 510.8 L191.0 510.8 L192.5 510.8 L194.0 510.8 L195.5 510.8 L196.9 510.8 L198.4 510.8 L199.9 510.8 L201.4 510.7 L202.8 510.7 L204.3 510.7 L205.8 510.7 L207.3 510.7 L208.8 510.7 L210.2 510.7 L211.7 510.7 L213.2 510.7 L214.7 510.8 L216.1 510.8 L217.6 510.9 L219.1 510.9 L220.6 511.0 L222.0 511.1 L223.5 511.2 L225.0 511.3 L226.5 511.4 L227.9 511.4 L229.4 511.5 L230.9 511.6 L232.4 511.7 L233.9 511.7 L235.3 511.8 L236.8 511.8 L238.3 511.8 L239.8 511.8 L241.2 511.8 L242.7 511.7 L244.2 511.6 L245.7 511.5 L247.1 511.4 L248.6 511.3 L250.1 511.1 L251.6 511.0 L253.1 510.8 L254.5 510.6 L256.0 510.4 L257.5 510.2 L259.0 510.0 L260.4 509.8 L261.9 509.6 L263.4 509.4 L264.9 509.2 L266.3 509.0 L267.8 508.8 L269.3 508.6 L270.8 508.4 L272.2 508.2 L273.7 508.0 L275.2 507.8 L276.7 507.6 L278.2 507.5 L279.6 507.3 L281.1 507.2 L282.6 507.0 L284.1 506.9 L285.5 506.7 L287.0 506.6 L288.5 506.5 L290.0 506.3 L291.4 506.2 L292.9 506.1 L294.4 506.0 L295.9 505.9 L297.4 505.8 L298.8 505.7 L300.3 505.6 L301.8 505.5 L303.3 505.5 L304.7 505.4 L306.2 505.3 L307.7 505.3 L309.2 505.2 L310.6 505.2 L312.1 505.2 L313.6 505.1 L315.1 505.1 L316.5 505.1 L318.0 505.1 L319.5 505.1 L321.0 505.1 L322.5 505.1 L323.9 505.2 L325.4 505.2 L326.9 505.2 L328.4 505.3 L329.8 505.3 L331.3 505.4 L332.8 505.5 L334.3 505.6 L335.7 505.7 L337.2 505.8 L338.7 505.9 L340.2 506.0 L341.7 506.1 L343.1 506.3 L344.6 506.4 L346.1 506.6 L347.6 506.8 L349.0 506.9 L350.5 507.1 L352.0 507.3 L353.5 507.5 L354.9 507.7 L356.4 508.0 L357.9 508.2 L359.4 508.4 L360.8 508.6 L362.3 508.9 L363.8 509.1 L365.3 509.4 L366.8 509.6 L368.2 509.8 L369.7 510.1 L371.2 510.3 L372.7 510.5 L374.1 510.8 L375.6 511.0 L377.1 511.2 L378.6 511.4 L380.0 511.6 L381.5 511.8 L383.0 512.0 L384.5 512.2 L386.0 512.4 L387.4 512.6 L388.9 512.8 L390.4 513.0 L391.9 513.2 L393.3 513.3 L394.8 513.5 L396.3 513.7 L397.8 513.9 L399.2 514.1 L400.7 514.2 L402.2 514.4 L403.6 514.6 L405.1 514.8 L406.6 515.0 L408.0 515.1 L409.5 515.3 L410.9 515.5 L412.4 515.7 L413.9 515.8 L415.3 516.0 L416.8 516.2 L418.3 516.4 L419.7 516.5 L421.2 516.7 L422.6 516.9 L424.1 517.0 L425.6 517.2 L427.0 517.3 L428.5 517.5 L430.0 517.7 L431.4 517.8 L432.9 518.0 L434.4 518.1 L435.9 518.3 L437.3 518.4 L438.8 518.6 L440.3 518.7 L441.8 518.9 L443.2 519.1 L444.7 519.3 L446.2 519.4 L447.7 519.6 L449.2 519.8 L450.6 520.0 L452.1 520.3 L453.6 520.5 L455.1 520.8 L456.5 521.0 L458.0 521.3 L459.5 521.6 L461.0 521.9 L462.4 522.2 L463.9 522.5 L465.4 522.8 L466.9 523.2 L468.4 523.5 L469.8 523.9 L471.3 524.2 L472.8 524.6 L474.3 525.0 L475.7 525.4 L477.2 525.8 L478.7 526.2 L480.2 526.6 L481.6 527.0 L483.1 527.4 L484.6 527.8 L486.1 528.3 L487.5 528.7 L489.0 529.1 L490.5 529.5 L492.0 530.0 L493.5 530.4 L494.9 530.8 L496.4 531.2 L497.9 531.7 L499.4 532.1 L500.8 532.5 L502.3 532.9 L503.8 533.3 L505.3 533.7 L506.7 534.1 L508.2 534.5 L509.7 534.9 L511.2 535.3 L512.6 535.6 L514.1 536.0 L515.6 536.4 L517.1 536.7 L518.6 537.1 L520.0 537.4 L521.5 537.7 L523.0 538.1 L524.5 538.4 L525.9 538.7 L527.4 539.0 L528.9 539.3 L530.4 539.6 L531.8 539.9 L533.3 540.2 L534.8 540.5 L536.3 540.8 L537.8 541.1 L539.2 541.3 L540.7 541.6 L542.2 541.9 L543.7 542.1 L545.1 542.4 L546.6 542.6 L548.1 542.8 L549.6 543.1 L551.0 543.3 L552.5 543.5 L554.0 543.7 L555.5 543.9 L556.9 544.0 L558.4 544.2 L559.9 544.4 L561.4 544.5 L562.9 544.6 L564.3 544.7 L565.8 544.9 L567.3 545.0 L568.8 545.0 L570.2 545.1 L571.7 545.2 L573.2 545.3 L574.7 545.3 L576.1 545.4 L577.6 545.4 L579.1 545.5 L580.6 545.5 L582.1 545.6 L583.5 545.6 L585.0 545.7 L586.5 545.7 L588.0 545.8 L589.4 545.8 L590.9 545.8 L592.4 545.9 L593.9 545.9 L595.3 546.0 L596.8 546.1 L598.3 546.1 L599.8 546.2 L601.2 546.3 L602.7 546.4 L604.2 546.4 L605.7 546.5 L607.2 546.6 L608.6 546.7 L610.1 546.9 L611.6 547.0 L613.1 547.1 L614.5 547.2 L616.0 547.4 L617.5 547.6 L619.0 547.7 L620.4 547.9 L621.9 548.1 L623.4 548.3 L624.9 548.4 L626.4 548.6 L627.8 548.8 L629.3 549.0 L630.8 549.3 L632.3 549.5 L633.7 549.7 L635.2 549.9 L636.7 550.1 L638.2 550.3 L639.6 550.5 L641.1 550.8 L642.6 551.0 L644.1 551.2 L645.5 551.4 L647.0 551.6 L648.5 551.8 L650.0 552.0 L651.5 552.2 L652.9 552.4 L654.4 552.5 L655.9 552.7 L657.4 552.9 L658.8 553.0 L660.3 553.2 L661.8 553.3 L663.3 553.4 L664.7 553.6 L666.2 553.7 L667.7 553.8 L669.2 553.8 L670.7 553.9 L672.1 553.9 L673.6 554.0 L675.1 554.0 L676.6 554.1 L678.0 554.1 L679.5 554.1 L681.0 554.1 L682.5 554.1 L683.9 554.1 L685.4 554.1 L686.9 554.2 L688.4 554.2 L689.9 554.2 L691.3 554.2 L692.8 554.2 L694.3 554.2 L695.8 554.3 L697.2 554.3 L698.7 554.4 L700.2 554.4 L701.7 554.5 L703.1 554.6 L704.6 554.6 L706.1 554.7 L707.6 554.7 L709.0 554.8 L710.5 554.9 L712.0 554.9 L713.5 555.0 L715.0 555.1 L716.4 555.1 L717.9 555.2 L719.4 555.2 L720.9 555.2 L722.3 555.3 L723.8 555.3 L725.3 555.3 L726.8 555.3 L728.2 555.3 L729.7 555.3 L731.2 555.3 L732.7 555.3 L734.1 555.3 L735.6 555.3 L737.1 555.3 L738.6 555.2 L740.1 555.2 L741.5 555.2 L743.0 555.1 L744.5 555.1 L746.0 555.0 L747.4 555.0 L748.9 555.0 L750.4 554.9 L751.9 554.9 L753.3 554.8 L754.8 554.8 L756.3 554.7 L757.8 554.7 L759.3 554.6 L760.7 554.6 L762.2 554.5 L763.7 554.5 L765.2 554.4 L766.6 554.4 L768.1 554.3 L769.6 554.3 L771.1 554.3 L772.5 554.3 L774.0 554.2 L775.5 554.2 L777.0 554.2 L778.4 554.2 L779.9 554.2 L781.4 554.2 L782.9 554.2 L784.4 554.3 L785.8 554.3 L787.3 554.3 L788.8 554.3 L790.3 554.3 L791.7 554.4 L793.2 554.4 L794.7 554.4 L796.2 554.4 L797.6 554.5 L799.1 554.5 L800.6 554.5 L802.1 554.5 L803.6 554.5 L805.0 554.6 L806.5 554.6 L808.0 554.6 L809.5 554.6 L810.9 554.7 L812.4 554.7 L813.9 554.7 L815.4 554.8 L816.8 554.8 L818.3 554.8 L819.8 554.9 L821.3 554.9 L822.8 555.0 L824.2 555.1 L825.7 555.2 L827.2 555.2 L828.7 555.3 L830.1 555.5 L831.6 555.6 L833.1 555.7 L834.6 555.8 L836.0 555.9 L837.5 556.1 L839.0 556.2 L840.5 556.3 L841.9 556.5 L843.4 556.6 L844.9 556.7 L846.4 556.9 L847.9 557.0 L849.3 557.1 L850.8 557.3 L852.3 557.4 L853.8 557.5 L855.2 557.6 L856.7 557.7 L858.2 557.8 L859.7 557.9 L861.1 557.9 L862.6 558.0 L864.1 558.1 L865.6 558.1 L867.0 558.2 L868.5 558.2 L870.0 558.2 L871.5 558.2 L873.0 558.2 L874.4 558.2 L875.9 558.2 L877.4 558.1 L878.9 558.1 L880.3 558.0 L881.8 557.9 L883.3 557.8 L884.8 557.7 L886.2 557.6 L887.7 557.5 L889.2 557.4 L890.7 557.2 L892.2 557.1 L893.6 556.9 L895.1 556.8 L896.6 556.6 L898.1 556.4 L899.5 556.2 L901.0 556.0 L902.5 555.8 L904.0 555.6 L905.4 555.5 L906.9 555.2 L908.4 555.0 L909.9 554.8 L911.3 554.6 L912.8 554.4 L914.3 554.2 L915.8 554.0 L917.3 553.8 L918.7 553.6 L920.2 553.4 L921.7 553.2 L923.2 553.0 L924.6 552.8 L926.1 552.6 L927.6 552.4 L929.1 552.3 L930.5 552.1 L932.0 551.9 L933.5 551.8 L935.0 551.6 L936.5 551.4 L937.9 551.3 L939.4 551.1 L940.9 551.0 L942.4 550.9 L943.8 550.7 L945.3 550.6 L946.8 550.5 L948.3 550.4 L949.7 550.3 L951.2 550.2 L952.7 550.0 L954.2 549.9 L955.6 549.8 L957.1 549.7 L958.6 549.6 L960.1 549.5" fill="none" stroke="#ff0000" stroke-width="1.1" stroke-linejoin="round" />
<circle cx="134.9" cy="507.0" r="1.5" fill="#ff0000"/><circle cx="161.5" cy="508.8" r="1.5" fill="#ff0000"/><circle cx="188.1" cy="510.8" r="1.5" fill="#ff0000"/><circle cx="214.7" cy="510.8" r="1.5" fill="#ff0000"/><circle cx="241.2" cy="511.8" r="1.5" fill="#ff0000"/><circle cx="267.8" cy="508.8" r="1.5" fill="#ff0000"/><circle cx="294.4" cy="506.0" r="1.5" fill="#ff0000"/><circle cx="347.6" cy="506.8" r="1.5" fill="#ff0000"/><circle cx="374.1" cy="510.8" r="1.5" fill="#ff0000"/><circle cx="400.7" cy="514.2" r="1.5" fill="#ff0000"/><circle cx="428.5" cy="517.5" r="1.5" fill="#ff0000"/><circle cx="455.1" cy="520.8" r="1.5" fill="#ff0000"/><circle cx="481.6" cy="527.0" r="1.5" fill="#ff0000"/><circle cx="508.2" cy="534.5" r="1.5" fill="#ff0000"/><circle cx="534.8" cy="540.5" r="1.5" fill="#ff0000"/><circle cx="561.4" cy="544.5" r="1.5" fill="#ff0000"/><circle cx="588.0" cy="545.8" r="1.5" fill="#ff0000"/><circle cx="614.5" cy="547.2" r="1.5" fill="#ff0000"/><circle cx="641.1" cy="550.8" r="1.5" fill="#ff0000"/><circle cx="667.7" cy="553.8" r="1.5" fill="#ff0000"/><circle cx="694.3" cy="554.2" r="1.5" fill="#ff0000"/><circle cx="720.9" cy="555.2" r="1.5" fill="#ff0000"/><circle cx="747.4" cy="555.0" r="1.5" fill="#ff0000"/><circle cx="774.0" cy="554.2" r="1.5" fill="#ff0000"/><circle cx="800.6" cy="554.5" r="1.5" fill="#ff0000"/><circle cx="827.2" cy="555.2" r="1.5" fill="#ff0000"/><circle cx="853.8" cy="557.5" r="1.5" fill="#ff0000"/><circle cx="880.3" cy="558.0" r="1.5" fill="#ff0000"/><circle cx="906.9" cy="555.2" r="1.5" fill="#ff0000"/><circle cx="933.5" cy="551.8" r="1.5" fill="#ff0000"/><circle cx="960.1" cy="549.5" r="1.5" fill="#ff0000"/>
<rect x="521.0" y="515.4" width="24.8" height="11.5" fill="#808080" fill-opacity="0.4"/><text x="521.8" y="523.5" font-size="9.6" textLength="24.0" lengthAdjust="spacingAndGlyphs">Entry</text>
</g>
<g clip-path="url(#c_mfi)">
<path d="M79.5 581.4 H1016.5" stroke="#9a9aff" stroke-width="1"/>
<path d="M79.5 600.2 H1016.5" stroke="#9a9aff" stroke-width="1"/>
<path d="M134.9 589.8 L136.4 589.7 L137.9 589.7 L139.4 589.7 L140.8 589.7 L142.3 589.7 L143.8 589.7 L145.3 589.7 L146.7 589.7 L148.2 589.7 L149.7 589.7 L151.2 589.7 L152.6 589.7 L154.1 589.7 L155.6 589.7 L157.1 589.7 L158.5 589.7 L160.0 589.7 L161.5 589.8 L163.0 589.8 L164.5 589.8 L165.9 589.8 L167.4 589.8 L168.9 589.8 L170.4 589.8 L171.8 589.8 L173.3 589.8 L174.8 589.8 L176.3 589.8 L177.7 589.8 L179.2 589.8 L180.7 589.8 L182.2 589.8 L183.6 589.8 L185.1 589.8 L186.6 589.8 L188.1 589.8 L189.6 589.7 L191.0 589.7 L192.5 589.7 L194.0 589.7 L195.5 589.7 L196.9 589.7 L198.4 589.7 L199.9 589.7 L201.4 589.7 L202.8 589.7 L204.3 589.7 L205.8 589.7 L207.3 589.7 L208.8 589.7 L210.2 589.7 L211.7 589.7 L213.2 589.7 L214.7 589.8 L216.1 589.8 L217.6 589.8 L219.1 589.8 L220.6 589.8 L222.0 589.8 L223.5 589.8 L225.0 589.8 L226.5 589.8 L227.9 589.8 L229.4 589.8 L230.9 589.8 L232.4 589.8 L233.9 589.8 L235.3 589.8 L236.8 589.8 L238.3 589.8 L239.8 589.8 L241.2 589.8 L242.7 589.7 L244.2 589.7 L245.7 589.7 L247.1 589.7 L248.6 589.7 L250.1 589.7 L251.6 589.7 L253.1 589.7 L254.5 589.7 L256.0 589.7 L257.5 589.7 L259.0 589.7 L260.4 589.7 L261.9 589.7 L263.4 589.7 L264.9 589.7 L266.3 589.7 L267.8 589.8 L269.3 589.8 L270.8 589.8 L272.2 589.8 L273.7 589.8 L275.2 589.8 L276.7 589.8 L278.2 589.8 L279.6 589.8 L281.1 589.8 L282.6 589.8 L284.1 589.8 L285.5 589.8 L287.0 589.8 L288.5 589.8 L290.0 589.8 L291.4 589.8 L292.9 589.8 L294.4 589.8 L295.9 589.7 L297.4 589.7 L298.8 589.7 L300.3 589.7 L301.8 589.7 L303.3 589.7 L304.7 589.7 L306.2 589.7 L307.7 589.7 L309.2 589.7 L310.6 589.7 L312.1 589.7 L313.6 589.7 L315.1 589.7 L316.5 589.7 L318.0 589.7 L319.5 589.7 L321.0 589.7 L322.5 589.7 L323.9 589.7 L325.4 589.7 L326.9 589.7 L328.4 589.7 L329.8 589.7 L331.3 589.7 L332.8 589.7 L334.3 589.7 L335.7 589.7 L337.2 589.7 L338.7 589.7 L340.2 589.7 L341.7 589.7 L343.1 589.7 L344.6 589.7 L346.1 589.7 L347.6 589.8 L349.0 589.8 L350.5 589.8 L352.0 589.8 L353.5 589.8 L354.9 589.8 L356.4 589.8 L357.9 589.8 L359.4 589.8 L360.8 589.8 L362.3 589.8 L363.8 589.8 L365.3 589.8 L366.8 589.8 L368.2 589.8 L369.7 589.8 L371.2 589.8 L372.7 589.8 L374.1 589.8 L375.6 589.7 L377.1 589.7 L378.6 589.7 L380.0 589.7 L381.5 589.7 L383.0 589.7 L384.5 589.7 L386.0 589.7 L387.4 589.7 L388.9 589.7 L390.4 589.7 L391.9 589.7 L393.3 589.7 L394.8 589.7 L396.3 589.7 L397.8 589.7 L399.2 589.7 L400.7 589.8 L402.2 589.8 L403.6 589.8 L405.1 589.8 L406.6 589.8 L408.0 589.8 L409.5 589.8 L410.9 589.8 L412.4 589.8 L413.9 589.8 L415.3 589.8 L416.8 589.8 L418.3 589.8 L419.7 589.8 L421.2 589.8 L422.6 589.8 L424.1 589.8 L425.6 589.8 L427.0 589.8 L428.5 589.8 L430.0 589.7 L431.4 589.7 L432.9 589.7 L434.4 589.7 L435.9 589.7 L437.3 589.7 L438.8 589.7 L440.3 589.7 L441.8 589.7 L443.2 589.7 L444.7 589.7 L446.2 589.7 L447.7 589.7 L449.2 589.7 L450.6 589.7 L452.1 589.7 L453.6 589.7 L455.1 589.8 L456.5 589.8 L458.0 589.8 L459.5 589.8 L461.0 589.8 L462.4 589.8 L463.9 589.8 L465.4 589.8 L466.9 589.8 L468.4 589.8 L469.8 589.8 L471.3 589.8 L472.8 589.8 L474.3 589.8 L475.7 589.8 L477.2 589.8 L478.7 589.8 L480.2 589.8 L481.6 589.8 L483.1 589.7 L484.6 589.7 L486.1 589.7 L487.5 589.7 L489.0 589.7 L490.5 589.7 L492.0 589.7 L493.5 589.7 L494.9 589.7 L496.4 589.7 L497.9 589.7 L499.4 589.7 L500.8 589.7 L502.3 589.7 L503.8 589.7 L505.3 589.7 L506.7 589.7 L508.2 589.8 L509.7 589.8 L511.2 589.8 L512.6 589.8 L514.1 589.8 L515.6 589.8 L517.1 589.8 L518.6 589.8 L520.0 589.8 L521.5 589.8 L523.0 589.8 L524.5 589.8 L525.9 589.8 L527.4 589.8 L528.9 589.8 L530.4 589.8 L531.8 589.8 L533.3 589.8 L534.8 589.8 L536.3 589.7 L537.8 589.7 L539.2 589.7 L540.7 589.7 L542.2 589.7 L543.7 589.7 L545.1 589.7 L546.6 589.7 L548.1 589.7 L549.6 589.7 L551.0 589.7 L552.5 589.7 L554.0 589.7 L555.5 589.7 L556.9 589.7 L558.4 589.7 L559.9 589.7 L561.4 589.8 L562.9 589.8 L564.3 589.8 L565.8 589.8 L567.3 589.8 L568.8 589.8 L570.2 589.8 L571.7 589.8 L573.2 589.8 L574.7 589.8 L576.1 589.8 L577.6 589.8 L579.1 589.8 L580.6 589.8 L582.1 589.8 L583.5 589.8 L585.0 589.8 L586.5 589.8 L588.0 589.8 L589.4 589.7 L590.9 589.7 L592.4 589.7 L593.9 589.7 L595.3 589.7 L596.8 589.7 L598.3 589.7 L599.8 589.7 L601.2 589.7 L602.7 589.7 L604.2 589.7 L605.7 589.7 L607.2 589.7 L608.6 589.7 L610.1 589.7 L611.6 589.7 L613.1 589.7 L614.5 589.8 L616.0 589.8 L617.5 589.8 L619.0 589.8 L620.4 589.8 L621.9 589.8 L623.4 589.8 L624.9 589.8 L626.4 589.9 L627.8 589.9 L629.3 589.9 L630.8 589.9 L632.3 589.9 L633.7 589.9 L635.2 590.0 L636.7 590.0 L638.2 590.0 L639.6 590.0 L641.1 590.0 L642.6 590.0 L644.1 590.0 L645.5 590.0 L647.0 590.0 L648.5 590.0 L650.0 590.0 L651.5 590.0 L652.9 590.0 L654.4 590.0 L655.9 590.0 L657.4 590.0 L658.8 590.0 L660.3 590.0 L661.8 590.0 L663.3 590.0 L664.7 590.0 L666.2 590.0 L667.7 590.0 L669.2 590.0 L670.7 590.0 L672.1 590.0 L673.6 590.0 L675.1 590.0 L676.6 590.0 L678.0 590.0 L679.5 590.0 L681.0 590.0 L682.5 590.0 L683.9 590.0 L685.4 590.0 L686.9 590.0 L688.4 590.0 L689.9 590.0 L691.3 590.0 L692.8 590.0 L694.3 590.0 L695.8 590.0 L697.2 590.0 L698.7 590.0 L700.2 590.0 L701.7 590.0 L703.1 590.0 L704.6 590.0 L706.1 590.0 L707.6 590.0 L709.0 590.0 L710.5 590.0 L712.0 590.0 L713.5 590.0 L715.0 590.0 L716.4 590.0 L717.9 590.0 L719.4 590.0 L720.9 590.0 L722.3 590.0 L723.8 590.0 L725.3 590.0 L726.8 590.0 L728.2 590.0 L729.7 590.0 L731.2 590.0 L732.7 590.0 L734.1 590.0 L735.6 590.0 L737.1 590.0 L738.6 590.0 L740.1 590.0 L741.5 590.0 L743.0 590.0 L744.5 590.0 L746.0 590.0 L747.4 590.0 L748.9 590.0 L750.4 590.0 L751.9 590.0 L753.3 590.0 L754.8 590.0 L756.3 590.0 L757.8 590.0 L759.3 590.0 L760.7 589.9 L762.2 589.9 L763.7 589.9 L765.2 589.9 L766.6 589.9 L768.1 590.0 L769.6 590.0 L771.1 590.0 L772.5 590.0 L774.0 590.0 L775.5 590.0 L777.0 590.0 L778.4 590.1 L779.9 590.1 L781.4 590.1 L782.9 590.2 L784.4 590.2 L785.8 590.2 L787.3 590.2 L788.8 590.3 L790.3 590.3 L791.7 590.3 L793.2 590.4 L794.7 590.4 L796.2 590.4 L797.6 590.5 L799.1 590.5 L800.6 590.5 L802.1 590.5 L803.6 590.5 L805.0 590.5 L806.5 590.5 L808.0 590.6 L809.5 590.6 L810.9 590.6 L812.4 590.6 L813.9 590.6 L815.4 590.5 L816.8 590.5 L818.3 590.5 L819.8 590.5 L821.3 590.5 L822.8 590.5 L824.2 590.5 L825.7 590.5 L827.2 590.5 L828.7 590.5 L830.1 590.5 L831.6 590.5 L833.1 590.5 L834.6 590.5 L836.0 590.5 L837.5 590.5 L839.0 590.5 L840.5 590.5 L841.9 590.5 L843.4 590.5 L844.9 590.5 L846.4 590.5 L847.9 590.5 L849.3 590.5 L850.8 590.5 L852.3 590.5 L853.8 590.5 L855.2 590.5 L856.7 590.5 L858.2 590.5 L859.7 590.5 L861.1 590.5 L862.6 590.5 L864.1 590.5 L865.6 590.5 L867.0 590.5 L868.5 590.5 L870.0 590.5 L871.5 590.5 L873.0 590.5 L874.4 590.5 L875.9 590.5 L877.4 590.5 L878.9 590.5 L880.3 590.5 L881.8 590.5 L883.3 590.5 L884.8 590.5 L886.2 590.5 L887.7 590.5 L889.2 590.5 L890.7 590.5 L892.2 590.5 L893.6 590.5 L895.1 590.5 L896.6 590.5 L898.1 590.5 L899.5 590.5 L901.0 590.5 L902.5 590.5 L904.0 590.5 L905.4 590.5 L906.9 590.5 L908.4 590.5 L909.9 590.5 L911.3 590.5 L912.8 590.5 L914.3 590.5 L915.8 590.5 L917.3 590.5 L918.7 590.5 L920.2 590.5 L921.7 590.5 L923.2 590.5 L924.6 590.5 L926.1 590.5 L927.6 590.5 L929.1 590.5 L930.5 590.5 L932.0 590.5 L933.5 590.5 L935.0 590.5 L936.5 590.5 L937.9 590.5 L939.4 590.5 L940.9 590.5 L942.4 590.5 L943.8 590.5 L945.3 590.5 L946.8 590.5 L948.3 590.5 L949.7 590.5 L951.2 590.5 L952.7 590.5 L954.2 590.5 L955.6 590.5 L957.1 590.5 L958.6 590.5 L960.1 590.5" fill="none" stroke="#000" stroke-width="1.1" stroke-linejoin="round" />
<circle cx="134.9" cy="589.8" r="1.5" fill="#000"/><circle cx="161.5" cy="589.8" r="1.5" fill="#000"/><circle cx="188.1" cy="589.8" r="1.5" fill="#000"/><circle cx="214.7" cy="589.8" r="1.5" fill="#000"/><circle cx="241.2" cy="589.8" r="1.5" fill="#000"/><circle cx="267.8" cy="589.8" r="1.5" fill="#000"/><circle cx="294.4" cy="589.8" r="1.5" fill="#000"/><circle cx="347.6" cy="589.8" r="1.5" fill="#000"/><circle cx="374.1" cy="589.8" r="1.5" fill="#000"/><circle cx="400.7" cy="589.8" r="1.5" fill="#000"/><circle cx="428.5" cy="589.8" r="1.5" fill="#000"/><circle cx="455.1" cy="589.8" r="1.5" fill="#000"/><circle cx="481.6" cy="589.8" r="1.5" fill="#000"/><circle cx="508.2" cy="589.8" r="1.5" fill="#000"/><circle cx="534.8" cy="589.8" r="1.5" fill="#000"/><circle cx="561.4" cy="589.8" r="1.5" fill="#000"/><circle cx="588.0" cy="589.8" r="1.5" fill="#000"/><circle cx="614.5" cy="589.8" r="1.5" fill="#000"/><circle cx="641.1" cy="590.0" r="1.5" fill="#000"/><circle cx="667.7" cy="590.0" r="1.5" fill="#000"/><circle cx="694.3" cy="590.0" r="1.5" fill="#000"/><circle cx="720.9" cy="590.0" r="1.5" fill="#000"/><circle cx="747.4" cy="590.0" r="1.5" fill="#000"/><circle cx="774.0" cy="590.0" r="1.5" fill="#000"/><circle cx="800.6" cy="590.5" r="1.5" fill="#000"/><circle cx="827.2" cy="590.5" r="1.5" fill="#000"/><circle cx="853.8" cy="590.5" r="1.5" fill="#000"/><circle cx="880.3" cy="590.5" r="1.5" fill="#000"/><circle cx="906.9" cy="590.5" r="1.5" fill="#000"/><circle cx="933.5" cy="590.5" r="1.5" fill="#000"/><circle cx="960.1" cy="590.5" r="1.5" fill="#000"/>
<rect x="79.5" y="577.0" width="48.2" height="11.5" fill="#808080" fill-opacity="0.4"/><text x="82.4" y="585.1" font-size="9.6" textLength="45.0" lengthAdjust="spacingAndGlyphs">überkauft</text>
<rect x="79.5" y="595.8" width="63.2" height="11.5" fill="#808080" fill-opacity="0.4"/><text x="82.4" y="603.9" font-size="9.6" textLength="60.0" lengthAdjust="spacingAndGlyphs">überverkauft</text>
</g>
<g clip-path="url(#c_obv)">
<path d="M533.5 618.5 V651.5" stroke="#7c7cff" stroke-width="1"/>
<path d="M586.5 618.5 V651.5" stroke="#7c7cff" stroke-width="1"/>
<path d="M134.9 628.5 L136.4 628.3 L137.9 628.1 L139.4 627.8 L140.8 627.6 L142.3 627.4 L143.8 627.2 L145.3 627.0 L146.7 626.8 L148.2 626.6 L149.7 626.5 L151.2 626.3 L152.6 626.2 L154.1 626.1 L155.6 626.0 L157.1 625.9 L158.5 625.8 L160.0 625.8 L161.5 625.8 L163.0 625.8 L164.5 625.8 L165.9 625.8 L167.4 625.9 L168.9 626.0 L170.4 626.1 L171.8 626.1 L173.3 626.2 L174.8 626.4 L176.3 626.5 L177.7 626.6 L179.2 626.7 L180.7 626.7 L182.2 626.8 L183.6 626.9 L185.1 627.0 L186.6 627.0 L188.1 627.0 L189.6 627.0 L191.0 627.0 L192.5 626.9 L194.0 626.9 L195.5 626.8 L196.9 626.7 L198.4 626.6 L199.9 626.5 L201.4 626.5 L202.8 626.4 L204.3 626.3 L205.8 626.2 L207.3 626.2 L208.8 626.2 L210.2 626.1 L211.7 626.2 L213.2 626.2 L214.7 626.2 L216.1 626.3 L217.6 626.5 L219.1 626.6 L220.6 626.8 L222.0 626.9 L223.5 627.1 L225.0 627.3 L226.5 627.4 L227.9 627.6 L229.4 627.7 L230.9 627.8 L232.4 627.9 L233.9 628.0 L235.3 628.0 L236.8 627.9 L238.3 627.8 L239.8 627.7 L241.2 627.5 L242.7 627.2 L244.2 626.9 L245.7 626.5 L247.1 626.1 L248.6 625.6 L250.1 625.2 L251.6 624.6 L253.1 624.1 L254.5 623.6 L256.0 623.0 L257.5 622.5 L259.0 621.9 L260.4 621.4 L261.9 620.9 L263.4 620.4 L264.9 620.0 L266.3 619.6 L267.8 619.2 L269.3 619.0 L270.8 618.7 L272.2 618.6 L273.7 618.4 L275.2 618.3 L276.7 618.3 L278.2 618.3 L279.6 618.3 L281.1 618.3 L282.6 618.4 L284.1 618.5 L285.5 618.5 L287.0 618.7 L288.5 618.8 L290.0 618.9 L291.4 619.0 L292.9 619.1 L294.4 619.2 L295.9 619.4 L297.4 619.4 L298.8 619.5 L300.3 619.6 L301.8 619.7 L303.3 619.7 L304.7 619.8 L306.2 619.8 L307.7 619.8 L309.2 619.9 L310.6 619.9 L312.1 619.9 L313.6 619.9 L315.1 619.9 L316.5 619.9 L318.0 619.9 L319.5 619.9 L321.0 619.9 L322.5 619.9 L323.9 619.9 L325.4 619.9 L326.9 619.9 L328.4 619.9 L329.8 619.9 L331.3 619.8 L332.8 619.8 L334.3 619.8 L335.7 619.8 L337.2 619.8 L338.7 619.9 L340.2 619.9 L341.7 619.9 L343.1 619.9 L344.6 619.9 L346.1 620.0 L347.6 620.0 L349.0 620.0 L350.5 620.1 L352.0 620.2 L353.5 620.2 L354.9 620.3 L356.4 620.4 L357.9 620.4 L359.4 620.5 L360.8 620.6 L362.3 620.6 L363.8 620.7 L365.3 620.8 L366.8 620.8 L368.2 620.9 L369.7 620.9 L371.2 621.0 L372.7 621.0 L374.1 621.0 L375.6 621.0 L377.1 621.0 L378.6 621.0 L380.0 621.0 L381.5 620.9 L383.0 620.9 L384.5 620.9 L386.0 620.8 L387.4 620.8 L388.9 620.7 L390.4 620.7 L391.9 620.6 L393.3 620.5 L394.8 620.5 L396.3 620.4 L397.8 620.4 L399.2 620.3 L400.7 620.2 L402.2 620.2 L403.6 620.2 L405.1 620.1 L406.6 620.1 L408.0 620.1 L409.5 620.0 L410.9 620.0 L412.4 620.0 L413.9 620.0 L415.3 620.0 L416.8 620.0 L418.3 620.0 L419.7 620.0 L421.2 620.0 L422.6 620.1 L424.1 620.1 L425.6 620.1 L427.0 620.2 L428.5 620.2 L430.0 620.3 L431.4 620.4 L432.9 620.5 L434.4 620.6 L435.9 620.7 L437.3 620.8 L438.8 620.9 L440.3 621.0 L441.8 621.1 L443.2 621.2 L444.7 621.3 L446.2 621.4 L447.7 621.5 L449.2 621.6 L450.6 621.7 L452.1 621.8 L453.6 621.9 L455.1 622.0 L456.5 622.1 L458.0 622.2 L459.5 622.2 L461.0 622.3 L462.4 622.4 L463.9 622.5 L465.4 622.5 L466.9 622.6 L468.4 622.7 L469.8 622.8 L471.3 622.9 L472.8 623.0 L474.3 623.1 L475.7 623.2 L477.2 623.3 L478.7 623.4 L480.2 623.6 L481.6 623.8 L483.1 623.9 L484.6 624.1 L486.1 624.3 L487.5 624.5 L489.0 624.7 L490.5 624.9 L492.0 625.1 L493.5 625.3 L494.9 625.6 L496.4 625.8 L497.9 626.0 L499.4 626.2 L500.8 626.3 L502.3 626.5 L503.8 626.7 L505.3 626.8 L506.7 626.9 L508.2 627.0 L509.7 627.1 L511.2 627.1 L512.6 627.2 L514.1 627.2 L515.6 627.2 L517.1 627.1 L518.6 627.1 L520.0 627.1 L521.5 627.0 L523.0 627.0 L524.5 626.9 L525.9 626.9 L527.4 626.8 L528.9 626.7 L530.4 626.7 L531.8 626.6 L533.3 626.5 L534.8 626.5 L536.3 626.5 L537.8 626.4 L539.2 626.4 L540.7 626.4 L542.2 626.4 L543.7 626.4 L545.1 626.4 L546.6 626.4 L548.1 626.4 L549.6 626.4 L551.0 626.4 L552.5 626.4 L554.0 626.5 L555.5 626.5 L556.9 626.5 L558.4 626.5 L559.9 626.5 L561.4 626.5 L562.9 626.5 L564.3 626.5 L565.8 626.5 L567.3 626.5 L568.8 626.5 L570.2 626.4 L571.7 626.4 L573.2 626.4 L574.7 626.4 L576.1 626.4 L577.6 626.3 L579.1 626.3 L580.6 626.3 L582.1 626.3 L583.5 626.3 L585.0 626.3 L586.5 626.3 L588.0 626.2 L589.4 626.3 L590.9 626.3 L592.4 626.3 L593.9 626.3 L595.3 626.3 L596.8 626.4 L598.3 626.4 L599.8 626.5 L601.2 626.6 L602.7 626.7 L604.2 626.8 L605.7 627.0 L607.2 627.2 L608.6 627.4 L610.1 627.6 L611.6 627.9 L613.1 628.2 L614.5 628.5 L616.0 628.9 L617.5 629.2 L619.0 629.7 L620.4 630.1 L621.9 630.5 L623.4 631.0 L624.9 631.4 L626.4 631.9 L627.8 632.3 L629.3 632.7 L630.8 633.1 L632.3 633.5 L633.7 633.9 L635.2 634.2 L636.7 634.5 L638.2 634.7 L639.6 634.9 L641.1 635.0 L642.6 635.1 L644.1 635.1 L645.5 635.0 L647.0 634.9 L648.5 634.8 L650.0 634.6 L651.5 634.4 L652.9 634.2 L654.4 634.0 L655.9 633.7 L657.4 633.4 L658.8 633.1 L660.3 632.8 L661.8 632.4 L663.3 632.1 L664.7 631.8 L666.2 631.5 L667.7 631.2 L669.2 631.0 L670.7 630.7 L672.1 630.5 L673.6 630.3 L675.1 630.1 L676.6 630.0 L678.0 629.8 L679.5 629.7 L681.0 629.6 L682.5 629.5 L683.9 629.5 L685.4 629.4 L686.9 629.4 L688.4 629.4 L689.9 629.4 L691.3 629.4 L692.8 629.4 L694.3 629.5 L695.8 629.6 L697.2 629.7 L698.7 629.8 L700.2 629.9 L701.7 630.0 L703.1 630.1 L704.6 630.3 L706.1 630.4 L707.6 630.5 L709.0 630.7 L710.5 630.8 L712.0 630.9 L713.5 631.0 L715.0 631.1 L716.4 631.2 L717.9 631.2 L719.4 631.2 L720.9 631.2 L722.3 631.2 L723.8 631.2 L725.3 631.1 L726.8 631.1 L728.2 631.0 L729.7 630.9 L731.2 630.8 L732.7 630.7 L734.1 630.6 L735.6 630.5 L737.1 630.4 L738.6 630.3 L740.1 630.2 L741.5 630.1 L743.0 630.0 L744.5 630.0 L746.0 630.0 L747.4 630.0 L748.9 630.0 L750.4 630.1 L751.9 630.2 L753.3 630.3 L754.8 630.4 L756.3 630.6 L757.8 630.8 L759.3 631.0 L760.7 631.2 L762.2 631.5 L763.7 631.7 L765.2 632.0 L766.6 632.3 L768.1 632.6 L769.6 632.9 L771.1 633.3 L772.5 633.6 L774.0 634.0 L775.5 634.4 L777.0 634.8 L778.4 635.2 L779.9 635.6 L781.4 636.0 L782.9 636.4 L784.4 636.8 L785.8 637.2 L787.3 637.6 L788.8 638.0 L790.3 638.4 L791.7 638.8 L793.2 639.2 L794.7 639.6 L796.2 640.0 L797.6 640.3 L799.1 640.7 L800.6 641.0 L802.1 641.3 L803.6 641.6 L805.0 641.9 L806.5 642.2 L808.0 642.4 L809.5 642.7 L810.9 642.9 L812.4 643.2 L813.9 643.4 L815.4 643.6 L816.8 643.9 L818.3 644.1 L819.8 644.3 L821.3 644.5 L822.8 644.8 L824.2 645.0 L825.7 645.3 L827.2 645.5 L828.7 645.8 L830.1 646.0 L831.6 646.3 L833.1 646.6 L834.6 646.8 L836.0 647.1 L837.5 647.4 L839.0 647.6 L840.5 647.9 L841.9 648.1 L843.4 648.3 L844.9 648.6 L846.4 648.8 L847.9 649.0 L849.3 649.1 L850.8 649.3 L852.3 649.4 L853.8 649.5 L855.2 649.6 L856.7 649.6 L858.2 649.7 L859.7 649.7 L861.1 649.7 L862.6 649.6 L864.1 649.6 L865.6 649.5 L867.0 649.4 L868.5 649.4 L870.0 649.3 L871.5 649.2 L873.0 649.1 L874.4 648.9 L875.9 648.8 L877.4 648.7 L878.9 648.6 L880.3 648.5 L881.8 648.4 L883.3 648.3 L884.8 648.2 L886.2 648.1 L887.7 648.0 L889.2 647.9 L890.7 647.9 L892.2 647.8 L893.6 647.7 L895.1 647.6 L896.6 647.6 L898.1 647.5 L899.5 647.5 L901.0 647.4 L902.5 647.4 L904.0 647.3 L905.4 647.3 L906.9 647.2 L908.4 647.2 L909.9 647.2 L911.3 647.2 L912.8 647.2 L914.3 647.1 L915.8 647.1 L917.3 647.1 L918.7 647.1 L920.2 647.1 L921.7 647.1 L923.2 647.1 L924.6 647.1 L926.1 647.1 L927.6 647.2 L929.1 647.2 L930.5 647.2 L932.0 647.2 L933.5 647.2 L935.0 647.3 L936.5 647.3 L937.9 647.3 L939.4 647.4 L940.9 647.4 L942.4 647.5 L943.8 647.5 L945.3 647.5 L946.8 647.6 L948.3 647.6 L949.7 647.7 L951.2 647.7 L952.7 647.8 L954.2 647.8 L955.6 647.9 L957.1 647.9 L958.6 648.0 L960.1 648.0" fill="none" stroke="#000" stroke-width="1.1" stroke-linejoin="round" />
<circle cx="134.9" cy="628.5" r="1.5" fill="#000"/><circle cx="161.5" cy="625.8" r="1.5" fill="#000"/><circle cx="188.1" cy="627.0" r="1.5" fill="#000"/><circle cx="214.7" cy="626.2" r="1.5" fill="#000"/><circle cx="241.2" cy="627.5" r="1.5" fill="#000"/><circle cx="267.8" cy="619.2" r="1.5" fill="#000"/><circle cx="294.4" cy="619.2" r="1.5" fill="#000"/><circle cx="347.6" cy="620.0" r="1.5" fill="#000"/><circle cx="374.1" cy="621.0" r="1.5" fill="#000"/><circle cx="400.7" cy="620.2" r="1.5" fill="#000"/><circle cx="428.5" cy="620.2" r="1.5" fill="#000"/><circle cx="455.1" cy="622.0" r="1.5" fill="#000"/><circle cx="481.6" cy="623.8" r="1.5" fill="#000"/><circle cx="508.2" cy="627.0" r="1.5" fill="#000"/><circle cx="534.8" cy="626.5" r="1.5" fill="#000"/><circle cx="561.4" cy="626.5" r="1.5" fill="#000"/><circle cx="588.0" cy="626.2" r="1.5" fill="#000"/><circle cx="614.5" cy="628.5" r="1.5" fill="#000"/><circle cx="641.1" cy="635.0" r="1.5" fill="#000"/><circle cx="667.7" cy="631.2" r="1.5" fill="#000"/><circle cx="694.3" cy="629.5" r="1.5" fill="#000"/><circle cx="720.9" cy="631.2" r="1.5" fill="#000"/><circle cx="747.4" cy="630.0" r="1.5" fill="#000"/><circle cx="774.0" cy="634.0" r="1.5" fill="#000"/><circle cx="800.6" cy="641.0" r="1.5" fill="#000"/><circle cx="827.2" cy="645.5" r="1.5" fill="#000"/><circle cx="853.8" cy="649.5" r="1.5" fill="#000"/><circle cx="880.3" cy="648.5" r="1.5" fill="#000"/><circle cx="906.9" cy="647.2" r="1.5" fill="#000"/><circle cx="933.5" cy="647.2" r="1.5" fill="#000"/><circle cx="960.1" cy="648.0" r="1.5" fill="#000"/>
<rect x="521.0" y="634.4" width="24.8" height="11.5" fill="#808080" fill-opacity="0.4"/><text x="521.8" y="642.5" font-size="9.6" textLength="24.0" lengthAdjust="spacingAndGlyphs">Entry</text>
<rect x="577.9" y="649.3" width="18.3" height="3" fill="#808080" fill-opacity="0.4"/>
</g>
<rect x="79.5" y="50.5" width="937.0" height="199.0" fill="none" stroke="#a8a8a8" stroke-width="1"/>
<path d="M77.0 54.5 H79.0 M77.0 82.5 H79.0 M77.0 111.5 H79.0 M77.0 139.5 H79.0 M77.0 168.5 H79.0 M77.0 196.5 H79.0 M77.0 225.5 H79.0" stroke="#a8a8a8" stroke-width="1" fill="none"/>
<text x="73.5" y="58.9" font-size="10.3" stroke="#000" stroke-width="0.18" text-anchor="end" textLength="21.0" lengthAdjust="spacingAndGlyphs">1,40</text>
<text x="73.5" y="86.9" font-size="10.3" stroke="#000" stroke-width="0.18" text-anchor="end" textLength="21.0" lengthAdjust="spacingAndGlyphs">1,35</text>
<text x="73.5" y="115.9" font-size="10.3" stroke="#000" stroke-width="0.18" text-anchor="end" textLength="21.0" lengthAdjust="spacingAndGlyphs">1,30</text>
<text x="73.5" y="143.9" font-size="10.3" stroke="#000" stroke-width="0.18" text-anchor="end" textLength="21.0" lengthAdjust="spacingAndGlyphs">1,25</text>
<text x="73.5" y="172.9" font-size="10.3" stroke="#000" stroke-width="0.18" text-anchor="end" textLength="21.0" lengthAdjust="spacingAndGlyphs">1,20</text>
<text x="73.5" y="200.9" font-size="10.3" stroke="#000" stroke-width="0.18" text-anchor="end" textLength="21.0" lengthAdjust="spacingAndGlyphs">1,15</text>
<text x="73.5" y="229.9" font-size="10.3" stroke="#000" stroke-width="0.18" text-anchor="end" textLength="21.0" lengthAdjust="spacingAndGlyphs">1,10</text>
<text transform="translate(44.2 150.0) rotate(-90)" font-size="13" x="-15.1" textLength="30.2" lengthAdjust="spacingAndGlyphs">Price</text>
<rect x="79.5" y="260.5" width="937.0" height="32.0" fill="none" stroke="#a8a8a8" stroke-width="1"/>
<path d="M77.0 272.5 H79.0 M77.0 292.5 H79.0" stroke="#a8a8a8" stroke-width="1" fill="none"/>
<text x="73.5" y="275.8" font-size="10.3" stroke="#000" stroke-width="0.18" text-anchor="end" textLength="36.0" lengthAdjust="spacingAndGlyphs">500000</text>
<text x="73.5" y="296.2" font-size="10.3" stroke="#000" stroke-width="0.18" text-anchor="end" textLength="6.0" lengthAdjust="spacingAndGlyphs">0</text>
<text transform="translate(29.1 276.5) rotate(-90)" font-size="13" x="-23.0" textLength="46.0" lengthAdjust="spacingAndGlyphs">Volume</text>
<rect x="79.5" y="303.5" width="937.0" height="32.0" fill="none" stroke="#a8a8a8" stroke-width="1"/>
<path d="M77.0 304.5 H79.0 M77.0 333.5 H79.0" stroke="#a8a8a8" stroke-width="1" fill="none"/>
<text x="73.5" y="308.9" font-size="10.3" stroke="#000" stroke-width="0.18" text-anchor="end" textLength="21.0" lengthAdjust="spacingAndGlyphs">0,05</text>
<text x="73.5" y="337.9" font-size="10.3" stroke="#000" stroke-width="0.18" text-anchor="end" textLength="21.0" lengthAdjust="spacingAndGlyphs">0,04</text>
<text transform="translate(44.2 319.5) rotate(-90)" font-size="13" x="-12.1" textLength="24.2" lengthAdjust="spacingAndGlyphs">ATR</text>
<rect x="79.5" y="346.5" width="937.0" height="65.0" fill="none" stroke="#a8a8a8" stroke-width="1"/>
<path d="M77.0 346.5 H79.0 M77.0 378.5 H79.0 M77.0 410.5 H79.0" stroke="#a8a8a8" stroke-width="1" fill="none"/>
<text x="73.5" y="350.0" font-size="10.3" stroke="#000" stroke-width="0.18" text-anchor="end" textLength="18.0" lengthAdjust="spacingAndGlyphs">100</text>
<text x="73.5" y="382.9" font-size="10.3" stroke="#000" stroke-width="0.18" text-anchor="end" textLength="12.0" lengthAdjust="spacingAndGlyphs">50</text>
<text x="73.5" y="414.9" font-size="10.3" stroke="#000" stroke-width="0.18" text-anchor="end" textLength="6.0" lengthAdjust="spacingAndGlyphs">0</text>
<text transform="translate(47.2 379.0) rotate(-90)" font-size="13" x="-13.0" textLength="26.0" lengthAdjust="spacingAndGlyphs">ADX</text>
<rect x="79.5" y="422.5" width="937.0" height="66.0" fill="none" stroke="#a8a8a8" stroke-width="1"/>
<path d="M77.0 422.5 H79.0 M77.0 455.5 H79.0 M77.0 488.5 H79.0" stroke="#a8a8a8" stroke-width="1" fill="none"/>
<text x="73.5" y="426.0" font-size="10.3" stroke="#000" stroke-width="0.18" text-anchor="end" textLength="18.0" lengthAdjust="spacingAndGlyphs">100</text>
<text x="73.5" y="459.0" font-size="10.3" stroke="#000" stroke-width="0.18" text-anchor="end" textLength="12.0" lengthAdjust="spacingAndGlyphs">50</text>
<text x="73.5" y="491.9" font-size="10.3" stroke="#000" stroke-width="0.18" text-anchor="end" textLength="6.0" lengthAdjust="spacingAndGlyphs">0</text>
<text transform="translate(47.2 455.5) rotate(-90)" font-size="13" x="-9.9" textLength="19.8" lengthAdjust="spacingAndGlyphs">RSI</text>
<rect x="79.5" y="499.5" width="937.0" height="65.0" fill="none" stroke="#a8a8a8" stroke-width="1"/>
<path d="M77.0 531.5 H79.0" stroke="#a8a8a8" stroke-width="1" fill="none"/>
<text x="73.5" y="535.9" font-size="10.3" stroke="#000" stroke-width="0.18" text-anchor="end" textLength="6.0" lengthAdjust="spacingAndGlyphs">0</text>
<text transform="translate(58.9 532.0) rotate(-90)" font-size="13" x="-17.4" textLength="34.8" lengthAdjust="spacingAndGlyphs">MACD</text>
<rect x="79.5" y="575.5" width="937.0" height="32.0" fill="none" stroke="#a8a8a8" stroke-width="1"/>
<path d="M77.0 575.5 H79.0 M77.0 591.5 H79.0 M77.0 607.5 H79.0" stroke="#a8a8a8" stroke-width="1" fill="none"/>
<text x="73.5" y="579.1" font-size="10.3" stroke="#000" stroke-width="0.18" text-anchor="end" textLength="18.0" lengthAdjust="spacingAndGlyphs">100</text>
<text x="73.5" y="594.5" font-size="10.3" stroke="#000" stroke-width="0.18" text-anchor="end" textLength="12.0" lengthAdjust="spacingAndGlyphs">50</text>
<text x="73.5" y="610.7" font-size="10.3" stroke="#000" stroke-width="0.18" text-anchor="end" textLength="6.0" lengthAdjust="spacingAndGlyphs">0</text>
<text transform="translate(47.2 591.5) rotate(-90)" font-size="13" x="-10.5" textLength="21.0" lengthAdjust="spacingAndGlyphs">MFI</text>
<rect x="79.5" y="618.5" width="937.0" height="33.0" fill="none" stroke="#a8a8a8" stroke-width="1"/>
<path d="M77.0 623.5 H79.0 M77.0 644.5 H79.0" stroke="#a8a8a8" stroke-width="1" fill="none"/>
<text x="73.5" y="627.9" font-size="10.3" stroke="#000" stroke-width="0.18" text-anchor="end" textLength="42.0" lengthAdjust="spacingAndGlyphs">2000000</text>
<text x="73.5" y="648.9" font-size="10.3" stroke="#000" stroke-width="0.18" text-anchor="end" textLength="6.0" lengthAdjust="spacingAndGlyphs">0</text>
<text transform="translate(23.0 635.0) rotate(-90)" font-size="13" x="-13.1" textLength="26.2" lengthAdjust="spacingAndGlyphs">OBV</text>
<path d="M81.5 651.5 V654 M108.5 651.5 V654 M134.5 651.5 V654 M161.5 651.5 V654 M188.5 651.5 V654 M214.5 651.5 V654 M241.5 651.5 V654 M267.5 651.5 V654 M294.5 651.5 V654 M320.5 651.5 V654 M347.5 651.5 V654 M374.5 651.5 V654 M400.5 651.5 V654 M428.5 651.5 V654 M455.5 651.5 V654 M481.5 651.5 V654 M508.5 651.5 V654 M534.5 651.5 V654 M561.5 651.5 V654 M587.5 651.5 V654 M614.5 651.5 V654 M641.5 651.5 V654 M667.5 651.5 V654 M694.5 651.5 V654 M720.5 651.5 V654 M747.5 651.5 V654 M774.5 651.5 V654 M800.5 651.5 V654 M827.5 651.5 V654 M853.5 651.5 V654 M880.5 651.5 V654 M906.5 651.5 V654 M933.5 651.5 V654 M960.5 651.5 V654 M986.5 651.5 V654 M1013.5 651.5 V654" stroke="#a8a8a8" stroke-width="1" fill="none"/>
<text transform="translate(86.2 698.6) rotate(-90)" font-size="10" stroke="#000" stroke-width="0.3" textLength="43.2" lengthAdjust="spacingAndGlyphs">09-10-24</text>
<text transform="translate(112.7 698.6) rotate(-90)" font-size="10" stroke="#000" stroke-width="0.3" textLength="43.2" lengthAdjust="spacingAndGlyphs">10-10-24</text>
<text transform="translate(139.3 698.6) rotate(-90)" font-size="10" stroke="#000" stroke-width="0.3" textLength="43.2" lengthAdjust="spacingAndGlyphs">11-10-24</text>
<text transform="translate(165.9 698.6) rotate(-90)" font-size="10" stroke="#000" stroke-width="0.3" textLength="43.2" lengthAdjust="spacingAndGlyphs">14-10-24</text>
<text transform="translate(192.5 698.6) rotate(-90)" font-size="10" stroke="#000" stroke-width="0.3" textLength="43.2" lengthAdjust="spacingAndGlyphs">15-10-24</text>
<text transform="translate(219.1 698.6) rotate(-90)" font-size="10" stroke="#000" stroke-width="0.3" textLength="43.2" lengthAdjust="spacingAndGlyphs">16-10-24</text>
<text transform="translate(245.6 698.6) rotate(-90)" font-size="10" stroke="#000" stroke-width="0.3" textLength="43.2" lengthAdjust="spacingAndGlyphs">17-10-24</text>
<text transform="translate(272.2 698.6) rotate(-90)" font-size="10" stroke="#000" stroke-width="0.3" textLength="43.2" lengthAdjust="spacingAndGlyphs">18-10-24</text>
<text transform="translate(298.8 698.6) rotate(-90)" font-size="10" stroke="#000" stroke-width="0.3" textLength="43.2" lengthAdjust="spacingAndGlyphs">21-10-24</text>
<text transform="translate(325.4 698.6) rotate(-90)" font-size="10" stroke="#000" stroke-width="0.3" textLength="43.2" lengthAdjust="spacingAndGlyphs">22-10-24</text>
<text transform="translate(352.0 698.6) rotate(-90)" font-size="10" stroke="#000" stroke-width="0.3" textLength="43.2" lengthAdjust="spacingAndGlyphs">23-10-24</text>
<text transform="translate(378.5 698.6) rotate(-90)" font-size="10" stroke="#000" stroke-width="0.3" textLength="43.2" lengthAdjust="spacingAndGlyphs">24-10-24</text>
<text transform="translate(405.1 698.6) rotate(-90)" font-size="10" stroke="#000" stroke-width="0.3" textLength="43.2" lengthAdjust="spacingAndGlyphs">25-10-24</text>
<text transform="translate(432.9 698.6) rotate(-90)" font-size="10" stroke="#000" stroke-width="0.3" textLength="43.2" lengthAdjust="spacingAndGlyphs">28-10-24</text>
<text transform="translate(459.5 698.6) rotate(-90)" font-size="10" stroke="#000" stroke-width="0.3" textLength="43.2" lengthAdjust="spacingAndGlyphs">29-10-24</text>
<text transform="translate(486.0 698.6) rotate(-90)" font-size="10" stroke="#000" stroke-width="0.3" textLength="43.2" lengthAdjust="spacingAndGlyphs">30-10-24</text>
<text transform="translate(512.6 698.6) rotate(-90)" font-size="10" stroke="#000" stroke-width="0.3" textLength="43.2" lengthAdjust="spacingAndGlyphs">31-10-24</text>
<text transform="translate(539.2 698.6) rotate(-90)" font-size="10" stroke="#000" stroke-width="0.3" textLength="43.2" lengthAdjust="spacingAndGlyphs">01-11-24</text>
<text transform="translate(565.8 698.6) rotate(-90)" font-size="10" stroke="#000" stroke-width="0.3" textLength="43.2" lengthAdjust="spacingAndGlyphs">04-11-24</text>
<text transform="translate(592.4 698.6) rotate(-90)" font-size="10" stroke="#000" stroke-width="0.3" textLength="43.2" lengthAdjust="spacingAndGlyphs">05-11-24</text>
<text transform="translate(618.9 698.6) rotate(-90)" font-size="10" stroke="#000" stroke-width="0.3" textLength="43.2" lengthAdjust="spacingAndGlyphs">06-11-24</text>
<text transform="translate(645.5 698.6) rotate(-90)" font-size="10" stroke="#000" stroke-width="0.3" textLength="43.2" lengthAdjust="spacingAndGlyphs">07-11-24</text>
<text transform="translate(672.1 698.6) rotate(-90)" font-size="10" stroke="#000" stroke-width="0.3" textLength="43.2" lengthAdjust="spacingAndGlyphs">08-11-24</text>
<text transform="translate(698.7 698.6) rotate(-90)" font-size="10" stroke="#000" stroke-width="0.3" textLength="43.2" lengthAdjust="spacingAndGlyphs">11-11-24</text>
<text transform="translate(725.3 698.6) rotate(-90)" font-size="10" stroke="#000" stroke-width="0.3" textLength="43.2" lengthAdjust="spacingAndGlyphs">12-11-24</text>
<text transform="translate(751.8 698.6) rotate(-90)" font-size="10" stroke="#000" stroke-width="0.3" textLength="43.2" lengthAdjust="spacingAndGlyphs">13-11-24</text>
<text transform="translate(778.4 698.6) rotate(-90)" font-size="10" stroke="#000" stroke-width="0.3" textLength="43.2" lengthAdjust="spacingAndGlyphs">14-11-24</text>
<text transform="translate(805.0 698.6) rotate(-90)" font-size="10" stroke="#000" stroke-width="0.3" textLength="43.2" lengthAdjust="spacingAndGlyphs">15-11-24</text>
<text transform="translate(831.6 698.6) rotate(-90)" font-size="10" stroke="#000" stroke-width="0.3" textLength="43.2" lengthAdjust="spacingAndGlyphs">18-11-24</text>
<text transform="translate(858.2 698.6) rotate(-90)" font-size="10" stroke="#000" stroke-width="0.3" textLength="43.2" lengthAdjust="spacingAndGlyphs">19-11-24</text>
<text transform="translate(884.7 698.6) rotate(-90)" font-size="10" stroke="#000" stroke-width="0.3" textLength="43.2" lengthAdjust="spacingAndGlyphs">20-11-24</text>
<text transform="translate(911.3 698.6) rotate(-90)" font-size="10" stroke="#000" stroke-width="0.3" textLength="43.2" lengthAdjust="spacingAndGlyphs">21-11-24</text>
<text transform="translate(937.9 698.6) rotate(-90)" font-size="10" stroke="#000" stroke-width="0.3" textLength="43.2" lengthAdjust="spacingAndGlyphs">22-11-24</text>
<text transform="translate(964.5 698.6) rotate(-90)" font-size="10" stroke="#000" stroke-width="0.3" textLength="43.2" lengthAdjust="spacingAndGlyphs">25-11-24</text>
<text transform="translate(991.1 698.6) rotate(-90)" font-size="10" stroke="#000" stroke-width="0.3" textLength="43.2" lengthAdjust="spacingAndGlyphs">26-11-24</text>
<text transform="translate(1017.6 698.6) rotate(-90)" font-size="10" stroke="#000" stroke-width="0.3" textLength="43.2" lengthAdjust="spacingAndGlyphs">27-11-24</text>
<text x="547.8" y="714.3" font-size="13" text-anchor="middle" textLength="30" lengthAdjust="spacingAndGlyphs">Date</text>
<rect x="1" y="725" width="1022" height="42.5" fill="#fff"/>
<rect x="4" y="731" width="8" height="8.4" fill="#ff5555"/>
<text x="16.1" y="738.9" font-size="12.6" textLength="75.6" lengthAdjust="spacingAndGlyphs">Price in EUR</text>
<path d="M96.7 735.3 H112.3" stroke="#0000ff" stroke-width="1.1"/>
<text x="115.2" y="738.9" font-size="12.6" textLength="35.7" lengthAdjust="spacingAndGlyphs">BB-up</text>
<path d="M156.7 735.3 H172.3" stroke="#0000ff" stroke-width="1.1"/>
<text x="175.3" y="738.9" font-size="12.6" textLength="53.2" lengthAdjust="spacingAndGlyphs">BB-down</text>
<path d="M234.2 735.3 H249.8" stroke="#00ff00" stroke-width="1.1"/>
<text x="252.5" y="738.9" font-size="12.6" textLength="65.5" lengthAdjust="spacingAndGlyphs">BB-SMA-20</text>
<path d="M323.4 735.3 H339.0" stroke="#ffafaf" stroke-width="1.1"/>
<text x="342.3" y="738.9" font-size="12.6" textLength="51.9" lengthAdjust="spacingAndGlyphs">SMA(50)</text>
<path d="M399.4 735.3 H415.0" stroke="#00ffff" stroke-width="1.1"/>
<text x="418.5" y="738.9" font-size="12.6" textLength="59.9" lengthAdjust="spacingAndGlyphs">SMA(200)</text>
<rect x="484.7" y="730.4" width="5" height="9.8" fill="#5555ff"/>
<text x="493.7" y="738.9" font-size="12.6" textLength="46.0" lengthAdjust="spacingAndGlyphs">Volume</text>
<rect x="546.1" y="730.4" width="5" height="9.8" fill="#55ff55"/>
<text x="555.4" y="738.9" font-size="12.6" textLength="24.3" lengthAdjust="spacingAndGlyphs">ATR</text>
<path d="M584.4 735.3 H600.0" stroke="#ff0000" stroke-width="1.1"/><circle cx="592.2" cy="735.3" r="1.4" fill="#ff0000"/>
<text x="602.9" y="738.9" font-size="12.6" textLength="26.4" lengthAdjust="spacingAndGlyphs">ADX</text>
<path d="M634.2 735.3 H649.8" stroke="#0000ff" stroke-width="1.1"/><circle cx="642.0" cy="735.3" r="1.4" fill="#0000ff"/>
<text x="653.3" y="738.9" font-size="12.6" textLength="57.6" lengthAdjust="spacingAndGlyphs">ADX/DM+</text>
<path d="M717.3 735.3 H732.9" stroke="#000" stroke-width="1.1"/><circle cx="725.1" cy="735.3" r="1.4" fill="#000"/>
<text x="736.1" y="738.9" font-size="12.6" textLength="53.9" lengthAdjust="spacingAndGlyphs">ADX/DM-</text>
<path d="M794.5 735.3 H810.1" stroke="#000" stroke-width="1.1"/><circle cx="802.3" cy="735.3" r="1.4" fill="#000"/>
<text x="813.6" y="738.9" font-size="12.6" textLength="38.3" lengthAdjust="spacingAndGlyphs">RSI 14</text>
<path d="M857.0 735.3 H872.6" stroke="#ff0000" stroke-width="1.1"/><circle cx="864.8" cy="735.3" r="1.4" fill="#ff0000"/>
<text x="876.4" y="738.9" font-size="12.6" textLength="30.5" lengthAdjust="spacingAndGlyphs">RSI 5</text>
<path d="M912.1 735.3 H927.7" stroke="#000" stroke-width="1.1"/><circle cx="919.9" cy="735.3" r="1.4" fill="#000"/>
<text x="931.4" y="738.9" font-size="12.6" textLength="72.6" lengthAdjust="spacingAndGlyphs">MACD(5,13)</text>
<path d="M3.1 756.4 H18.7" stroke="#ff0000" stroke-width="1.1"/><circle cx="10.9" cy="756.4" r="1.4" fill="#ff0000"/>
<text x="21.9" y="760.0" font-size="12.6" textLength="91.8" lengthAdjust="spacingAndGlyphs">MACDSignal(4)</text>
<path d="M119.1 756.4 H134.7" stroke="#000" stroke-width="1.1"/><circle cx="126.9" cy="756.4" r="1.4" fill="#000"/>
<text x="136.9" y="760.0" font-size="12.6" textLength="109.3" lengthAdjust="spacingAndGlyphs">Money Flow Index</text>
<path d="M250.9 756.4 H266.5" stroke="#000" stroke-width="1.1"/><circle cx="258.7" cy="756.4" r="1.4" fill="#000"/>
<text x="269.1" y="760.0" font-size="12.6" textLength="26.2" lengthAdjust="spacingAndGlyphs">OBV</text>
<path d="M300.3 756.4 H310.0" stroke="#000" stroke-width="1.1"/>
<text x="313.9" y="760.0" font-size="12.6" textLength="94.3" lengthAdjust="spacingAndGlyphs">Trend(3,30,60)</text>
</svg></body></html>
